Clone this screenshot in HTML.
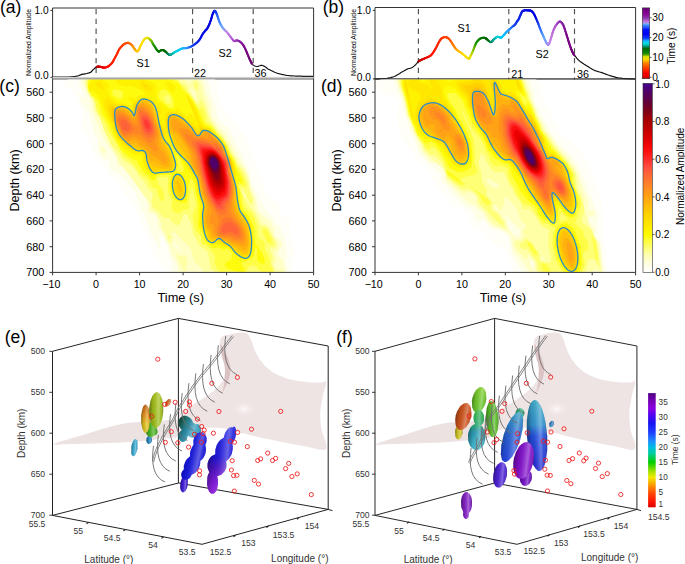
<!DOCTYPE html>
<html><head><meta charset="utf-8"><style>
html,body{margin:0;padding:0;background:#fff;}
svg{display:block;font-family:"Liberation Sans", sans-serif;}
</style></head><body>
<svg width="685" height="564" viewBox="0 0 685 564">
<rect width="685" height="564" fill="#fff"/>
<path d="M52.6 79 V8.0 H313.6 V79" fill="none" stroke="#333" stroke-width="1"/>
<line x1="50.4" y1="10.4" x2="52.6" y2="10.4" stroke="#333" stroke-width="1"/>
<line x1="50.4" y1="77.3" x2="52.6" y2="77.3" stroke="#333" stroke-width="1"/>
<text x="48.6" y="13.9" font-size="10.2" text-anchor="end" fill="#000">1.0</text>
<text x="48.6" y="79.4" font-size="10.2" text-anchor="end" fill="#000">0.0</text>
<text x="31.1" y="42.5" font-size="6.9" text-anchor="middle" fill="#000" transform="rotate(-90 31.1 42.5)">Normalized Amplitude</text>
<line x1="96.1" y1="9" x2="96.1" y2="77.9" stroke="#505050" stroke-width="1.15" stroke-dasharray="5.3 4.5"/>
<line x1="192.6" y1="9" x2="192.6" y2="77.9" stroke="#505050" stroke-width="1.15" stroke-dasharray="5.3 4.5"/>
<line x1="253.2" y1="9" x2="253.2" y2="77.9" stroke="#505050" stroke-width="1.15" stroke-dasharray="5.3 4.5"/>
<path d="M52.6 77 L55 77 L58.4 77 L62 77 L65 77 L67.2 77 L68.9 77 L70.4 76.9 L72 76.8 L73.6 76.6 L75.2 76.4 L76.7 76.1 L78 75.8 L79.1 75.5 L80 75.1 L80.9 74.7 L82 74.4 L83.4 74.1 L85.1 73.8 L86.7 73.5 L88 73.2 L89 72.9 L89.8 72.7 L90.4 72.4 L91 72 L91.5 71.5 L92 71 L92.4 70.4 L93 69.8 L93.8 69.1 L94.7 68.3 L95.7 67.5 L96.5 67" fill="none" stroke="#111" stroke-width="1.2" stroke-linejoin="round"/>
<path d="M252.4 64.4 L253 65 L253.9 65.5 L254.9 66 L255.9 66.3 L256.8 66.5 L257.4 66.5 L258 66.4 L258.4 66.2 L259 66 L259.6 65.8 L260.3 65.5 L261 65.3 L261.8 65.3 L262.7 65.5 L263.7 66 L264.6 66.5 L265.5 67 L266.2 67.5 L266.8 68 L267.3 68.5 L268 69 L268.8 69.4 L269.7 69.8 L270.7 70.3 L271.7 70.7 L272.7 71.2 L273.7 71.8 L274.8 72.3 L276 72.8 L277.3 73.2 L278.7 73.7 L280.2 74 L281.7 74.4 L283.2 74.7 L284.8 75 L286.4 75.3 L288 75.5 L289.5 75.7 L290.8 75.8 L292.3 75.9 L294 76 L296 76.1 L298.2 76.2 L300.6 76.2 L303 76.3 L305.7 76.3 L308.6 76.4 L311.2 76.4 L313 76.4" fill="none" stroke="#111" stroke-width="1.2" stroke-linejoin="round"/>
<line x1="96.5" y1="67" x2="97.2" y2="66.7" stroke="#af0000" stroke-width="2.1" stroke-linecap="round"/>
<line x1="97.2" y1="66.7" x2="97.8" y2="66.6" stroke="#b50000" stroke-width="2.1" stroke-linecap="round"/>
<line x1="97.8" y1="66.6" x2="98.4" y2="66.6" stroke="#bb0000" stroke-width="2.1" stroke-linecap="round"/>
<line x1="98.4" y1="66.6" x2="99" y2="66.6" stroke="#c00000" stroke-width="2.1" stroke-linecap="round"/>
<line x1="99" y1="66.6" x2="99.7" y2="66.7" stroke="#c60000" stroke-width="2.1" stroke-linecap="round"/>
<line x1="99.7" y1="66.7" x2="100.4" y2="66.8" stroke="#cc0000" stroke-width="2.1" stroke-linecap="round"/>
<line x1="100.4" y1="66.8" x2="101" y2="67" stroke="#d30000" stroke-width="2.1" stroke-linecap="round"/>
<line x1="101" y1="67" x2="101.7" y2="67.2" stroke="#d90000" stroke-width="2.1" stroke-linecap="round"/>
<line x1="101.7" y1="67.2" x2="102.3" y2="67.3" stroke="#df0000" stroke-width="2.1" stroke-linecap="round"/>
<line x1="102.3" y1="67.3" x2="102.8" y2="67.5" stroke="#e40000" stroke-width="2.1" stroke-linecap="round"/>
<line x1="102.8" y1="67.5" x2="103.4" y2="67.6" stroke="#e70100" stroke-width="2.1" stroke-linecap="round"/>
<line x1="103.4" y1="67.6" x2="104" y2="67.6" stroke="#e90300" stroke-width="2.1" stroke-linecap="round"/>
<line x1="104" y1="67.6" x2="104.7" y2="67.5" stroke="#ec0500" stroke-width="2.1" stroke-linecap="round"/>
<line x1="104.7" y1="67.5" x2="105.5" y2="67.4" stroke="#ef0700" stroke-width="2.1" stroke-linecap="round"/>
<line x1="105.5" y1="67.4" x2="106.3" y2="67.2" stroke="#f20a00" stroke-width="2.1" stroke-linecap="round"/>
<line x1="106.3" y1="67.2" x2="107" y2="67" stroke="#f50c00" stroke-width="2.1" stroke-linecap="round"/>
<line x1="107" y1="67" x2="107.5" y2="66.8" stroke="#f70e00" stroke-width="2.1" stroke-linecap="round"/>
<line x1="107.5" y1="66.8" x2="108" y2="66.5" stroke="#f90f00" stroke-width="2.1" stroke-linecap="round"/>
<line x1="108" y1="66.5" x2="108.5" y2="66.2" stroke="#fb1100" stroke-width="2.1" stroke-linecap="round"/>
<line x1="108.5" y1="66.2" x2="109" y2="65.8" stroke="#fd1200" stroke-width="2.1" stroke-linecap="round"/>
<line x1="109" y1="65.8" x2="109.7" y2="65.2" stroke="#ff1400" stroke-width="2.1" stroke-linecap="round"/>
<line x1="109.7" y1="65.2" x2="110.5" y2="64.5" stroke="#ff1600" stroke-width="2.1" stroke-linecap="round"/>
<line x1="110.5" y1="64.5" x2="111.3" y2="63.8" stroke="#ff1800" stroke-width="2.1" stroke-linecap="round"/>
<line x1="111.3" y1="63.8" x2="112" y2="63" stroke="#ff1b00" stroke-width="2.1" stroke-linecap="round"/>
<line x1="112" y1="63" x2="112.5" y2="62.2" stroke="#ff1c00" stroke-width="2.1" stroke-linecap="round"/>
<line x1="112.5" y1="62.2" x2="113" y2="61.4" stroke="#ff1e00" stroke-width="2.1" stroke-linecap="round"/>
<line x1="113" y1="61.4" x2="113.5" y2="60.5" stroke="#ff1f00" stroke-width="2.1" stroke-linecap="round"/>
<line x1="113.5" y1="60.5" x2="114" y2="59.5" stroke="#ff2000" stroke-width="2.1" stroke-linecap="round"/>
<line x1="114" y1="59.5" x2="114.7" y2="58.2" stroke="#ff2200" stroke-width="2.1" stroke-linecap="round"/>
<line x1="114.7" y1="58.2" x2="115.5" y2="56.8" stroke="#ff2400" stroke-width="2.1" stroke-linecap="round"/>
<line x1="115.5" y1="56.8" x2="116.3" y2="55.3" stroke="#ff2600" stroke-width="2.1" stroke-linecap="round"/>
<line x1="116.3" y1="55.3" x2="117" y2="54" stroke="#ff2800" stroke-width="2.1" stroke-linecap="round"/>
<line x1="117" y1="54" x2="117.5" y2="52.8" stroke="#ff2a00" stroke-width="2.1" stroke-linecap="round"/>
<line x1="117.5" y1="52.8" x2="118" y2="51.7" stroke="#ff2b00" stroke-width="2.1" stroke-linecap="round"/>
<line x1="118" y1="51.7" x2="118.5" y2="50.6" stroke="#ff2d00" stroke-width="2.1" stroke-linecap="round"/>
<line x1="118.5" y1="50.6" x2="119" y2="49.6" stroke="#ff2e00" stroke-width="2.1" stroke-linecap="round"/>
<line x1="119" y1="49.6" x2="119.7" y2="48.6" stroke="#ff3000" stroke-width="2.1" stroke-linecap="round"/>
<line x1="119.7" y1="48.6" x2="120.5" y2="47.6" stroke="#ff3200" stroke-width="2.1" stroke-linecap="round"/>
<line x1="120.5" y1="47.6" x2="121.3" y2="46.8" stroke="#ff3600" stroke-width="2.1" stroke-linecap="round"/>
<line x1="121.3" y1="46.8" x2="122" y2="46" stroke="#ff3900" stroke-width="2.1" stroke-linecap="round"/>
<line x1="122" y1="46" x2="122.5" y2="45.4" stroke="#ff3c00" stroke-width="2.1" stroke-linecap="round"/>
<line x1="122.5" y1="45.4" x2="123" y2="45" stroke="#ff3e00" stroke-width="2.1" stroke-linecap="round"/>
<line x1="123" y1="45" x2="123.4" y2="44.6" stroke="#ff4000" stroke-width="2.1" stroke-linecap="round"/>
<line x1="123.4" y1="44.6" x2="124" y2="44.2" stroke="#ff4200" stroke-width="2.1" stroke-linecap="round"/>
<line x1="124" y1="44.2" x2="124.8" y2="43.8" stroke="#ff4600" stroke-width="2.1" stroke-linecap="round"/>
<line x1="124.8" y1="43.8" x2="125.8" y2="43.3" stroke="#ff4a00" stroke-width="2.1" stroke-linecap="round"/>
<line x1="125.8" y1="43.3" x2="126.8" y2="43" stroke="#ff4e00" stroke-width="2.1" stroke-linecap="round"/>
<line x1="126.8" y1="43" x2="127.8" y2="42.9" stroke="#ff5300" stroke-width="2.1" stroke-linecap="round"/>
<line x1="127.8" y1="42.9" x2="128.8" y2="43.1" stroke="#ff5800" stroke-width="2.1" stroke-linecap="round"/>
<line x1="128.8" y1="43.1" x2="129.7" y2="43.5" stroke="#ff5f00" stroke-width="2.1" stroke-linecap="round"/>
<line x1="129.7" y1="43.5" x2="130.7" y2="44.1" stroke="#ff6a00" stroke-width="2.1" stroke-linecap="round"/>
<line x1="130.7" y1="44.1" x2="131.5" y2="44.7" stroke="#ff7400" stroke-width="2.1" stroke-linecap="round"/>
<line x1="131.5" y1="44.7" x2="132.2" y2="45.5" stroke="#ff7d00" stroke-width="2.1" stroke-linecap="round"/>
<line x1="132.2" y1="45.5" x2="132.9" y2="46.4" stroke="#ff8600" stroke-width="2.1" stroke-linecap="round"/>
<line x1="132.9" y1="46.4" x2="133.5" y2="47.3" stroke="#ff8d00" stroke-width="2.1" stroke-linecap="round"/>
<line x1="133.5" y1="47.3" x2="134" y2="48" stroke="#ff9300" stroke-width="2.1" stroke-linecap="round"/>
<line x1="134" y1="48" x2="134.3" y2="48.5" stroke="#ff9800" stroke-width="2.1" stroke-linecap="round"/>
<line x1="134.3" y1="48.5" x2="134.5" y2="48.9" stroke="#ff9c00" stroke-width="2.1" stroke-linecap="round"/>
<line x1="134.5" y1="48.9" x2="134.7" y2="49.2" stroke="#ff9e00" stroke-width="2.1" stroke-linecap="round"/>
<line x1="134.7" y1="49.2" x2="135" y2="49.6" stroke="#ffa100" stroke-width="2.1" stroke-linecap="round"/>
<line x1="135" y1="49.6" x2="135.4" y2="50.1" stroke="#ffa600" stroke-width="2.1" stroke-linecap="round"/>
<line x1="135.4" y1="50.1" x2="135.9" y2="50.7" stroke="#ffac00" stroke-width="2.1" stroke-linecap="round"/>
<line x1="135.9" y1="50.7" x2="136.5" y2="51.2" stroke="#ffb300" stroke-width="2.1" stroke-linecap="round"/>
<line x1="136.5" y1="51.2" x2="137" y2="51.4" stroke="#ffba00" stroke-width="2.1" stroke-linecap="round"/>
<line x1="137" y1="51.4" x2="137.5" y2="51.2" stroke="#ffc000" stroke-width="2.1" stroke-linecap="round"/>
<line x1="137.5" y1="51.2" x2="138.1" y2="50.7" stroke="#ffc500" stroke-width="2.1" stroke-linecap="round"/>
<line x1="138.1" y1="50.7" x2="138.6" y2="50.1" stroke="#ffc900" stroke-width="2.1" stroke-linecap="round"/>
<line x1="138.6" y1="50.1" x2="139" y2="49.5" stroke="#ffcc00" stroke-width="2.1" stroke-linecap="round"/>
<line x1="139" y1="49.5" x2="139.3" y2="49" stroke="#ffcf00" stroke-width="2.1" stroke-linecap="round"/>
<line x1="139.3" y1="49" x2="139.5" y2="48.4" stroke="#ffd000" stroke-width="2.1" stroke-linecap="round"/>
<line x1="139.5" y1="48.4" x2="139.7" y2="47.7" stroke="#ffd200" stroke-width="2.1" stroke-linecap="round"/>
<line x1="139.7" y1="47.7" x2="140" y2="47" stroke="#ffd400" stroke-width="2.1" stroke-linecap="round"/>
<line x1="140" y1="47" x2="140.4" y2="46.1" stroke="#ffd600" stroke-width="2.1" stroke-linecap="round"/>
<line x1="140.4" y1="46.1" x2="140.9" y2="45.1" stroke="#ffd900" stroke-width="2.1" stroke-linecap="round"/>
<line x1="140.9" y1="45.1" x2="141.5" y2="44" stroke="#ffdd00" stroke-width="2.1" stroke-linecap="round"/>
<line x1="141.5" y1="44" x2="142" y2="43" stroke="#ffe100" stroke-width="2.1" stroke-linecap="round"/>
<line x1="142" y1="43" x2="142.5" y2="42.1" stroke="#fde100" stroke-width="2.1" stroke-linecap="round"/>
<line x1="142.5" y1="42.1" x2="143" y2="41.2" stroke="#fbe100" stroke-width="2.1" stroke-linecap="round"/>
<line x1="143" y1="41.2" x2="143.5" y2="40.4" stroke="#f9e100" stroke-width="2.1" stroke-linecap="round"/>
<line x1="143.5" y1="40.4" x2="144" y2="39.7" stroke="#f7e100" stroke-width="2.1" stroke-linecap="round"/>
<line x1="144" y1="39.7" x2="144.5" y2="39.2" stroke="#f6e100" stroke-width="2.1" stroke-linecap="round"/>
<line x1="144.5" y1="39.2" x2="145" y2="38.8" stroke="#f4e100" stroke-width="2.1" stroke-linecap="round"/>
<line x1="145" y1="38.8" x2="145.5" y2="38.4" stroke="#f2e100" stroke-width="2.1" stroke-linecap="round"/>
<line x1="145.5" y1="38.4" x2="146" y2="38.2" stroke="#f0e100" stroke-width="2.1" stroke-linecap="round"/>
<line x1="146" y1="38.2" x2="146.5" y2="38" stroke="#eee100" stroke-width="2.1" stroke-linecap="round"/>
<line x1="146.5" y1="38" x2="147" y2="37.9" stroke="#ece100" stroke-width="2.1" stroke-linecap="round"/>
<line x1="147" y1="37.9" x2="147.5" y2="37.9" stroke="#eae100" stroke-width="2.1" stroke-linecap="round"/>
<line x1="147.5" y1="37.9" x2="148" y2="38" stroke="#e8e100" stroke-width="2.1" stroke-linecap="round"/>
<line x1="148" y1="38" x2="148.5" y2="38.3" stroke="#e6e100" stroke-width="2.1" stroke-linecap="round"/>
<line x1="148.5" y1="38.3" x2="149" y2="38.6" stroke="#d7dc00" stroke-width="2.1" stroke-linecap="round"/>
<line x1="149" y1="38.6" x2="149.5" y2="39.1" stroke="#c7d700" stroke-width="2.1" stroke-linecap="round"/>
<line x1="149.5" y1="39.1" x2="150" y2="39.5" stroke="#b9d300" stroke-width="2.1" stroke-linecap="round"/>
<line x1="150" y1="39.5" x2="150.4" y2="39.8" stroke="#accf00" stroke-width="2.1" stroke-linecap="round"/>
<line x1="150.4" y1="39.8" x2="150.7" y2="40.2" stroke="#a0cb00" stroke-width="2.1" stroke-linecap="round"/>
<line x1="150.7" y1="40.2" x2="151.1" y2="40.5" stroke="#96c800" stroke-width="2.1" stroke-linecap="round"/>
<line x1="151.1" y1="40.5" x2="151.4" y2="41" stroke="#89c300" stroke-width="2.1" stroke-linecap="round"/>
<line x1="151.4" y1="41" x2="151.8" y2="41.6" stroke="#7bbd00" stroke-width="2.1" stroke-linecap="round"/>
<line x1="151.8" y1="41.6" x2="152.2" y2="42.4" stroke="#6cb600" stroke-width="2.1" stroke-linecap="round"/>
<line x1="152.2" y1="42.4" x2="152.6" y2="43.2" stroke="#5cb000" stroke-width="2.1" stroke-linecap="round"/>
<line x1="152.6" y1="43.2" x2="153" y2="44" stroke="#4ba900" stroke-width="2.1" stroke-linecap="round"/>
<line x1="153" y1="44" x2="153.5" y2="44.8" stroke="#39a100" stroke-width="2.1" stroke-linecap="round"/>
<line x1="153.5" y1="44.8" x2="154" y2="45.5" stroke="#269900" stroke-width="2.1" stroke-linecap="round"/>
<line x1="154" y1="45.5" x2="154.5" y2="46.2" stroke="#1c9400" stroke-width="2.1" stroke-linecap="round"/>
<line x1="154.5" y1="46.2" x2="155" y2="47" stroke="#199100" stroke-width="2.1" stroke-linecap="round"/>
<line x1="155" y1="47" x2="155.5" y2="47.8" stroke="#168e00" stroke-width="2.1" stroke-linecap="round"/>
<line x1="155.5" y1="47.8" x2="156" y2="48.6" stroke="#138b00" stroke-width="2.1" stroke-linecap="round"/>
<line x1="156" y1="48.6" x2="156.5" y2="49.3" stroke="#118900" stroke-width="2.1" stroke-linecap="round"/>
<line x1="156.5" y1="49.3" x2="157" y2="50" stroke="#0e8600" stroke-width="2.1" stroke-linecap="round"/>
<line x1="157" y1="50" x2="157.5" y2="50.6" stroke="#0b8300" stroke-width="2.1" stroke-linecap="round"/>
<line x1="157.5" y1="50.6" x2="157.9" y2="51" stroke="#088000" stroke-width="2.1" stroke-linecap="round"/>
<line x1="157.9" y1="51" x2="158.4" y2="51.4" stroke="#067e00" stroke-width="2.1" stroke-linecap="round"/>
<line x1="158.4" y1="51.4" x2="158.8" y2="51.6" stroke="#037b00" stroke-width="2.1" stroke-linecap="round"/>
<line x1="158.8" y1="51.6" x2="159.2" y2="51.5" stroke="#017900" stroke-width="2.1" stroke-linecap="round"/>
<line x1="159.2" y1="51.5" x2="159.6" y2="51.2" stroke="#007700" stroke-width="2.1" stroke-linecap="round"/>
<line x1="159.6" y1="51.2" x2="160.1" y2="50.9" stroke="#007600" stroke-width="2.1" stroke-linecap="round"/>
<line x1="160.1" y1="50.9" x2="160.5" y2="50.6" stroke="#007400" stroke-width="2.1" stroke-linecap="round"/>
<line x1="160.5" y1="50.6" x2="161" y2="50.4" stroke="#007300" stroke-width="2.1" stroke-linecap="round"/>
<line x1="161" y1="50.4" x2="161.5" y2="50.2" stroke="#007200" stroke-width="2.1" stroke-linecap="round"/>
<line x1="161.5" y1="50.2" x2="162" y2="50" stroke="#007000" stroke-width="2.1" stroke-linecap="round"/>
<line x1="162" y1="50" x2="162.5" y2="50" stroke="#006e00" stroke-width="2.1" stroke-linecap="round"/>
<line x1="162.5" y1="50" x2="163" y2="50.1" stroke="#006d00" stroke-width="2.1" stroke-linecap="round"/>
<line x1="163" y1="50.1" x2="163.5" y2="50.3" stroke="#006b00" stroke-width="2.1" stroke-linecap="round"/>
<line x1="163.5" y1="50.3" x2="164" y2="50.5" stroke="#006a00" stroke-width="2.1" stroke-linecap="round"/>
<line x1="164" y1="50.5" x2="164.5" y2="50.8" stroke="#006800" stroke-width="2.1" stroke-linecap="round"/>
<line x1="164.5" y1="50.8" x2="164.9" y2="51.1" stroke="#006700" stroke-width="2.1" stroke-linecap="round"/>
<line x1="164.9" y1="51.1" x2="165.2" y2="51.3" stroke="#006600" stroke-width="2.1" stroke-linecap="round"/>
<line x1="165.2" y1="51.3" x2="165.6" y2="51.6" stroke="#006500" stroke-width="2.1" stroke-linecap="round"/>
<line x1="165.6" y1="51.6" x2="166" y2="52" stroke="#006605" stroke-width="2.1" stroke-linecap="round"/>
<line x1="166" y1="52" x2="166.5" y2="52.5" stroke="#006b11" stroke-width="2.1" stroke-linecap="round"/>
<line x1="166.5" y1="52.5" x2="167" y2="53" stroke="#00711e" stroke-width="2.1" stroke-linecap="round"/>
<line x1="167" y1="53" x2="167.5" y2="53.6" stroke="#00762c" stroke-width="2.1" stroke-linecap="round"/>
<line x1="167.5" y1="53.6" x2="168" y2="54" stroke="#007c3b" stroke-width="2.1" stroke-linecap="round"/>
<line x1="168" y1="54" x2="168.5" y2="54.4" stroke="#008249" stroke-width="2.1" stroke-linecap="round"/>
<line x1="168.5" y1="54.4" x2="169" y2="54.7" stroke="#008856" stroke-width="2.1" stroke-linecap="round"/>
<line x1="169" y1="54.7" x2="169.5" y2="54.9" stroke="#008e64" stroke-width="2.1" stroke-linecap="round"/>
<line x1="169.5" y1="54.9" x2="170" y2="55" stroke="#009472" stroke-width="2.1" stroke-linecap="round"/>
<line x1="170" y1="55" x2="170.5" y2="54.9" stroke="#00997d" stroke-width="2.1" stroke-linecap="round"/>
<line x1="170.5" y1="54.9" x2="170.9" y2="54.7" stroke="#009e85" stroke-width="2.1" stroke-linecap="round"/>
<line x1="170.9" y1="54.7" x2="171.4" y2="54.4" stroke="#00a38e" stroke-width="2.1" stroke-linecap="round"/>
<line x1="171.4" y1="54.4" x2="172" y2="54" stroke="#00a997" stroke-width="2.1" stroke-linecap="round"/>
<line x1="172" y1="54" x2="172.7" y2="53.6" stroke="#00afa2" stroke-width="2.1" stroke-linecap="round"/>
<line x1="172.7" y1="53.6" x2="173.4" y2="53" stroke="#00b7af" stroke-width="2.1" stroke-linecap="round"/>
<line x1="173.4" y1="53" x2="174.2" y2="52.5" stroke="#00bfbd" stroke-width="2.1" stroke-linecap="round"/>
<line x1="174.2" y1="52.5" x2="175" y2="52" stroke="#00c8cb" stroke-width="2.1" stroke-linecap="round"/>
<line x1="175" y1="52" x2="175.7" y2="51.6" stroke="#00cfd8" stroke-width="2.1" stroke-linecap="round"/>
<line x1="175.7" y1="51.6" x2="176.4" y2="51.3" stroke="#00d1df" stroke-width="2.1" stroke-linecap="round"/>
<line x1="176.4" y1="51.3" x2="177.2" y2="50.9" stroke="#00d0e4" stroke-width="2.1" stroke-linecap="round"/>
<line x1="177.2" y1="50.9" x2="178" y2="50.5" stroke="#00cee9" stroke-width="2.1" stroke-linecap="round"/>
<line x1="178" y1="50.5" x2="179" y2="50" stroke="#00ccf0" stroke-width="2.1" stroke-linecap="round"/>
<line x1="179" y1="50" x2="180.1" y2="49.4" stroke="#00caf7" stroke-width="2.1" stroke-linecap="round"/>
<line x1="180.1" y1="49.4" x2="181.2" y2="48.8" stroke="#00c8fe" stroke-width="2.1" stroke-linecap="round"/>
<line x1="181.2" y1="48.8" x2="182.4" y2="48.4" stroke="#08c0ff" stroke-width="2.1" stroke-linecap="round"/>
<line x1="182.4" y1="48.4" x2="183.6" y2="48.2" stroke="#11b7ff" stroke-width="2.1" stroke-linecap="round"/>
<line x1="183.6" y1="48.2" x2="184.9" y2="48.1" stroke="#1badff" stroke-width="2.1" stroke-linecap="round"/>
<line x1="184.9" y1="48.1" x2="186.1" y2="48.1" stroke="#24a4ff" stroke-width="2.1" stroke-linecap="round"/>
<line x1="186.1" y1="48.1" x2="187.4" y2="47.9" stroke="#2e9aff" stroke-width="2.1" stroke-linecap="round"/>
<line x1="187.4" y1="47.9" x2="188.6" y2="47.5" stroke="#2e8afd" stroke-width="2.1" stroke-linecap="round"/>
<line x1="188.6" y1="47.5" x2="189.8" y2="47.1" stroke="#2877fa" stroke-width="2.1" stroke-linecap="round"/>
<line x1="189.8" y1="47.1" x2="191.1" y2="46.6" stroke="#2163f7" stroke-width="2.1" stroke-linecap="round"/>
<line x1="191.1" y1="46.6" x2="192.3" y2="45.9" stroke="#1b50f3" stroke-width="2.1" stroke-linecap="round"/>
<line x1="192.3" y1="45.9" x2="193.6" y2="45.1" stroke="#143cf0" stroke-width="2.1" stroke-linecap="round"/>
<line x1="193.6" y1="45.1" x2="194.9" y2="44.1" stroke="#1235ee" stroke-width="2.1" stroke-linecap="round"/>
<line x1="194.9" y1="44.1" x2="196.2" y2="43.1" stroke="#102eec" stroke-width="2.1" stroke-linecap="round"/>
<line x1="196.2" y1="43.1" x2="197.3" y2="42.2" stroke="#0f27eb" stroke-width="2.1" stroke-linecap="round"/>
<line x1="197.3" y1="42.2" x2="198.1" y2="41.4" stroke="#0d22e9" stroke-width="2.1" stroke-linecap="round"/>
<line x1="198.1" y1="41.4" x2="198.8" y2="40.6" stroke="#0c1ee8" stroke-width="2.1" stroke-linecap="round"/>
<line x1="198.8" y1="40.6" x2="199.4" y2="39.9" stroke="#0c1ae8" stroke-width="2.1" stroke-linecap="round"/>
<line x1="199.4" y1="39.9" x2="200" y2="39" stroke="#0b17e7" stroke-width="2.1" stroke-linecap="round"/>
<line x1="200" y1="39" x2="200.6" y2="38" stroke="#0a14e6" stroke-width="2.1" stroke-linecap="round"/>
<line x1="200.6" y1="38" x2="201.2" y2="36.9" stroke="#0a13e6" stroke-width="2.1" stroke-linecap="round"/>
<line x1="201.2" y1="36.9" x2="201.7" y2="35.8" stroke="#0912e5" stroke-width="2.1" stroke-linecap="round"/>
<line x1="201.7" y1="35.8" x2="202.3" y2="34.7" stroke="#0911e5" stroke-width="2.1" stroke-linecap="round"/>
<line x1="202.3" y1="34.7" x2="203" y2="33.7" stroke="#0810e4" stroke-width="2.1" stroke-linecap="round"/>
<line x1="203" y1="33.7" x2="203.7" y2="32.7" stroke="#080fe4" stroke-width="2.1" stroke-linecap="round"/>
<line x1="203.7" y1="32.7" x2="204.4" y2="31.8" stroke="#070ee3" stroke-width="2.1" stroke-linecap="round"/>
<line x1="204.4" y1="31.8" x2="205" y2="31" stroke="#070de3" stroke-width="2.1" stroke-linecap="round"/>
<line x1="205" y1="31" x2="205.6" y2="30.3" stroke="#060ce2" stroke-width="2.1" stroke-linecap="round"/>
<line x1="205.6" y1="30.3" x2="206.2" y2="29.7" stroke="#060be2" stroke-width="2.1" stroke-linecap="round"/>
<line x1="206.2" y1="29.7" x2="206.7" y2="29.2" stroke="#050be1" stroke-width="2.1" stroke-linecap="round"/>
<line x1="206.7" y1="29.2" x2="207.2" y2="28.5" stroke="#050ae1" stroke-width="2.1" stroke-linecap="round"/>
<line x1="207.2" y1="28.5" x2="207.7" y2="27.7" stroke="#0509e1" stroke-width="2.1" stroke-linecap="round"/>
<line x1="207.7" y1="27.7" x2="208.1" y2="26.9" stroke="#0408e0" stroke-width="2.1" stroke-linecap="round"/>
<line x1="208.1" y1="26.9" x2="208.5" y2="26" stroke="#0408e0" stroke-width="2.1" stroke-linecap="round"/>
<line x1="208.5" y1="26" x2="209" y2="25" stroke="#0307df" stroke-width="2.1" stroke-linecap="round"/>
<line x1="209" y1="25" x2="209.5" y2="23.8" stroke="#0306df" stroke-width="2.1" stroke-linecap="round"/>
<line x1="209.5" y1="23.8" x2="210" y2="22.5" stroke="#0305df" stroke-width="2.1" stroke-linecap="round"/>
<line x1="210" y1="22.5" x2="210.5" y2="21.1" stroke="#0205de" stroke-width="2.1" stroke-linecap="round"/>
<line x1="210.5" y1="21.1" x2="211" y2="19.8" stroke="#0204de" stroke-width="2.1" stroke-linecap="round"/>
<line x1="211" y1="19.8" x2="211.4" y2="18.4" stroke="#0203de" stroke-width="2.1" stroke-linecap="round"/>
<line x1="211.4" y1="18.4" x2="211.8" y2="17" stroke="#0103dd" stroke-width="2.1" stroke-linecap="round"/>
<line x1="211.8" y1="17" x2="212.1" y2="15.7" stroke="#0102dd" stroke-width="2.1" stroke-linecap="round"/>
<line x1="212.1" y1="15.7" x2="212.5" y2="14.5" stroke="#0102dd" stroke-width="2.1" stroke-linecap="round"/>
<line x1="212.5" y1="14.5" x2="212.9" y2="13.4" stroke="#0001dc" stroke-width="2.1" stroke-linecap="round"/>
<line x1="212.9" y1="13.4" x2="213.4" y2="12.5" stroke="#0000dc" stroke-width="2.1" stroke-linecap="round"/>
<line x1="213.4" y1="12.5" x2="213.8" y2="11.7" stroke="#0307de" stroke-width="2.1" stroke-linecap="round"/>
<line x1="213.8" y1="11.7" x2="214.2" y2="11.2" stroke="#0710e2" stroke-width="2.1" stroke-linecap="round"/>
<line x1="214.2" y1="11.2" x2="214.5" y2="10.9" stroke="#0a19e5" stroke-width="2.1" stroke-linecap="round"/>
<line x1="214.5" y1="10.9" x2="214.9" y2="10.9" stroke="#0d21e7" stroke-width="2.1" stroke-linecap="round"/>
<line x1="214.9" y1="10.9" x2="215.2" y2="11.1" stroke="#1028ea" stroke-width="2.1" stroke-linecap="round"/>
<line x1="215.2" y1="11.1" x2="215.5" y2="11.5" stroke="#132fec" stroke-width="2.1" stroke-linecap="round"/>
<line x1="215.5" y1="11.5" x2="215.9" y2="12" stroke="#1637ef" stroke-width="2.1" stroke-linecap="round"/>
<line x1="215.9" y1="12" x2="216.2" y2="12.8" stroke="#193ff2" stroke-width="2.1" stroke-linecap="round"/>
<line x1="216.2" y1="12.8" x2="216.6" y2="13.7" stroke="#1d48f5" stroke-width="2.1" stroke-linecap="round"/>
<line x1="216.6" y1="13.7" x2="217.1" y2="14.9" stroke="#2152f9" stroke-width="2.1" stroke-linecap="round"/>
<line x1="217.1" y1="14.9" x2="217.6" y2="16.5" stroke="#265efd" stroke-width="2.1" stroke-linecap="round"/>
<line x1="217.6" y1="16.5" x2="218.2" y2="18.4" stroke="#2c69ff" stroke-width="2.1" stroke-linecap="round"/>
<line x1="218.2" y1="18.4" x2="218.9" y2="20.4" stroke="#3573ff" stroke-width="2.1" stroke-linecap="round"/>
<line x1="218.9" y1="20.4" x2="219.6" y2="22.3" stroke="#3e7eff" stroke-width="2.1" stroke-linecap="round"/>
<line x1="219.6" y1="22.3" x2="220.4" y2="24" stroke="#498bff" stroke-width="2.1" stroke-linecap="round"/>
<line x1="220.4" y1="24" x2="221.4" y2="25.6" stroke="#5599ff" stroke-width="2.1" stroke-linecap="round"/>
<line x1="221.4" y1="25.6" x2="222.3" y2="27.1" stroke="#63a8ff" stroke-width="2.1" stroke-linecap="round"/>
<line x1="222.3" y1="27.1" x2="223.3" y2="28.5" stroke="#73a4fb" stroke-width="2.1" stroke-linecap="round"/>
<line x1="223.3" y1="28.5" x2="224.2" y2="29.6" stroke="#849df7" stroke-width="2.1" stroke-linecap="round"/>
<line x1="224.2" y1="29.6" x2="225.1" y2="30.5" stroke="#9497f3" stroke-width="2.1" stroke-linecap="round"/>
<line x1="225.1" y1="30.5" x2="226.1" y2="31.3" stroke="#a590ef" stroke-width="2.1" stroke-linecap="round"/>
<line x1="226.1" y1="31.3" x2="227" y2="32.3" stroke="#b589eb" stroke-width="2.1" stroke-linecap="round"/>
<line x1="227" y1="32.3" x2="228" y2="33.5" stroke="#c683e6" stroke-width="2.1" stroke-linecap="round"/>
<line x1="228" y1="33.5" x2="228.9" y2="34.7" stroke="#c57be3" stroke-width="2.1" stroke-linecap="round"/>
<line x1="228.9" y1="34.7" x2="229.9" y2="36" stroke="#c174df" stroke-width="2.1" stroke-linecap="round"/>
<line x1="229.9" y1="36" x2="230.8" y2="37.2" stroke="#bd6ddb" stroke-width="2.1" stroke-linecap="round"/>
<line x1="230.8" y1="37.2" x2="231.6" y2="38.3" stroke="#ba66d8" stroke-width="2.1" stroke-linecap="round"/>
<line x1="231.6" y1="38.3" x2="232.5" y2="39.4" stroke="#b760d5" stroke-width="2.1" stroke-linecap="round"/>
<line x1="232.5" y1="39.4" x2="233.2" y2="40.4" stroke="#b45ad2" stroke-width="2.1" stroke-linecap="round"/>
<line x1="233.2" y1="40.4" x2="234" y2="41" stroke="#af54cd" stroke-width="2.1" stroke-linecap="round"/>
<line x1="234" y1="41" x2="234.7" y2="41.1" stroke="#aa4ec8" stroke-width="2.1" stroke-linecap="round"/>
<line x1="234.7" y1="41.1" x2="235.5" y2="40.8" stroke="#a648c4" stroke-width="2.1" stroke-linecap="round"/>
<line x1="235.5" y1="40.8" x2="236.2" y2="40.5" stroke="#a143bf" stroke-width="2.1" stroke-linecap="round"/>
<line x1="236.2" y1="40.5" x2="237" y2="40.4" stroke="#9d3dbb" stroke-width="2.1" stroke-linecap="round"/>
<line x1="237" y1="40.4" x2="237.9" y2="40.6" stroke="#9736b5" stroke-width="2.1" stroke-linecap="round"/>
<line x1="237.9" y1="40.6" x2="238.8" y2="41" stroke="#922fb0" stroke-width="2.1" stroke-linecap="round"/>
<line x1="238.8" y1="41" x2="239.8" y2="41.5" stroke="#8c28aa" stroke-width="2.1" stroke-linecap="round"/>
<line x1="239.8" y1="41.5" x2="240.7" y2="42.2" stroke="#8922a4" stroke-width="2.1" stroke-linecap="round"/>
<line x1="240.7" y1="42.2" x2="241.6" y2="43.1" stroke="#861c9e" stroke-width="2.1" stroke-linecap="round"/>
<line x1="241.6" y1="43.1" x2="242.5" y2="44.2" stroke="#831799" stroke-width="2.1" stroke-linecap="round"/>
<line x1="242.5" y1="44.2" x2="243.5" y2="45.5" stroke="#811193" stroke-width="2.1" stroke-linecap="round"/>
<line x1="243.5" y1="45.5" x2="244.4" y2="47.1" stroke="#7e0b8d" stroke-width="2.1" stroke-linecap="round"/>
<line x1="244.4" y1="47.1" x2="245.4" y2="49.1" stroke="#7b0688" stroke-width="2.1" stroke-linecap="round"/>
<line x1="245.4" y1="49.1" x2="246.4" y2="51.4" stroke="#780082" stroke-width="2.1" stroke-linecap="round"/>
<line x1="246.4" y1="51.4" x2="247.3" y2="53.7" stroke="#76007f" stroke-width="2.1" stroke-linecap="round"/>
<line x1="247.3" y1="53.7" x2="248.2" y2="55.8" stroke="#75007c" stroke-width="2.1" stroke-linecap="round"/>
<line x1="248.2" y1="55.8" x2="249" y2="57.6" stroke="#740079" stroke-width="2.1" stroke-linecap="round"/>
<line x1="249" y1="57.6" x2="249.7" y2="59.3" stroke="#730077" stroke-width="2.1" stroke-linecap="round"/>
<line x1="249.7" y1="59.3" x2="250.4" y2="60.7" stroke="#710075" stroke-width="2.1" stroke-linecap="round"/>
<line x1="250.4" y1="60.7" x2="251" y2="62" stroke="#700073" stroke-width="2.1" stroke-linecap="round"/>
<line x1="251" y1="62" x2="251.5" y2="63" stroke="#700071" stroke-width="2.1" stroke-linecap="round"/>
<line x1="251.5" y1="63" x2="251.9" y2="63.8" stroke="#6f0070" stroke-width="2.1" stroke-linecap="round"/>
<text x="136.5" y="66.8" font-size="10.8" text-anchor="start" fill="#000">S1</text>
<text x="218.6" y="57.4" font-size="10.8" text-anchor="start" fill="#000">S2</text>
<text x="194.1" y="77.4" font-size="10.8" text-anchor="start" fill="#000">22</text>
<text x="254.6" y="77.4" font-size="10.8" text-anchor="start" fill="#000">36</text>
<text x="-0.1" y="12.8" font-size="17.5" text-anchor="start" fill="#000">(a)</text>
<path d="M375 79 V7.5 H635.6 V79" fill="none" stroke="#333" stroke-width="1"/>
<line x1="372.8" y1="10.4" x2="375" y2="10.4" stroke="#333" stroke-width="1"/>
<line x1="372.8" y1="78.9" x2="375" y2="78.9" stroke="#333" stroke-width="1"/>
<text x="371" y="13.9" font-size="10.2" text-anchor="end" fill="#000">1.0</text>
<text x="371" y="81" font-size="10.2" text-anchor="end" fill="#000">0.0</text>
<text x="355.7" y="42.5" font-size="6.9" text-anchor="middle" fill="#000" transform="rotate(-90 355.7 42.5)">Normalized Amplitude</text>
<line x1="418.4" y1="9" x2="418.4" y2="79.5" stroke="#505050" stroke-width="1.15" stroke-dasharray="5.3 4.5"/>
<line x1="508.8" y1="9" x2="508.8" y2="79.5" stroke="#505050" stroke-width="1.15" stroke-dasharray="5.3 4.5"/>
<line x1="574.5" y1="9" x2="574.5" y2="79.5" stroke="#505050" stroke-width="1.15" stroke-dasharray="5.3 4.5"/>
<path d="M374.7 78.9 L376.3 78.9 L378.5 78.8 L381 78.8 L383 78.7 L384.5 78.6 L385.7 78.5 L386.8 78.4 L388 78.2 L389.4 77.9 L390.8 77.6 L392.3 77.2 L393.6 76.8 L394.8 76.3 L395.9 75.7 L397 75.1 L398 74.5 L398.9 73.9 L399.8 73.4 L400.6 72.8 L401.5 72.3 L402.4 71.8 L403.3 71.3 L404.2 70.8 L405 70.3 L405.8 69.9 L406.5 69.5 L407.2 69.1 L408 68.8 L408.9 68.5 L409.9 68.3 L411 68 L412 67.6 L413 66.9 L414 66.1 L415 65.2 L415.9 64.4 L416.6 63.6 L417.2 62.8 L417.8 62.1 L418.4 61.5" fill="none" stroke="#111" stroke-width="1.2" stroke-linejoin="round"/>
<path d="M575 56 L575.6 56.7 L576.2 57.4 L576.7 58.1 L577.4 58.8 L578 59.5 L578.6 60.1 L579.3 60.7 L580 61.4 L581 62.1 L582.3 63 L583.8 64 L585.4 65 L587 66 L588.6 67 L590.2 68 L591.8 68.9 L593.2 69.7 L594.3 70.2 L595.1 70.6 L596 70.9 L597 71.2 L598.3 71.6 L599.6 72 L601.1 72.4 L602.6 72.9 L604.1 73.5 L605.7 74.1 L607.3 74.7 L609 75.3 L610.7 75.9 L612.4 76.4 L614.2 76.9 L616.1 77.4 L618.2 77.8 L620.4 78.1 L622.7 78.4 L625 78.6 L627.7 78.7 L630.6 78.8 L633.2 78.9 L635 78.9" fill="none" stroke="#111" stroke-width="1.2" stroke-linejoin="round"/>
<line x1="418.4" y1="61.5" x2="419" y2="61" stroke="#ad0000" stroke-width="2.1" stroke-linecap="round"/>
<line x1="419" y1="61" x2="419.7" y2="60.6" stroke="#b30000" stroke-width="2.1" stroke-linecap="round"/>
<line x1="419.7" y1="60.6" x2="420.3" y2="60.3" stroke="#b90000" stroke-width="2.1" stroke-linecap="round"/>
<line x1="420.3" y1="60.3" x2="421" y2="60" stroke="#bf0000" stroke-width="2.1" stroke-linecap="round"/>
<line x1="421" y1="60" x2="421.7" y2="59.7" stroke="#c50000" stroke-width="2.1" stroke-linecap="round"/>
<line x1="421.7" y1="59.7" x2="422.4" y2="59.4" stroke="#cc0000" stroke-width="2.1" stroke-linecap="round"/>
<line x1="422.4" y1="59.4" x2="423.2" y2="59" stroke="#d20000" stroke-width="2.1" stroke-linecap="round"/>
<line x1="423.2" y1="59" x2="424" y2="58.7" stroke="#da0000" stroke-width="2.1" stroke-linecap="round"/>
<line x1="424" y1="58.7" x2="425" y2="58.3" stroke="#e20000" stroke-width="2.1" stroke-linecap="round"/>
<line x1="425" y1="58.3" x2="426" y2="57.9" stroke="#e80200" stroke-width="2.1" stroke-linecap="round"/>
<line x1="426" y1="57.9" x2="427" y2="57.4" stroke="#ec0500" stroke-width="2.1" stroke-linecap="round"/>
<line x1="427" y1="57.4" x2="428" y2="57" stroke="#f00800" stroke-width="2.1" stroke-linecap="round"/>
<line x1="428" y1="57" x2="428.8" y2="56.6" stroke="#f30b00" stroke-width="2.1" stroke-linecap="round"/>
<line x1="428.8" y1="56.6" x2="429.6" y2="56.2" stroke="#f60d00" stroke-width="2.1" stroke-linecap="round"/>
<line x1="429.6" y1="56.2" x2="430.3" y2="55.8" stroke="#f90f00" stroke-width="2.1" stroke-linecap="round"/>
<line x1="430.3" y1="55.8" x2="431" y2="55.2" stroke="#fc1200" stroke-width="2.1" stroke-linecap="round"/>
<line x1="431" y1="55.2" x2="431.7" y2="54.5" stroke="#ff1400" stroke-width="2.1" stroke-linecap="round"/>
<line x1="431.7" y1="54.5" x2="432.3" y2="53.8" stroke="#ff1500" stroke-width="2.1" stroke-linecap="round"/>
<line x1="432.3" y1="53.8" x2="432.9" y2="52.9" stroke="#ff1700" stroke-width="2.1" stroke-linecap="round"/>
<line x1="432.9" y1="52.9" x2="433.5" y2="52" stroke="#ff1900" stroke-width="2.1" stroke-linecap="round"/>
<line x1="433.5" y1="52" x2="434.2" y2="50.9" stroke="#ff1b00" stroke-width="2.1" stroke-linecap="round"/>
<line x1="434.2" y1="50.9" x2="434.9" y2="49.8" stroke="#ff1d00" stroke-width="2.1" stroke-linecap="round"/>
<line x1="434.9" y1="49.8" x2="435.6" y2="48.6" stroke="#ff1e00" stroke-width="2.1" stroke-linecap="round"/>
<line x1="435.6" y1="48.6" x2="436.3" y2="47.3" stroke="#ff2000" stroke-width="2.1" stroke-linecap="round"/>
<line x1="436.3" y1="47.3" x2="437" y2="46" stroke="#ff2200" stroke-width="2.1" stroke-linecap="round"/>
<line x1="437" y1="46" x2="437.7" y2="44.6" stroke="#ff2400" stroke-width="2.1" stroke-linecap="round"/>
<line x1="437.7" y1="44.6" x2="438.3" y2="43.2" stroke="#ff2600" stroke-width="2.1" stroke-linecap="round"/>
<line x1="438.3" y1="43.2" x2="439" y2="42" stroke="#ff2800" stroke-width="2.1" stroke-linecap="round"/>
<line x1="439" y1="42" x2="439.6" y2="40.9" stroke="#ff2a00" stroke-width="2.1" stroke-linecap="round"/>
<line x1="439.6" y1="40.9" x2="440.2" y2="40" stroke="#ff2b00" stroke-width="2.1" stroke-linecap="round"/>
<line x1="440.2" y1="40" x2="440.8" y2="39.2" stroke="#ff2d00" stroke-width="2.1" stroke-linecap="round"/>
<line x1="440.8" y1="39.2" x2="441.5" y2="38.5" stroke="#ff2f00" stroke-width="2.1" stroke-linecap="round"/>
<line x1="441.5" y1="38.5" x2="442.3" y2="38" stroke="#ff3100" stroke-width="2.1" stroke-linecap="round"/>
<line x1="442.3" y1="38" x2="443.2" y2="37.5" stroke="#ff3400" stroke-width="2.1" stroke-linecap="round"/>
<line x1="443.2" y1="37.5" x2="444.2" y2="37.3" stroke="#ff3800" stroke-width="2.1" stroke-linecap="round"/>
<line x1="444.2" y1="37.3" x2="445" y2="37.1" stroke="#ff3c00" stroke-width="2.1" stroke-linecap="round"/>
<line x1="445" y1="37.1" x2="445.7" y2="37.1" stroke="#ff4000" stroke-width="2.1" stroke-linecap="round"/>
<line x1="445.7" y1="37.1" x2="446.3" y2="37.3" stroke="#ff4300" stroke-width="2.1" stroke-linecap="round"/>
<line x1="446.3" y1="37.3" x2="446.9" y2="37.5" stroke="#ff4600" stroke-width="2.1" stroke-linecap="round"/>
<line x1="446.9" y1="37.5" x2="447.5" y2="37.8" stroke="#ff4900" stroke-width="2.1" stroke-linecap="round"/>
<line x1="447.5" y1="37.8" x2="448" y2="38.1" stroke="#ff4b00" stroke-width="2.1" stroke-linecap="round"/>
<line x1="448" y1="38.1" x2="448.4" y2="38.4" stroke="#ff4d00" stroke-width="2.1" stroke-linecap="round"/>
<line x1="448.4" y1="38.4" x2="448.9" y2="38.8" stroke="#ff4f00" stroke-width="2.1" stroke-linecap="round"/>
<line x1="448.9" y1="38.8" x2="449.4" y2="39.4" stroke="#ff5100" stroke-width="2.1" stroke-linecap="round"/>
<line x1="449.4" y1="39.4" x2="450" y2="40.1" stroke="#ff5400" stroke-width="2.1" stroke-linecap="round"/>
<line x1="450" y1="40.1" x2="450.6" y2="41" stroke="#ff5700" stroke-width="2.1" stroke-linecap="round"/>
<line x1="450.6" y1="41" x2="451.3" y2="42" stroke="#ff5a00" stroke-width="2.1" stroke-linecap="round"/>
<line x1="451.3" y1="42" x2="452" y2="43" stroke="#ff6200" stroke-width="2.1" stroke-linecap="round"/>
<line x1="452" y1="43" x2="452.7" y2="44.1" stroke="#ff6900" stroke-width="2.1" stroke-linecap="round"/>
<line x1="452.7" y1="44.1" x2="453.4" y2="45.2" stroke="#ff7100" stroke-width="2.1" stroke-linecap="round"/>
<line x1="453.4" y1="45.2" x2="454.1" y2="46.3" stroke="#ff7900" stroke-width="2.1" stroke-linecap="round"/>
<line x1="454.1" y1="46.3" x2="454.7" y2="47.3" stroke="#ff8100" stroke-width="2.1" stroke-linecap="round"/>
<line x1="454.7" y1="47.3" x2="455.3" y2="48.1" stroke="#ff8800" stroke-width="2.1" stroke-linecap="round"/>
<line x1="455.3" y1="48.1" x2="455.8" y2="48.8" stroke="#ff8e00" stroke-width="2.1" stroke-linecap="round"/>
<line x1="455.8" y1="48.8" x2="456.3" y2="49.4" stroke="#ff9400" stroke-width="2.1" stroke-linecap="round"/>
<line x1="456.3" y1="49.4" x2="457" y2="50" stroke="#ff9c00" stroke-width="2.1" stroke-linecap="round"/>
<line x1="457" y1="50" x2="457.8" y2="50.6" stroke="#ffa600" stroke-width="2.1" stroke-linecap="round"/>
<line x1="457.8" y1="50.6" x2="458.8" y2="51.3" stroke="#ffb100" stroke-width="2.1" stroke-linecap="round"/>
<line x1="458.8" y1="51.3" x2="459.8" y2="51.9" stroke="#ffbe00" stroke-width="2.1" stroke-linecap="round"/>
<line x1="459.8" y1="51.9" x2="460.8" y2="52.6" stroke="#ffc700" stroke-width="2.1" stroke-linecap="round"/>
<line x1="460.8" y1="52.6" x2="461.7" y2="53.3" stroke="#ffce00" stroke-width="2.1" stroke-linecap="round"/>
<line x1="461.7" y1="53.3" x2="462.6" y2="54" stroke="#ffd400" stroke-width="2.1" stroke-linecap="round"/>
<line x1="462.6" y1="54" x2="463.5" y2="54.7" stroke="#ffda00" stroke-width="2.1" stroke-linecap="round"/>
<line x1="463.5" y1="54.7" x2="464.5" y2="55.5" stroke="#ffe100" stroke-width="2.1" stroke-linecap="round"/>
<line x1="464.5" y1="55.5" x2="465.6" y2="56.4" stroke="#fbe100" stroke-width="2.1" stroke-linecap="round"/>
<line x1="465.6" y1="56.4" x2="466.7" y2="57.4" stroke="#f7e100" stroke-width="2.1" stroke-linecap="round"/>
<line x1="466.7" y1="57.4" x2="467.8" y2="58.3" stroke="#f3e100" stroke-width="2.1" stroke-linecap="round"/>
<line x1="467.8" y1="58.3" x2="468.7" y2="58.7" stroke="#efe100" stroke-width="2.1" stroke-linecap="round"/>
<line x1="468.7" y1="58.7" x2="469.3" y2="58.5" stroke="#ece100" stroke-width="2.1" stroke-linecap="round"/>
<line x1="469.3" y1="58.5" x2="469.7" y2="57.9" stroke="#eae100" stroke-width="2.1" stroke-linecap="round"/>
<line x1="469.7" y1="57.9" x2="470.1" y2="57" stroke="#e9e100" stroke-width="2.1" stroke-linecap="round"/>
<line x1="470.1" y1="57" x2="470.5" y2="56" stroke="#e7e100" stroke-width="2.1" stroke-linecap="round"/>
<line x1="470.5" y1="56" x2="471.1" y2="54.9" stroke="#dfdf00" stroke-width="2.1" stroke-linecap="round"/>
<line x1="471.1" y1="54.9" x2="471.7" y2="53.6" stroke="#ccd900" stroke-width="2.1" stroke-linecap="round"/>
<line x1="471.7" y1="53.6" x2="472.4" y2="52.2" stroke="#b8d300" stroke-width="2.1" stroke-linecap="round"/>
<line x1="472.4" y1="52.2" x2="473" y2="50.8" stroke="#a5cd00" stroke-width="2.1" stroke-linecap="round"/>
<line x1="473" y1="50.8" x2="473.5" y2="49.5" stroke="#92c700" stroke-width="2.1" stroke-linecap="round"/>
<line x1="473.5" y1="49.5" x2="474" y2="48.1" stroke="#7fbe00" stroke-width="2.1" stroke-linecap="round"/>
<line x1="474" y1="48.1" x2="474.5" y2="46.8" stroke="#6cb600" stroke-width="2.1" stroke-linecap="round"/>
<line x1="474.5" y1="46.8" x2="475" y2="45.5" stroke="#58ae00" stroke-width="2.1" stroke-linecap="round"/>
<line x1="475" y1="45.5" x2="475.6" y2="44.3" stroke="#43a500" stroke-width="2.1" stroke-linecap="round"/>
<line x1="475.6" y1="44.3" x2="476.1" y2="43.2" stroke="#2d9c00" stroke-width="2.1" stroke-linecap="round"/>
<line x1="476.1" y1="43.2" x2="476.7" y2="42.1" stroke="#1d9500" stroke-width="2.1" stroke-linecap="round"/>
<line x1="476.7" y1="42.1" x2="477.4" y2="41.2" stroke="#199100" stroke-width="2.1" stroke-linecap="round"/>
<line x1="477.4" y1="41.2" x2="478.1" y2="40.4" stroke="#158d00" stroke-width="2.1" stroke-linecap="round"/>
<line x1="478.1" y1="40.4" x2="478.9" y2="39.6" stroke="#118900" stroke-width="2.1" stroke-linecap="round"/>
<line x1="478.9" y1="39.6" x2="479.7" y2="39" stroke="#0c8400" stroke-width="2.1" stroke-linecap="round"/>
<line x1="479.7" y1="39" x2="480.5" y2="38.5" stroke="#088000" stroke-width="2.1" stroke-linecap="round"/>
<line x1="480.5" y1="38.5" x2="481.3" y2="38.1" stroke="#037b00" stroke-width="2.1" stroke-linecap="round"/>
<line x1="481.3" y1="38.1" x2="482.1" y2="37.9" stroke="#007700" stroke-width="2.1" stroke-linecap="round"/>
<line x1="482.1" y1="37.9" x2="482.9" y2="37.7" stroke="#007500" stroke-width="2.1" stroke-linecap="round"/>
<line x1="482.9" y1="37.7" x2="483.6" y2="37.7" stroke="#007200" stroke-width="2.1" stroke-linecap="round"/>
<line x1="483.6" y1="37.7" x2="484.3" y2="37.8" stroke="#007000" stroke-width="2.1" stroke-linecap="round"/>
<line x1="484.3" y1="37.8" x2="484.9" y2="38" stroke="#006e00" stroke-width="2.1" stroke-linecap="round"/>
<line x1="484.9" y1="38" x2="485.5" y2="38.3" stroke="#006c00" stroke-width="2.1" stroke-linecap="round"/>
<line x1="485.5" y1="38.3" x2="486" y2="38.5" stroke="#006b00" stroke-width="2.1" stroke-linecap="round"/>
<line x1="486" y1="38.5" x2="486.3" y2="38.7" stroke="#006900" stroke-width="2.1" stroke-linecap="round"/>
<line x1="486.3" y1="38.7" x2="486.5" y2="38.8" stroke="#006900" stroke-width="2.1" stroke-linecap="round"/>
<line x1="486.5" y1="38.8" x2="486.7" y2="39.1" stroke="#006800" stroke-width="2.1" stroke-linecap="round"/>
<line x1="486.7" y1="39.1" x2="487.1" y2="39.4" stroke="#006700" stroke-width="2.1" stroke-linecap="round"/>
<line x1="487.1" y1="39.4" x2="487.8" y2="40" stroke="#006600" stroke-width="2.1" stroke-linecap="round"/>
<line x1="487.8" y1="40" x2="488.6" y2="40.8" stroke="#006706" stroke-width="2.1" stroke-linecap="round"/>
<line x1="488.6" y1="40.8" x2="489.5" y2="41.5" stroke="#00701e" stroke-width="2.1" stroke-linecap="round"/>
<line x1="489.5" y1="41.5" x2="490.2" y2="42" stroke="#007a34" stroke-width="2.1" stroke-linecap="round"/>
<line x1="490.2" y1="42" x2="490.8" y2="42.1" stroke="#008146" stroke-width="2.1" stroke-linecap="round"/>
<line x1="490.8" y1="42.1" x2="491.2" y2="42" stroke="#008754" stroke-width="2.1" stroke-linecap="round"/>
<line x1="491.2" y1="42" x2="491.6" y2="41.8" stroke="#008c60" stroke-width="2.1" stroke-linecap="round"/>
<line x1="491.6" y1="41.8" x2="492" y2="41.5" stroke="#00906b" stroke-width="2.1" stroke-linecap="round"/>
<line x1="492" y1="41.5" x2="492.3" y2="41.2" stroke="#009474" stroke-width="2.1" stroke-linecap="round"/>
<line x1="492.3" y1="41.2" x2="492.6" y2="40.8" stroke="#00987b" stroke-width="2.1" stroke-linecap="round"/>
<line x1="492.6" y1="40.8" x2="492.8" y2="40.4" stroke="#009a7f" stroke-width="2.1" stroke-linecap="round"/>
<line x1="492.8" y1="40.4" x2="493.2" y2="40" stroke="#009e85" stroke-width="2.1" stroke-linecap="round"/>
<line x1="493.2" y1="40" x2="493.7" y2="39.5" stroke="#00a28c" stroke-width="2.1" stroke-linecap="round"/>
<line x1="493.7" y1="39.5" x2="494.3" y2="39" stroke="#00a896" stroke-width="2.1" stroke-linecap="round"/>
<line x1="494.3" y1="39" x2="494.9" y2="38.5" stroke="#00aea1" stroke-width="2.1" stroke-linecap="round"/>
<line x1="494.9" y1="38.5" x2="495.5" y2="38" stroke="#00b5ab" stroke-width="2.1" stroke-linecap="round"/>
<line x1="495.5" y1="38" x2="496" y2="37.6" stroke="#00bbb5" stroke-width="2.1" stroke-linecap="round"/>
<line x1="496" y1="37.6" x2="496.5" y2="37.2" stroke="#00c0bf" stroke-width="2.1" stroke-linecap="round"/>
<line x1="496.5" y1="37.2" x2="497.1" y2="36.9" stroke="#00c6c8" stroke-width="2.1" stroke-linecap="round"/>
<line x1="497.1" y1="36.9" x2="497.6" y2="36.8" stroke="#00cbd1" stroke-width="2.1" stroke-linecap="round"/>
<line x1="497.6" y1="36.8" x2="498.2" y2="36.9" stroke="#00d2db" stroke-width="2.1" stroke-linecap="round"/>
<line x1="498.2" y1="36.9" x2="498.9" y2="37.1" stroke="#00d1e0" stroke-width="2.1" stroke-linecap="round"/>
<line x1="498.9" y1="37.1" x2="499.5" y2="37.3" stroke="#00d0e4" stroke-width="2.1" stroke-linecap="round"/>
<line x1="499.5" y1="37.3" x2="500" y2="37.5" stroke="#00cfe8" stroke-width="2.1" stroke-linecap="round"/>
<line x1="500" y1="37.5" x2="500.4" y2="37.6" stroke="#00ceeb" stroke-width="2.1" stroke-linecap="round"/>
<line x1="500.4" y1="37.6" x2="500.6" y2="37.7" stroke="#00cded" stroke-width="2.1" stroke-linecap="round"/>
<line x1="500.6" y1="37.7" x2="500.8" y2="37.8" stroke="#00cdef" stroke-width="2.1" stroke-linecap="round"/>
<line x1="500.8" y1="37.8" x2="501.1" y2="37.7" stroke="#00ccf0" stroke-width="2.1" stroke-linecap="round"/>
<line x1="501.1" y1="37.7" x2="501.4" y2="37.5" stroke="#00ccf2" stroke-width="2.1" stroke-linecap="round"/>
<line x1="501.4" y1="37.5" x2="501.7" y2="37.3" stroke="#00cbf4" stroke-width="2.1" stroke-linecap="round"/>
<line x1="501.7" y1="37.3" x2="502.1" y2="36.9" stroke="#00caf7" stroke-width="2.1" stroke-linecap="round"/>
<line x1="502.1" y1="36.9" x2="502.5" y2="36.5" stroke="#00caf9" stroke-width="2.1" stroke-linecap="round"/>
<line x1="502.5" y1="36.5" x2="503" y2="36" stroke="#00c9fc" stroke-width="2.1" stroke-linecap="round"/>
<line x1="503" y1="36" x2="503.5" y2="35.4" stroke="#00c8ff" stroke-width="2.1" stroke-linecap="round"/>
<line x1="503.5" y1="35.4" x2="504" y2="34.8" stroke="#05c3ff" stroke-width="2.1" stroke-linecap="round"/>
<line x1="504" y1="34.8" x2="504.6" y2="34.2" stroke="#09bfff" stroke-width="2.1" stroke-linecap="round"/>
<line x1="504.6" y1="34.2" x2="505.2" y2="33.5" stroke="#0dbbff" stroke-width="2.1" stroke-linecap="round"/>
<line x1="505.2" y1="33.5" x2="505.8" y2="32.8" stroke="#12b6ff" stroke-width="2.1" stroke-linecap="round"/>
<line x1="505.8" y1="32.8" x2="506.4" y2="32.1" stroke="#17b1ff" stroke-width="2.1" stroke-linecap="round"/>
<line x1="506.4" y1="32.1" x2="507" y2="31.5" stroke="#1badff" stroke-width="2.1" stroke-linecap="round"/>
<line x1="507" y1="31.5" x2="507.5" y2="31" stroke="#1fa9ff" stroke-width="2.1" stroke-linecap="round"/>
<line x1="507.5" y1="31" x2="508" y2="30.7" stroke="#23a5ff" stroke-width="2.1" stroke-linecap="round"/>
<line x1="508" y1="30.7" x2="508.4" y2="30.3" stroke="#27a1ff" stroke-width="2.1" stroke-linecap="round"/>
<line x1="508.4" y1="30.3" x2="509" y2="29.8" stroke="#2b9dff" stroke-width="2.1" stroke-linecap="round"/>
<line x1="509" y1="29.8" x2="509.7" y2="29.2" stroke="#2f99ff" stroke-width="2.1" stroke-linecap="round"/>
<line x1="509.7" y1="29.2" x2="510.4" y2="28.5" stroke="#3090fe" stroke-width="2.1" stroke-linecap="round"/>
<line x1="510.4" y1="28.5" x2="511.2" y2="27.7" stroke="#2c84fc" stroke-width="2.1" stroke-linecap="round"/>
<line x1="511.2" y1="27.7" x2="512" y2="27" stroke="#2877fa" stroke-width="2.1" stroke-linecap="round"/>
<line x1="512" y1="27" x2="512.8" y2="26.4" stroke="#246bf8" stroke-width="2.1" stroke-linecap="round"/>
<line x1="512.8" y1="26.4" x2="513.6" y2="25.8" stroke="#1f5ef6" stroke-width="2.1" stroke-linecap="round"/>
<line x1="513.6" y1="25.8" x2="514.4" y2="25.2" stroke="#1b51f4" stroke-width="2.1" stroke-linecap="round"/>
<line x1="514.4" y1="25.2" x2="515.1" y2="24.5" stroke="#1745f2" stroke-width="2.1" stroke-linecap="round"/>
<line x1="515.1" y1="24.5" x2="515.7" y2="23.8" stroke="#143cf0" stroke-width="2.1" stroke-linecap="round"/>
<line x1="515.7" y1="23.8" x2="516.1" y2="23" stroke="#1339ef" stroke-width="2.1" stroke-linecap="round"/>
<line x1="516.1" y1="23" x2="516.6" y2="22.2" stroke="#1336ef" stroke-width="2.1" stroke-linecap="round"/>
<line x1="516.6" y1="22.2" x2="517" y2="21.5" stroke="#1234ee" stroke-width="2.1" stroke-linecap="round"/>
<line x1="517" y1="21.5" x2="517.4" y2="20.9" stroke="#1132ed" stroke-width="2.1" stroke-linecap="round"/>
<line x1="517.4" y1="20.9" x2="517.8" y2="20.5" stroke="#1130ed" stroke-width="2.1" stroke-linecap="round"/>
<line x1="517.8" y1="20.5" x2="518.2" y2="20" stroke="#102eec" stroke-width="2.1" stroke-linecap="round"/>
<line x1="518.2" y1="20" x2="518.6" y2="19.3" stroke="#102bec" stroke-width="2.1" stroke-linecap="round"/>
<line x1="518.6" y1="19.3" x2="519.1" y2="18.4" stroke="#0f29eb" stroke-width="2.1" stroke-linecap="round"/>
<line x1="519.1" y1="18.4" x2="519.5" y2="17.2" stroke="#0f27eb" stroke-width="2.1" stroke-linecap="round"/>
<line x1="519.5" y1="17.2" x2="520" y2="16.1" stroke="#0e24ea" stroke-width="2.1" stroke-linecap="round"/>
<line x1="520" y1="16.1" x2="520.5" y2="15" stroke="#0d21e9" stroke-width="2.1" stroke-linecap="round"/>
<line x1="520.5" y1="15" x2="520.9" y2="14" stroke="#0d1fe9" stroke-width="2.1" stroke-linecap="round"/>
<line x1="520.9" y1="14" x2="521.3" y2="13.1" stroke="#0c1de8" stroke-width="2.1" stroke-linecap="round"/>
<line x1="521.3" y1="13.1" x2="521.7" y2="12.3" stroke="#0c1be8" stroke-width="2.1" stroke-linecap="round"/>
<line x1="521.7" y1="12.3" x2="522.1" y2="11.6" stroke="#0b19e7" stroke-width="2.1" stroke-linecap="round"/>
<line x1="522.1" y1="11.6" x2="522.6" y2="11.1" stroke="#0b16e7" stroke-width="2.1" stroke-linecap="round"/>
<line x1="522.6" y1="11.1" x2="523" y2="10.8" stroke="#0a14e6" stroke-width="2.1" stroke-linecap="round"/>
<line x1="523" y1="10.8" x2="523.5" y2="10.7" stroke="#0a13e6" stroke-width="2.1" stroke-linecap="round"/>
<line x1="523.5" y1="10.7" x2="524" y2="10.5" stroke="#0912e5" stroke-width="2.1" stroke-linecap="round"/>
<line x1="524" y1="10.5" x2="524.5" y2="10.4" stroke="#0912e5" stroke-width="2.1" stroke-linecap="round"/>
<line x1="524.5" y1="10.4" x2="524.9" y2="10.3" stroke="#0811e4" stroke-width="2.1" stroke-linecap="round"/>
<line x1="524.9" y1="10.3" x2="525.4" y2="10.3" stroke="#0810e4" stroke-width="2.1" stroke-linecap="round"/>
<line x1="525.4" y1="10.3" x2="526" y2="10.3" stroke="#080fe4" stroke-width="2.1" stroke-linecap="round"/>
<line x1="526" y1="10.3" x2="526.7" y2="10.3" stroke="#070ee3" stroke-width="2.1" stroke-linecap="round"/>
<line x1="526.7" y1="10.3" x2="527.5" y2="10.4" stroke="#070de3" stroke-width="2.1" stroke-linecap="round"/>
<line x1="527.5" y1="10.4" x2="528.3" y2="10.4" stroke="#060ce2" stroke-width="2.1" stroke-linecap="round"/>
<line x1="528.3" y1="10.4" x2="529" y2="10.5" stroke="#050be1" stroke-width="2.1" stroke-linecap="round"/>
<line x1="529" y1="10.5" x2="529.6" y2="10.5" stroke="#050ae1" stroke-width="2.1" stroke-linecap="round"/>
<line x1="529.6" y1="10.5" x2="530.1" y2="10.6" stroke="#0509e1" stroke-width="2.1" stroke-linecap="round"/>
<line x1="530.1" y1="10.6" x2="530.5" y2="10.6" stroke="#0408e0" stroke-width="2.1" stroke-linecap="round"/>
<line x1="530.5" y1="10.6" x2="531" y2="10.8" stroke="#0408e0" stroke-width="2.1" stroke-linecap="round"/>
<line x1="531" y1="10.8" x2="531.5" y2="11.1" stroke="#0307df" stroke-width="2.1" stroke-linecap="round"/>
<line x1="531.5" y1="11.1" x2="532" y2="11.4" stroke="#0306df" stroke-width="2.1" stroke-linecap="round"/>
<line x1="532" y1="11.4" x2="532.5" y2="11.9" stroke="#0305df" stroke-width="2.1" stroke-linecap="round"/>
<line x1="532.5" y1="11.9" x2="533" y2="12.5" stroke="#0205de" stroke-width="2.1" stroke-linecap="round"/>
<line x1="533" y1="12.5" x2="533.5" y2="13.2" stroke="#0204de" stroke-width="2.1" stroke-linecap="round"/>
<line x1="533.5" y1="13.2" x2="534" y2="14.1" stroke="#0203de" stroke-width="2.1" stroke-linecap="round"/>
<line x1="534" y1="14.1" x2="534.5" y2="15" stroke="#0102dd" stroke-width="2.1" stroke-linecap="round"/>
<line x1="534.5" y1="15" x2="535.1" y2="16.2" stroke="#0101dd" stroke-width="2.1" stroke-linecap="round"/>
<line x1="535.1" y1="16.2" x2="535.7" y2="17.6" stroke="#0001dc" stroke-width="2.1" stroke-linecap="round"/>
<line x1="535.7" y1="17.6" x2="536.4" y2="19.1" stroke="#0307de" stroke-width="2.1" stroke-linecap="round"/>
<line x1="536.4" y1="19.1" x2="537.1" y2="20.8" stroke="#0917e4" stroke-width="2.1" stroke-linecap="round"/>
<line x1="537.1" y1="20.8" x2="537.8" y2="22.5" stroke="#1027ea" stroke-width="2.1" stroke-linecap="round"/>
<line x1="537.8" y1="22.5" x2="538.5" y2="24.2" stroke="#1636ef" stroke-width="2.1" stroke-linecap="round"/>
<line x1="538.5" y1="24.2" x2="539.1" y2="26.1" stroke="#1c46f4" stroke-width="2.1" stroke-linecap="round"/>
<line x1="539.1" y1="26.1" x2="539.8" y2="27.9" stroke="#2255fa" stroke-width="2.1" stroke-linecap="round"/>
<line x1="539.8" y1="27.9" x2="540.5" y2="29.7" stroke="#2865ff" stroke-width="2.1" stroke-linecap="round"/>
<line x1="540.5" y1="29.7" x2="541.2" y2="31.5" stroke="#3270ff" stroke-width="2.1" stroke-linecap="round"/>
<line x1="541.2" y1="31.5" x2="542" y2="33.2" stroke="#3d7cff" stroke-width="2.1" stroke-linecap="round"/>
<line x1="542" y1="33.2" x2="542.8" y2="34.9" stroke="#4889ff" stroke-width="2.1" stroke-linecap="round"/>
<line x1="542.8" y1="34.9" x2="543.5" y2="36.5" stroke="#5295ff" stroke-width="2.1" stroke-linecap="round"/>
<line x1="543.5" y1="36.5" x2="544.2" y2="38" stroke="#5ba0ff" stroke-width="2.1" stroke-linecap="round"/>
<line x1="544.2" y1="38" x2="544.8" y2="39.5" stroke="#64aaff" stroke-width="2.1" stroke-linecap="round"/>
<line x1="544.8" y1="39.5" x2="545.4" y2="40.8" stroke="#6fa6fc" stroke-width="2.1" stroke-linecap="round"/>
<line x1="545.4" y1="40.8" x2="545.9" y2="41.9" stroke="#79a2fa" stroke-width="2.1" stroke-linecap="round"/>
<line x1="545.9" y1="41.9" x2="546.3" y2="42.7" stroke="#819ef8" stroke-width="2.1" stroke-linecap="round"/>
<line x1="546.3" y1="42.7" x2="546.7" y2="43.2" stroke="#889cf6" stroke-width="2.1" stroke-linecap="round"/>
<line x1="546.7" y1="43.2" x2="547" y2="43.7" stroke="#8e99f5" stroke-width="2.1" stroke-linecap="round"/>
<line x1="547" y1="43.7" x2="547.3" y2="44" stroke="#9397f3" stroke-width="2.1" stroke-linecap="round"/>
<line x1="547.3" y1="44" x2="547.6" y2="44.4" stroke="#9995f2" stroke-width="2.1" stroke-linecap="round"/>
<line x1="547.6" y1="44.4" x2="547.9" y2="44.7" stroke="#9e93f0" stroke-width="2.1" stroke-linecap="round"/>
<line x1="547.9" y1="44.7" x2="548.2" y2="44.9" stroke="#a490ef" stroke-width="2.1" stroke-linecap="round"/>
<line x1="548.2" y1="44.9" x2="548.6" y2="44.6" stroke="#aa8eee" stroke-width="2.1" stroke-linecap="round"/>
<line x1="548.6" y1="44.6" x2="549" y2="43.9" stroke="#b18bec" stroke-width="2.1" stroke-linecap="round"/>
<line x1="549" y1="43.9" x2="549.5" y2="42.8" stroke="#b988ea" stroke-width="2.1" stroke-linecap="round"/>
<line x1="549.5" y1="42.8" x2="550" y2="41.5" stroke="#c185e8" stroke-width="2.1" stroke-linecap="round"/>
<line x1="550" y1="41.5" x2="550.5" y2="40" stroke="#c781e5" stroke-width="2.1" stroke-linecap="round"/>
<line x1="550.5" y1="40" x2="551" y2="38.2" stroke="#c57de3" stroke-width="2.1" stroke-linecap="round"/>
<line x1="551" y1="38.2" x2="551.6" y2="36.2" stroke="#c379e1" stroke-width="2.1" stroke-linecap="round"/>
<line x1="551.6" y1="36.2" x2="552.2" y2="34.2" stroke="#c174df" stroke-width="2.1" stroke-linecap="round"/>
<line x1="552.2" y1="34.2" x2="552.7" y2="32.4" stroke="#bf70dd" stroke-width="2.1" stroke-linecap="round"/>
<line x1="552.7" y1="32.4" x2="553.2" y2="30.9" stroke="#bd6cdb" stroke-width="2.1" stroke-linecap="round"/>
<line x1="553.2" y1="30.9" x2="553.7" y2="29.7" stroke="#bb68d9" stroke-width="2.1" stroke-linecap="round"/>
<line x1="553.7" y1="29.7" x2="554.2" y2="28.5" stroke="#b965d7" stroke-width="2.1" stroke-linecap="round"/>
<line x1="554.2" y1="28.5" x2="554.7" y2="27.5" stroke="#b761d5" stroke-width="2.1" stroke-linecap="round"/>
<line x1="554.7" y1="27.5" x2="555.2" y2="26.6" stroke="#b55dd3" stroke-width="2.1" stroke-linecap="round"/>
<line x1="555.2" y1="26.6" x2="555.7" y2="25.7" stroke="#b359d1" stroke-width="2.1" stroke-linecap="round"/>
<line x1="555.7" y1="25.7" x2="556.2" y2="25" stroke="#b055ce" stroke-width="2.1" stroke-linecap="round"/>
<line x1="556.2" y1="25" x2="556.7" y2="24.3" stroke="#ad51cb" stroke-width="2.1" stroke-linecap="round"/>
<line x1="556.7" y1="24.3" x2="557.2" y2="23.7" stroke="#aa4ec8" stroke-width="2.1" stroke-linecap="round"/>
<line x1="557.2" y1="23.7" x2="557.6" y2="23.1" stroke="#a74ac5" stroke-width="2.1" stroke-linecap="round"/>
<line x1="557.6" y1="23.1" x2="558.1" y2="22.7" stroke="#a547c3" stroke-width="2.1" stroke-linecap="round"/>
<line x1="558.1" y1="22.7" x2="558.5" y2="22.3" stroke="#a243c0" stroke-width="2.1" stroke-linecap="round"/>
<line x1="558.5" y1="22.3" x2="558.9" y2="22" stroke="#9f40bd" stroke-width="2.1" stroke-linecap="round"/>
<line x1="558.9" y1="22" x2="559.3" y2="21.8" stroke="#9d3dbb" stroke-width="2.1" stroke-linecap="round"/>
<line x1="559.3" y1="21.8" x2="559.6" y2="21.6" stroke="#9b3bb9" stroke-width="2.1" stroke-linecap="round"/>
<line x1="559.6" y1="21.6" x2="560" y2="21.6" stroke="#9938b7" stroke-width="2.1" stroke-linecap="round"/>
<line x1="560" y1="21.6" x2="560.4" y2="21.7" stroke="#9635b4" stroke-width="2.1" stroke-linecap="round"/>
<line x1="560.4" y1="21.7" x2="560.9" y2="22" stroke="#9331b1" stroke-width="2.1" stroke-linecap="round"/>
<line x1="560.9" y1="22" x2="561.3" y2="22.3" stroke="#902eae" stroke-width="2.1" stroke-linecap="round"/>
<line x1="561.3" y1="22.3" x2="561.8" y2="22.8" stroke="#8e2aac" stroke-width="2.1" stroke-linecap="round"/>
<line x1="561.8" y1="22.8" x2="562.2" y2="23.3" stroke="#8c27a9" stroke-width="2.1" stroke-linecap="round"/>
<line x1="562.2" y1="23.3" x2="562.6" y2="24" stroke="#8a24a6" stroke-width="2.1" stroke-linecap="round"/>
<line x1="562.6" y1="24" x2="563.1" y2="24.7" stroke="#8922a4" stroke-width="2.1" stroke-linecap="round"/>
<line x1="563.1" y1="24.7" x2="563.5" y2="25.7" stroke="#881fa1" stroke-width="2.1" stroke-linecap="round"/>
<line x1="563.5" y1="25.7" x2="564" y2="26.9" stroke="#861c9e" stroke-width="2.1" stroke-linecap="round"/>
<line x1="564" y1="26.9" x2="564.5" y2="28.4" stroke="#85199b" stroke-width="2.1" stroke-linecap="round"/>
<line x1="564.5" y1="28.4" x2="565" y2="29.9" stroke="#831698" stroke-width="2.1" stroke-linecap="round"/>
<line x1="565" y1="29.9" x2="565.5" y2="31.5" stroke="#821395" stroke-width="2.1" stroke-linecap="round"/>
<line x1="565.5" y1="31.5" x2="566" y2="33" stroke="#801092" stroke-width="2.1" stroke-linecap="round"/>
<line x1="566" y1="33" x2="566.5" y2="34.6" stroke="#7f0d8f" stroke-width="2.1" stroke-linecap="round"/>
<line x1="566.5" y1="34.6" x2="567" y2="36.2" stroke="#7d0a8c" stroke-width="2.1" stroke-linecap="round"/>
<line x1="567" y1="36.2" x2="567.5" y2="37.8" stroke="#7b0789" stroke-width="2.1" stroke-linecap="round"/>
<line x1="567.5" y1="37.8" x2="568" y2="39.5" stroke="#7a0486" stroke-width="2.1" stroke-linecap="round"/>
<line x1="568" y1="39.5" x2="568.5" y2="41.2" stroke="#780183" stroke-width="2.1" stroke-linecap="round"/>
<line x1="568.5" y1="41.2" x2="569.1" y2="42.9" stroke="#770081" stroke-width="2.1" stroke-linecap="round"/>
<line x1="569.1" y1="42.9" x2="569.6" y2="44.5" stroke="#77007f" stroke-width="2.1" stroke-linecap="round"/>
<line x1="569.6" y1="44.5" x2="570.1" y2="46" stroke="#76007d" stroke-width="2.1" stroke-linecap="round"/>
<line x1="570.1" y1="46" x2="570.6" y2="47.4" stroke="#75007c" stroke-width="2.1" stroke-linecap="round"/>
<line x1="570.6" y1="47.4" x2="571.1" y2="48.8" stroke="#74007a" stroke-width="2.1" stroke-linecap="round"/>
<line x1="571.1" y1="48.8" x2="571.6" y2="50" stroke="#730079" stroke-width="2.1" stroke-linecap="round"/>
<line x1="571.6" y1="50" x2="572.1" y2="51.1" stroke="#730077" stroke-width="2.1" stroke-linecap="round"/>
<line x1="572.1" y1="51.1" x2="572.5" y2="52.2" stroke="#720076" stroke-width="2.1" stroke-linecap="round"/>
<line x1="572.5" y1="52.2" x2="573" y2="53.1" stroke="#710074" stroke-width="2.1" stroke-linecap="round"/>
<line x1="573" y1="53.1" x2="573.5" y2="54" stroke="#710073" stroke-width="2.1" stroke-linecap="round"/>
<line x1="573.5" y1="54" x2="574" y2="54.8" stroke="#700071" stroke-width="2.1" stroke-linecap="round"/>
<line x1="574" y1="54.8" x2="574.5" y2="55.4" stroke="#6f0070" stroke-width="2.1" stroke-linecap="round"/>
<text x="457.6" y="31.6" font-size="10.8" text-anchor="start" fill="#000">S1</text>
<text x="535.5" y="58" font-size="10.8" text-anchor="start" fill="#000">S2</text>
<text x="511.2" y="77.6" font-size="10.8" text-anchor="start" fill="#000">21</text>
<text x="577" y="77.8" font-size="10.8" text-anchor="start" fill="#000">36</text>
<text x="322.8" y="12.8" font-size="17.5" text-anchor="start" fill="#000">(b)</text>
<rect x="52.6" y="76.9" width="261.0" height="1.6" fill="#cfcfcf"/>
<rect x="52.6" y="78.4" width="261.0" height="1.2" fill="#7a7a7a"/>
<rect x="375" y="78.3" width="260.6" height="1.3" fill="#333"/>
<defs><linearGradient id="tcb" x1="0" y1="1" x2="0" y2="0"><stop offset="0.000" stop-color="#c00000"/><stop offset="0.040" stop-color="#e80000"/><stop offset="0.081" stop-color="#ff0000"/><stop offset="0.117" stop-color="#ff2000"/><stop offset="0.165" stop-color="#ff4a00"/><stop offset="0.195" stop-color="#ff6a00"/><stop offset="0.229" stop-color="#ff9000"/><stop offset="0.254" stop-color="#ffc000"/><stop offset="0.284" stop-color="#f0e000"/><stop offset="0.312" stop-color="#d8e000"/><stop offset="0.332" stop-color="#70b000"/><stop offset="0.352" stop-color="#209000"/><stop offset="0.391" stop-color="#007800"/><stop offset="0.429" stop-color="#006800"/><stop offset="0.449" stop-color="#008a60"/><stop offset="0.469" stop-color="#00b0a0"/><stop offset="0.499" stop-color="#00e0e0"/><stop offset="0.528" stop-color="#10c0ff"/><stop offset="0.547" stop-color="#2090ff"/><stop offset="0.566" stop-color="#1040ff"/><stop offset="0.631" stop-color="#0000f0"/><stop offset="0.694" stop-color="#0010ff"/><stop offset="0.719" stop-color="#2050ff"/><stop offset="0.743" stop-color="#3070ff"/><stop offset="0.763" stop-color="#50a0ff"/><stop offset="0.781" stop-color="#90a0f0"/><stop offset="0.797" stop-color="#c080e0"/><stop offset="0.811" stop-color="#c070d8"/><stop offset="0.836" stop-color="#a050c0"/><stop offset="0.860" stop-color="#9030b0"/><stop offset="0.900" stop-color="#88109a"/><stop offset="0.938" stop-color="#800090"/><stop offset="0.970" stop-color="#740084"/><stop offset="1.000" stop-color="#6a0078"/></linearGradient>
<linearGradient id="acb" x1="0" y1="1" x2="0" y2="0"><stop offset="0.000" stop-color="#ffffff"/><stop offset="0.050" stop-color="#ffffde"/><stop offset="0.100" stop-color="#ffffa5"/><stop offset="0.150" stop-color="#ffff55"/><stop offset="0.200" stop-color="#fffa00"/><stop offset="0.300" stop-color="#ffd400"/><stop offset="0.400" stop-color="#ffa214"/><stop offset="0.500" stop-color="#ff7032"/><stop offset="0.550" stop-color="#ff523e"/><stop offset="0.600" stop-color="#ff2a2a"/><stop offset="0.650" stop-color="#fa0a0a"/><stop offset="0.700" stop-color="#e20000"/><stop offset="0.800" stop-color="#a80000"/><stop offset="0.850" stop-color="#800018"/><stop offset="0.900" stop-color="#620038"/><stop offset="1.000" stop-color="#42008c"/></linearGradient></defs>
<rect x="642.3" y="7.9" width="7.4" height="70.8" fill="url(#tcb)" stroke="#333" stroke-width="0.6"/>
<line x1="649.5" y1="77.3" x2="651.5" y2="77.3" stroke="#333" stroke-width="0.8"/>
<text x="652.3" y="81" font-size="10.2" text-anchor="start" fill="#000">0</text>
<line x1="649.5" y1="57.4" x2="651.5" y2="57.4" stroke="#333" stroke-width="0.8"/>
<text x="652.3" y="61.1" font-size="10.2" text-anchor="start" fill="#000">10</text>
<line x1="649.5" y1="37.6" x2="651.5" y2="37.6" stroke="#333" stroke-width="0.8"/>
<text x="652.3" y="41.3" font-size="10.2" text-anchor="start" fill="#000">20</text>
<line x1="649.5" y1="17.7" x2="651.5" y2="17.7" stroke="#333" stroke-width="0.8"/>
<text x="652.3" y="21.4" font-size="10.2" text-anchor="start" fill="#000">30</text>
<text x="675.3" y="46" font-size="10.2" text-anchor="middle" fill="#000" transform="rotate(-90 675.3 46)">Time (s)</text>
<defs><filter id="hb" x="-5%" y="-5%" width="110%" height="110%"><feGaussianBlur stdDeviation="0.6"/></filter></defs>
<clipPath id="clipc"><rect x="52.6" y="79.6" width="261.0" height="192.79999999999998"/></clipPath>
<g clip-path="url(#clipc)"><g filter="url(#hb)">
<path d="M64.7 82.3 64.0 83.7 64.3 85.0 71.0 90.0 73.7 93.0 75.7 96.7 78.0 103.3 81.0 108.7 83.0 116.3 83.0 119.0 81.3 121.3 82.0 126.7 83.3 130.3 90.7 143.3 92.0 149.7 94.3 154.7 97.3 159.3 104.3 166.7 109.7 174.0 114.7 179.0 118.7 182.0 124.7 193.0 127.7 196.3 133.0 204.3 136.0 211.3 140.0 217.0 141.7 224.7 153.0 249.3 154.0 252.7 159.3 262.7 164.3 268.3 166.3 271.7 293.7 271.7 291.7 267.0 291.3 263.0 291.7 261.3 294.3 256.3 294.7 250.7 293.7 245.0 289.0 230.0 289.0 227.0 291.0 222.3 291.0 220.0 288.3 217.0 283.7 216.7 281.3 214.7 279.7 211.7 279.7 206.3 278.0 203.0 269.7 197.7 267.3 194.7 265.0 190.0 264.0 186.0 261.0 180.3 258.0 167.3 254.3 160.7 244.7 136.0 239.7 129.7 234.7 121.7 223.3 109.7 221.0 106.0 220.0 99.7 217.0 92.7 217.0 90.7 219.0 86.7 219.3 84.3 218.7 82.7 214.7 79.0 68.3 79.0Z" fill="#fffff7" fill-rule="evenodd"/>
<path d="M79.0 79.0 79.0 85.3 83.0 92.3 84.7 96.7 84.7 98.0 84.0 98.3 79.7 95.0 80.3 100.3 82.7 105.7 88.0 111.3 89.0 113.3 92.7 126.3 93.0 130.3 94.0 133.0 97.3 138.3 98.3 141.3 97.0 146.3 97.7 150.3 100.7 156.0 104.0 159.7 106.0 160.0 107.7 158.7 110.0 161.3 109.3 166.0 110.7 168.7 113.7 171.7 117.7 173.0 121.0 175.0 134.3 190.7 135.7 193.0 137.0 197.3 140.3 203.0 140.7 208.7 144.7 215.0 149.0 228.3 158.7 247.0 160.0 248.7 160.7 248.3 159.3 236.7 160.3 235.3 162.3 236.7 166.0 243.0 168.3 250.3 169.3 256.0 172.7 263.7 172.7 266.7 172.0 269.0 172.3 271.7 288.7 271.7 286.7 265.0 286.7 256.0 285.0 240.3 284.0 237.3 281.0 233.3 281.3 228.0 279.7 226.0 278.0 225.3 275.7 223.0 273.0 218.3 265.3 209.7 263.0 206.0 259.0 197.3 255.0 191.0 251.7 182.7 248.7 170.3 244.7 162.7 243.7 157.3 242.7 155.0 238.7 149.7 234.3 140.0 230.3 133.7 230.0 131.0 228.7 128.3 227.0 126.7 223.0 124.7 220.3 122.0 218.3 118.7 217.7 115.0 215.7 110.0 214.7 104.3 210.3 93.3 209.0 85.0 207.7 82.0 205.3 79.0Z" fill="#ffffe5" fill-rule="evenodd"/>
<path d="M101.0 146.3 100.3 147.0 100.7 150.0 103.3 154.3 104.3 154.3 105.7 152.3 105.7 149.3 103.3 147.0ZM82.7 79.0 82.7 82.0 84.0 87.0 90.3 99.7 91.3 103.0 91.7 109.7 94.3 117.0 98.7 126.3 100.3 131.7 107.0 144.7 116.0 156.3 117.0 158.3 117.7 165.3 118.7 166.3 120.7 167.0 123.0 167.0 124.3 168.3 140.0 189.7 148.7 202.7 148.7 206.0 147.7 209.3 148.0 212.0 150.0 213.3 154.7 214.0 156.7 216.0 159.0 227.7 164.0 234.7 165.0 237.7 169.0 245.3 171.7 254.3 176.7 262.7 178.0 267.0 178.0 271.7 188.7 271.7 189.0 270.7 189.3 271.7 286.0 271.7 285.7 269.0 283.7 265.0 282.7 259.7 279.3 256.7 278.0 254.3 278.3 251.7 282.0 246.0 281.7 242.3 280.0 239.7 277.3 238.3 275.3 236.3 274.3 233.7 274.3 229.0 270.7 221.3 262.3 214.7 259.0 211.0 257.0 205.7 256.3 199.3 251.0 187.0 249.3 178.0 247.3 171.7 245.0 167.3 242.0 164.0 239.3 157.7 236.7 154.7 230.3 141.7 223.7 132.0 217.3 125.3 212.3 116.7 211.0 112.7 211.0 105.7 206.0 92.7 204.0 84.0 201.0 79.0ZM174.0 241.0 180.7 251.0 180.3 251.7 175.0 246.3 173.7 243.3Z" fill="#ffffc7" fill-rule="evenodd"/>
<path d="M176.3 254.0 179.0 262.3 183.0 269.7 183.3 271.3 185.7 271.7 186.0 265.0 186.7 265.0 187.3 267.0 187.3 260.7 186.7 257.3 185.3 255.7 182.0 254.0 182.7 255.7 182.3 256.7ZM85.0 79.0 85.3 84.3 87.3 91.3 93.7 102.7 94.0 109.0 94.7 111.3 101.3 121.7 103.7 129.3 118.0 160.0 140.0 189.7 143.3 195.0 147.7 199.0 148.3 202.3 150.3 205.3 150.3 208.0 151.0 209.7 152.0 210.7 154.7 211.7 160.7 220.7 162.0 228.7 165.0 233.7 167.7 240.7 170.7 243.7 171.3 243.0 172.0 238.7 172.3 238.3 173.0 239.3 173.0 236.3 171.7 232.7 172.7 231.3 173.7 231.3 189.7 247.3 191.7 251.3 193.3 258.7 194.7 261.7 202.3 269.3 203.7 271.7 283.0 271.7 282.3 269.7 281.3 269.0 278.3 270.0 276.3 269.3 274.0 265.7 274.0 263.7 276.0 260.7 276.0 258.3 274.3 254.7 274.0 252.0 277.0 249.0 277.7 247.7 278.0 244.0 277.3 242.0 274.0 237.3 269.3 227.0 267.3 225.0 263.3 223.7 261.3 222.0 260.3 217.7 257.7 214.3 255.7 210.7 254.7 207.3 254.3 199.3 250.7 190.0 248.3 178.3 244.7 170.0 238.7 163.0 237.0 158.7 232.7 152.3 227.7 142.0 223.0 135.0 217.0 128.7 210.7 118.7 208.3 111.7 207.3 105.7 203.7 97.0 201.3 85.7 199.0 80.7 197.7 79.0 191.7 79.0 191.3 82.0 190.3 83.7 189.0 83.3 183.7 79.0ZM191.3 88.0 193.3 89.7 195.7 93.7 196.7 96.7 196.3 99.3 194.3 97.7 191.0 92.0 190.7 88.7Z" fill="#ffffa5" fill-rule="evenodd"/>
<path d="M168.0 235.0 168.0 237.7 169.0 239.0 169.7 239.0 169.7 236.7ZM194.7 81.0 194.0 83.0 194.0 86.0 195.0 88.7 196.0 90.0 197.0 90.3 198.0 88.3 198.0 85.7 196.7 82.3 195.3 81.0ZM86.7 79.0 86.3 83.7 88.0 91.0 90.0 95.0 94.7 101.7 95.3 103.7 95.7 110.0 99.3 115.7 103.7 129.3 111.3 145.7 118.0 152.0 122.3 159.3 124.3 161.3 131.0 165.3 136.0 171.0 139.0 176.0 144.3 181.7 148.0 188.7 151.7 192.0 152.7 193.7 152.7 196.7 151.7 199.7 151.7 203.0 153.0 207.7 155.0 209.3 157.3 210.3 163.7 217.7 165.0 218.3 168.3 217.7 169.7 218.0 172.7 222.7 174.3 224.3 176.7 225.3 178.3 225.3 180.3 223.0 183.3 215.3 185.0 213.7 186.0 213.7 187.3 214.7 191.3 224.3 193.0 233.7 196.0 238.7 198.3 244.3 201.0 247.3 206.0 250.3 208.3 253.3 210.0 264.7 211.3 268.7 215.0 271.7 275.0 271.7 271.7 264.0 272.7 257.3 270.0 250.3 270.0 248.0 271.0 247.0 273.3 247.7 275.3 247.0 275.7 243.7 275.0 241.3 268.0 228.3 265.3 226.3 261.3 226.0 259.3 224.3 257.0 218.0 253.7 211.3 250.7 208.3 242.0 194.0 241.3 192.0 241.7 190.0 242.7 189.7 245.0 192.7 249.3 203.3 250.3 204.3 251.7 204.3 252.7 202.7 252.3 198.3 249.0 190.0 248.0 183.3 246.0 177.3 242.3 170.0 237.7 164.7 235.7 159.3 231.3 153.0 227.3 144.3 221.7 135.7 216.3 130.3 214.0 126.0 209.7 121.0 205.3 107.3 202.3 101.3 200.7 99.7 199.7 99.7 198.7 104.0 197.3 104.0 194.7 101.0 192.3 96.7 188.7 91.7 186.7 86.3 184.3 84.0 180.0 82.7 177.7 79.0Z" fill="#ffff75" fill-rule="evenodd"/>
<path d="M263.0 229.0 262.3 231.0 267.7 244.3 268.7 243.0 272.3 244.0 272.7 242.3 271.3 238.0 267.7 231.0 265.0 228.7ZM88.0 79.0 88.3 80.0 87.3 82.7 87.3 86.7 88.7 91.3 90.7 95.0 93.7 98.3 94.0 100.0 95.7 103.0 95.7 105.3 98.3 113.3 105.0 123.3 108.3 131.3 116.0 143.0 120.3 151.3 124.0 156.7 130.0 161.3 134.0 165.3 140.0 173.7 142.7 176.3 145.0 177.3 147.7 179.7 150.7 185.3 153.3 188.0 156.7 189.0 157.7 194.0 160.0 199.3 162.0 201.3 163.0 201.3 164.3 199.0 164.3 195.3 162.7 190.0 161.0 187.3 159.0 185.7 158.0 182.3 157.7 179.0 159.3 177.3 168.0 177.3 167.7 189.3 168.7 193.7 172.3 202.0 171.3 206.7 171.7 209.0 174.0 212.0 177.0 213.3 179.7 213.3 183.3 209.7 187.3 209.7 189.0 208.3 189.0 198.3 190.7 193.0 191.0 189.3 191.7 187.7 192.3 187.7 196.0 203.3 196.0 206.7 193.0 213.7 192.7 215.7 193.0 220.0 195.3 230.3 196.0 231.7 200.3 235.7 201.0 237.3 201.3 242.3 202.3 244.0 208.7 247.3 214.3 254.3 215.0 255.7 214.7 264.0 217.3 269.0 220.0 271.7 247.3 271.7 247.3 269.0 248.0 267.7 250.0 265.7 252.3 265.0 255.0 265.7 261.0 271.7 273.3 271.7 273.3 270.7 271.3 266.3 271.0 267.3 270.3 266.0 269.3 258.0 265.0 249.7 264.7 242.7 262.7 240.0 260.0 239.3 258.7 238.3 258.0 237.0 257.0 226.0 254.0 217.3 251.3 212.3 247.7 210.0 245.3 207.7 243.3 201.7 242.7 194.7 239.3 189.3 239.3 186.0 240.0 185.3 244.3 187.3 245.0 187.3 245.7 186.3 245.7 182.3 243.7 177.0 241.0 171.7 237.0 166.3 234.0 158.7 230.7 154.0 225.7 143.3 222.7 138.7 216.3 132.3 213.0 127.0 210.7 124.7 206.3 122.0 205.7 120.7 205.3 115.0 202.0 107.0 201.3 107.0 200.7 109.0 199.7 109.0 198.0 107.3 190.7 95.7 187.0 91.7 185.0 88.3 180.3 84.7 178.0 79.3ZM166.3 94.7 168.7 95.3 170.0 96.7 170.7 98.3 171.0 102.0 169.3 104.0 167.0 103.7 164.0 99.3 164.0 97.0Z" fill="#fffe44" fill-rule="evenodd"/>
<path d="M89.3 79.0 88.7 80.0 88.7 82.3 88.0 83.7 88.0 87.3 89.0 90.7 92.7 96.3 93.0 95.7 98.0 100.7 99.3 103.7 101.3 112.7 108.0 123.3 113.0 134.7 118.7 145.7 121.7 150.3 124.7 153.3 131.7 158.7 137.0 160.7 138.7 165.0 144.0 173.0 147.3 174.7 150.3 178.7 152.7 180.3 154.3 180.3 155.3 179.3 156.3 176.3 158.7 175.0 171.0 174.7 171.3 175.7 170.0 180.0 170.0 188.7 171.7 194.3 173.7 198.0 176.3 201.0 179.3 202.3 184.3 203.3 186.0 202.3 186.7 200.7 188.0 193.3 188.0 187.7 188.7 183.3 189.7 181.3 189.7 178.7 190.0 178.3 192.7 179.7 193.7 181.3 195.0 186.7 196.0 193.3 199.0 205.7 198.3 208.3 198.7 218.7 197.7 222.7 198.3 228.0 202.7 233.7 204.7 241.3 211.3 247.0 214.3 248.3 219.0 247.3 222.7 249.7 225.0 249.7 226.3 248.7 227.7 248.7 230.7 251.3 232.0 253.7 231.7 259.0 230.3 260.3 228.0 260.7 225.7 263.0 224.7 264.7 225.0 266.7 228.3 269.0 235.7 271.3 244.0 271.7 244.7 270.7 244.3 268.7 241.7 264.0 241.3 261.7 245.0 261.7 252.0 258.0 253.7 256.3 254.3 251.0 255.7 247.3 256.7 247.7 257.3 250.3 257.0 259.3 257.7 260.7 260.0 263.0 262.0 264.0 264.0 263.7 264.7 262.7 264.7 259.0 263.3 255.3 258.7 248.0 258.7 247.0 255.7 244.3 255.7 242.0 254.7 238.3 254.0 227.3 253.3 225.0 249.0 215.7 244.3 211.3 242.7 209.0 240.7 200.3 240.0 190.3 237.7 186.3 237.7 183.0 239.0 182.3 241.7 184.0 242.7 184.0 243.0 181.0 236.0 167.0 234.0 160.7 229.3 153.3 225.7 144.7 222.3 139.7 215.0 132.3 212.7 128.7 210.3 126.3 207.3 125.3 204.7 123.7 198.7 110.7 192.0 99.0 187.7 93.7 183.0 90.3 180.0 83.7 174.0 81.0 171.3 79.0ZM176.7 155.3 180.7 160.0 184.0 169.0 183.0 171.7 182.0 172.3 176.3 171.0 178.3 166.0 178.3 163.3 176.3 156.3ZM161.0 90.3 164.3 89.3 167.0 90.3 171.3 95.0 173.0 99.0 173.7 103.0 173.7 106.3 172.7 107.7 170.0 108.0 168.7 107.3 159.7 99.3 158.7 96.7 158.7 94.0 159.3 92.0ZM112.3 91.3 114.7 89.3 118.3 89.7 122.0 91.0 123.3 92.7 122.3 97.7 121.3 98.7 119.3 98.7 115.7 97.3 112.3 94.3Z" fill="#fffb11" fill-rule="evenodd"/>
<path d="M176.3 172.7 172.7 175.7 171.3 180.3 171.3 188.3 173.0 194.0 175.0 197.3 177.3 199.7 181.3 201.0 184.0 200.0 185.3 198.7 186.3 195.7 186.7 185.3 185.7 182.3 186.0 181.0 184.7 178.0 181.7 174.7 179.3 173.3ZM166.0 82.0 165.0 83.0 165.0 84.7 170.3 90.7 172.0 91.7 174.0 91.7 175.3 89.7 175.3 87.0 174.3 85.3 169.7 82.3ZM93.3 79.0 89.3 84.3 89.0 83.3 88.7 87.7 89.3 89.7 92.3 94.7 91.0 91.0 91.3 89.7 95.3 92.3 99.0 96.7 100.7 100.3 102.0 105.3 104.7 111.0 105.7 115.3 111.3 124.7 115.7 137.3 119.7 144.0 125.0 149.3 132.3 154.0 135.7 155.3 140.7 155.0 141.7 156.0 142.3 161.7 145.0 168.0 146.7 170.7 151.7 175.7 153.0 176.3 154.3 176.0 156.0 174.3 158.0 173.7 169.0 173.3 173.0 172.7 174.7 171.7 176.7 165.7 176.7 163.7 175.0 156.3 171.3 147.0 171.7 146.0 173.3 149.0 182.3 159.7 182.7 161.0 185.7 165.3 186.3 168.0 187.7 170.3 192.7 175.3 195.3 180.7 197.7 194.0 201.0 205.3 200.0 213.7 200.0 224.0 200.7 227.3 204.0 233.3 206.0 240.3 210.0 243.7 213.0 245.3 216.7 244.3 219.0 244.3 223.0 246.7 227.3 246.7 229.3 247.7 232.0 250.3 235.7 256.0 241.0 257.7 244.0 259.7 251.0 256.3 252.3 253.3 252.3 250.7 253.0 249.3 253.3 239.3 252.7 236.7 252.0 227.0 246.7 216.3 241.0 209.0 239.0 198.7 238.3 187.7 236.3 184.3 236.0 178.7 237.0 176.0 237.0 173.3 233.3 161.3 229.3 154.7 225.7 146.0 221.7 140.0 215.0 133.7 210.0 127.7 205.7 126.3 203.3 124.7 200.7 119.7 198.7 113.7 194.7 105.3 189.0 96.3 185.7 94.0 185.3 94.3 188.3 100.3 195.0 117.0 195.0 118.7 190.0 113.0 189.0 113.0 188.3 115.0 187.0 116.0 184.0 114.0 177.7 108.0 174.3 110.3 171.3 110.3 166.0 107.7 161.7 103.3 157.7 101.7 156.0 98.0 156.3 86.0 155.7 84.3 154.0 83.0 147.0 80.3 145.0 79.0 131.3 79.0 129.3 80.0 127.0 79.7 126.0 79.0 118.3 79.0 116.7 80.7 116.3 82.3 117.0 83.7 119.0 85.0 126.0 87.0 129.3 86.0 132.0 86.0 140.0 89.7 145.3 93.7 144.7 94.7 143.0 94.7 141.7 95.3 139.7 95.0 135.0 98.3 131.3 97.0 128.0 97.3 127.7 98.0 128.3 99.3 131.0 102.0 131.7 104.0 131.3 106.0 130.3 106.0 126.3 104.0 121.3 102.7 117.3 102.3 116.0 101.7 110.7 96.7 109.3 94.3 108.3 90.3 108.3 88.7 109.0 87.3 108.7 84.3 102.0 79.0ZM171.0 144.3 171.7 145.3 171.3 146.3 170.7 145.3ZM170.0 143.7 170.3 143.3 171.0 144.3 170.7 144.7ZM169.7 143.0 170.0 142.7 170.3 143.3 170.0 143.7ZM169.3 142.3 169.7 142.0 170.0 142.7 169.7 143.0ZM162.0 119.7 163.7 121.7 163.0 123.0 161.7 121.7Z" fill="#fff200" fill-rule="evenodd"/>
<path d="M176.7 174.0 173.7 176.3 172.7 178.3 173.0 179.0 172.3 181.0 172.3 188.0 174.0 193.7 176.0 197.0 178.3 199.0 181.7 199.7 184.3 197.7 185.3 195.7 185.7 188.7 184.7 184.3 185.0 183.3 182.7 177.7 180.0 175.0ZM106.7 97.7 105.3 99.0 104.3 101.7 104.7 106.3 108.3 116.0 113.0 124.7 117.0 137.3 122.7 144.0 130.0 149.7 134.7 152.3 141.7 152.3 143.7 154.3 144.7 161.3 147.0 167.3 148.3 169.7 153.3 174.3 156.0 173.0 157.3 173.0 158.0 172.3 168.7 172.3 172.7 171.7 174.0 170.7 175.7 164.0 173.7 156.0 169.7 145.7 168.0 143.3 165.7 137.7 166.0 134.0 169.3 137.7 173.7 147.3 187.3 164.3 189.3 169.3 193.3 174.0 196.3 180.3 198.7 193.7 202.3 205.7 201.3 211.3 201.3 220.7 202.0 227.0 204.3 232.3 205.0 232.7 206.7 239.3 212.7 243.7 218.7 242.3 222.7 244.7 226.0 245.0 229.7 246.7 236.3 254.0 240.0 255.7 244.0 258.3 250.3 255.3 251.3 252.0 252.3 242.7 250.7 227.3 246.0 217.7 240.0 209.3 238.0 199.0 237.3 186.7 235.3 182.7 234.7 178.7 235.0 170.7 232.7 161.7 226.7 150.7 224.7 145.3 221.7 141.0 214.7 134.3 210.0 129.0 206.7 127.7 205.3 127.7 203.3 126.7 201.7 125.0 198.7 120.0 197.3 115.3 193.7 107.0 188.7 98.3 186.3 96.7 188.3 100.3 199.0 127.0 199.0 128.0 198.3 128.7 193.7 123.7 187.3 120.0 181.7 114.3 179.0 113.0 174.7 112.0 168.0 111.7 165.7 113.3 164.7 116.3 164.7 121.3 165.3 124.3 165.0 131.3 164.0 128.3 160.3 123.7 159.0 118.0 159.0 115.3 159.7 114.7 161.3 114.3 160.7 108.0 159.3 106.7 156.7 106.3 152.7 99.7 146.3 97.3 139.7 97.7 136.3 100.7 133.7 102.0 133.0 104.0 133.0 108.7 131.3 109.0 125.7 105.3 121.3 104.3 116.7 104.3 108.0 97.7ZM89.7 85.3 89.7 88.0 91.3 91.3ZM96.7 82.0 95.7 83.7 96.3 86.0 100.0 88.7 102.7 90.0 104.3 90.0 103.7 87.0 101.7 83.0 99.3 81.3ZM140.7 81.3 141.0 85.3 143.0 89.0 147.7 91.3 150.0 91.3 152.0 90.3 152.3 88.3 151.3 86.3 149.3 84.3 143.7 81.0 141.3 80.7Z" fill="#ffe700" fill-rule="evenodd"/>
<path d="M176.7 175.0 174.3 177.0 173.7 178.3 173.3 187.3 174.3 191.3 176.0 195.0 178.3 197.7 181.3 198.7 183.3 197.7 184.7 195.3 184.7 186.3 182.7 179.7 179.3 175.7ZM168.0 114.3 166.3 119.3 166.3 124.0 167.7 132.7 170.7 137.0 172.0 141.7 172.7 142.0 174.3 146.7 182.3 157.0 187.3 162.3 190.3 168.7 195.0 175.0 197.0 180.0 199.3 193.0 203.3 205.7 202.0 214.0 203.0 227.0 203.7 227.7 203.7 229.3 205.7 232.3 207.3 239.0 213.0 242.7 216.0 241.3 219.0 241.0 222.7 243.3 225.3 243.7 228.7 245.0 236.7 253.0 238.7 253.7 244.3 257.3 248.7 255.0 249.7 255.0 251.3 245.7 251.3 240.0 250.3 235.7 249.7 227.3 245.3 218.3 239.3 209.7 237.3 201.7 237.7 200.0 236.0 183.7 234.3 181.0 233.7 177.3 233.3 166.7 231.0 159.3 227.7 154.0 224.0 145.3 220.3 140.3 210.3 130.3 207.3 129.0 202.3 128.0 199.7 126.0 198.3 125.7 200.0 130.0 198.0 131.7 192.0 125.0 187.0 121.3 183.0 117.0 180.3 115.3 177.3 114.7 174.7 113.3 171.0 113.3ZM109.7 103.7 108.0 105.7 108.0 109.3 110.7 117.7 114.0 124.3 115.0 128.7 118.7 137.7 125.7 144.7 133.0 149.7 136.3 151.0 140.3 150.7 142.3 151.3 145.0 154.0 146.0 161.3 147.7 164.3 148.3 167.0 149.3 168.0 149.7 169.3 154.0 173.0 157.7 171.7 168.3 171.7 173.0 170.7 175.0 164.7 173.3 157.3 169.7 147.7 164.3 138.7 164.0 134.0 162.7 129.3 159.3 123.7 156.7 110.3 153.3 104.0 153.0 102.3 152.0 101.3 146.7 98.7 140.7 98.7 135.0 103.3 134.0 105.7 134.0 109.0 133.3 111.3 131.0 110.3 125.3 106.3 122.0 106.0 121.0 105.3 117.3 106.0 115.7 105.7 112.3 103.7ZM144.0 84.7 144.0 86.7 145.0 87.3 146.3 87.3 146.7 86.0 145.3 84.7Z" fill="#ffdc00" fill-rule="evenodd"/>
<path d="M177.3 176.7 175.0 178.7 174.3 182.0 175.0 187.0 177.3 193.7 179.0 196.0 181.0 196.7 183.3 195.0 183.3 188.0 181.0 180.3 179.0 177.7ZM169.7 115.0 168.3 116.3 167.3 121.0 167.3 123.7 168.0 125.7 168.3 130.7 169.0 131.0 169.0 133.0 172.0 136.3 175.7 146.0 189.0 163.3 189.7 165.7 194.3 172.7 197.7 179.7 199.0 189.0 204.0 205.3 202.7 214.3 203.0 223.7 204.3 228.0 207.3 233.3 208.3 238.0 212.7 241.7 218.7 239.7 221.3 241.7 225.3 242.7 226.3 243.7 227.3 243.7 231.3 246.0 238.0 252.0 244.0 255.7 248.3 254.0 249.3 252.0 250.7 245.3 250.7 240.3 249.3 233.7 249.7 232.3 249.0 229.7 249.0 226.7 244.7 218.7 239.3 211.3 238.0 208.3 236.7 201.7 236.7 194.7 235.3 184.0 233.0 177.7 232.3 165.7 230.3 159.3 225.7 151.0 223.7 145.7 217.7 138.3 209.3 130.7 206.0 129.7 201.7 129.3 200.3 130.0 201.0 131.0 197.7 133.3 192.7 127.3 187.3 122.7 186.3 122.3 182.7 118.0 176.0 115.3 174.7 114.3ZM112.0 106.7 110.7 108.3 110.7 111.7 111.7 117.0 114.7 124.0 117.7 133.7 120.3 138.0 128.0 145.3 128.7 145.3 130.7 147.0 134.0 148.3 135.7 149.7 139.7 149.7 141.0 150.3 142.7 150.3 146.0 153.3 147.0 161.0 148.7 165.7 149.3 166.0 150.7 168.7 154.3 171.3 158.0 170.0 167.7 170.7 171.7 169.7 173.7 164.7 172.3 158.0 169.0 149.3 163.3 139.0 162.3 132.0 159.7 126.7 159.0 123.3 158.0 121.3 156.3 112.7 151.7 102.0 146.3 99.3 140.7 99.7 135.7 104.3 134.7 107.0 134.3 111.7 133.7 113.7 129.0 109.3 125.3 107.0 119.7 106.3 118.7 107.0 116.0 107.0 114.0 106.3Z" fill="#ffcf02" fill-rule="evenodd"/>
<path d="M177.3 181.0 176.3 182.3 177.3 186.3 179.3 190.7 180.7 192.3 181.3 192.3 182.0 191.0 181.0 187.3 178.7 182.0ZM169.3 116.3 168.0 121.3 169.3 130.3 170.3 132.3 173.3 135.0 178.0 144.3 186.0 155.3 187.0 158.0 190.0 162.7 192.0 168.0 195.3 172.7 198.3 179.3 200.7 192.3 205.0 205.0 203.7 214.7 204.0 222.7 205.7 228.3 208.7 233.3 209.3 237.0 211.0 239.0 213.0 240.3 219.0 239.0 223.7 241.7 225.0 241.7 228.3 243.0 244.0 253.3 247.0 252.7 249.0 248.3 249.7 242.0 248.0 232.0 248.0 228.7 247.3 226.3 244.0 220.0 238.7 212.3 237.0 208.7 235.7 202.0 236.0 200.7 235.0 185.7 234.0 180.3 232.7 178.3 232.3 174.3 231.7 173.0 231.7 165.7 229.7 159.3 226.7 154.3 223.3 146.0 219.7 141.0 209.7 131.7 202.7 130.3 199.7 133.7 197.7 134.7 194.0 131.0 191.0 126.7 186.0 123.0 181.0 118.0 174.0 115.0 172.7 115.0ZM113.7 108.0 112.7 109.0 112.3 112.7 113.0 118.3 115.3 123.7 116.3 128.3 119.7 136.0 126.0 142.3 131.0 146.3 136.3 147.0 137.7 148.0 139.0 148.0 142.3 149.3 146.7 153.0 148.0 160.3 149.7 163.3 152.0 165.7 155.7 167.3 157.7 167.3 161.3 168.7 168.3 169.0 170.3 168.3 171.3 167.0 172.0 164.7 170.7 157.0 167.0 148.7 164.0 144.3 162.0 139.7 162.0 134.7 161.0 130.0 160.3 129.7 158.3 125.7 154.3 110.7 151.0 104.0 145.7 100.7 141.3 100.7 136.3 105.0 135.3 107.3 135.0 112.0 134.0 115.0 133.3 115.0 130.3 112.0 124.3 108.0 121.7 107.7 120.7 107.0 117.7 108.0Z" fill="#ffc008" fill-rule="evenodd"/>
<path d="M170.7 117.3 169.3 122.0 170.7 129.7 172.7 132.0 175.0 133.0 178.0 136.0 186.3 148.3 189.0 154.7 189.7 158.7 193.0 167.7 196.0 172.0 198.7 178.0 202.0 193.3 206.3 205.7 205.0 214.7 205.3 223.0 206.0 225.7 209.7 231.7 211.3 236.7 213.0 238.3 218.7 238.3 220.0 239.3 226.7 241.0 232.7 244.7 236.7 245.7 242.7 249.7 246.0 249.7 247.7 247.3 248.3 244.7 248.3 240.3 246.0 227.3 238.0 214.0 235.3 207.3 234.7 203.7 234.7 190.0 233.0 178.7 231.3 175.3 231.0 165.7 229.3 160.0 226.3 154.7 223.3 147.0 219.0 141.3 209.0 132.0 207.3 131.3 203.0 131.7 201.3 133.7 197.7 135.7 188.7 126.3 185.3 124.0 181.3 120.0 176.3 118.0 174.0 116.3ZM114.7 109.0 114.0 109.7 113.7 117.7 116.3 126.3 120.0 135.7 124.7 140.3 129.0 143.7 131.0 144.3 132.3 143.3 135.7 143.3 140.0 147.0 144.0 148.7 148.0 152.7 149.3 158.3 150.7 160.7 155.3 161.0 162.3 166.0 165.7 167.0 168.3 166.7 169.3 165.3 169.7 163.7 169.0 157.7 167.0 153.0 161.7 145.0 160.3 139.7 160.3 133.0 159.7 130.7 158.0 127.3 154.0 113.7 149.7 105.3 144.7 102.0 142.0 102.0 138.0 104.3 136.3 106.0 135.3 110.0 135.0 115.7 134.3 116.3 132.7 116.3 128.7 112.3 124.3 109.3 121.0 108.3Z" fill="#ffb10e" fill-rule="evenodd"/>
<path d="M172.3 119.0 171.3 122.7 172.7 128.7 174.3 130.3 177.0 131.7 179.3 134.0 188.3 147.7 191.3 154.3 192.3 161.3 194.0 167.0 196.7 171.0 200.0 179.0 202.7 192.0 208.0 206.3 208.3 209.0 206.3 218.0 206.7 222.0 208.0 225.7 211.3 230.3 212.7 234.3 215.0 236.7 218.0 237.0 222.3 239.0 228.3 240.3 233.3 243.3 237.3 243.7 242.3 246.3 245.3 246.0 246.7 243.3 246.3 236.0 245.3 231.0 242.7 224.7 237.7 217.7 235.7 213.7 233.7 206.7 233.3 199.7 234.0 190.7 232.0 177.0 230.7 175.0 230.7 167.3 228.7 159.7 225.0 153.0 222.3 146.7 219.7 143.0 208.7 133.0 205.3 133.0 204.7 133.7 204.3 135.7 203.0 134.3 199.0 136.3 197.0 136.3 188.0 127.7 182.7 125.0 179.7 122.3 174.0 118.7ZM115.0 109.7 115.0 113.0 114.3 113.7 115.0 120.7 119.7 133.0 121.0 135.3 128.3 141.7 129.3 141.7 130.3 140.3 135.7 139.7 141.0 145.3 144.0 146.3 146.7 148.3 149.3 151.0 151.0 154.0 152.7 155.7 157.0 157.3 161.7 162.3 163.7 163.7 166.0 164.0 166.7 163.3 166.7 159.0 166.0 156.7 164.0 153.3 160.3 149.7 159.0 145.7 159.0 134.7 158.3 130.7 153.7 116.3 151.7 112.0 148.7 107.7 145.3 104.7 143.7 104.0 141.3 104.0 138.3 105.3 137.3 106.3 136.3 109.0 136.0 115.7 134.3 118.0 132.0 117.7 128.0 113.7 123.7 110.7 121.7 110.0Z" fill="#ffa214" fill-rule="evenodd"/>
<path d="M179.3 128.3 179.0 130.0 180.3 132.7 191.3 149.7 193.3 154.0 194.3 157.3 194.7 163.3 195.3 166.0 198.0 170.7 201.0 179.3 202.7 187.7 205.3 196.3 211.3 209.7 211.7 212.7 209.7 217.3 209.3 220.3 210.3 223.0 213.0 224.7 214.0 226.0 214.3 231.7 215.3 234.0 217.0 235.7 221.0 237.3 228.3 238.7 233.3 241.3 237.7 241.7 240.3 242.7 243.3 242.7 244.3 241.3 244.7 235.3 243.3 229.7 241.0 224.7 235.7 218.0 232.3 210.7 232.0 200.7 233.0 194.3 233.0 187.7 231.0 175.3 230.0 174.0 229.7 172.3 230.0 166.0 228.0 159.0 225.7 155.3 221.7 146.7 218.7 143.0 208.0 134.3 207.3 134.7 208.0 138.3 207.0 139.7 204.7 136.7 196.7 137.3 187.7 130.0 185.3 129.0ZM116.7 111.3 115.0 115.3 115.7 120.0 119.7 131.0 121.7 134.7 124.3 137.3 127.7 139.3 129.3 137.7 134.7 136.3 138.3 139.3 140.0 139.7 143.0 141.3 154.7 151.3 156.0 151.7 157.0 151.0 157.3 148.3 155.7 144.0 155.7 141.0 157.3 136.3 157.0 130.3 152.3 116.3 150.0 112.3 146.7 108.7 142.3 106.0 139.7 106.0 138.3 107.0 137.0 110.3 136.7 118.0 136.0 120.0 135.0 121.0 133.7 121.0 132.0 120.0 126.7 114.7 121.7 112.0Z" fill="#ff931d" fill-rule="evenodd"/>
<path d="M185.3 133.7 184.7 134.3 185.3 137.3 188.7 143.3 193.3 149.7 195.3 154.3 196.7 159.0 197.3 165.7 199.7 171.0 206.0 194.7 209.3 202.0 213.0 207.7 219.0 219.0 219.0 221.7 218.0 224.0 217.0 229.3 217.0 232.0 217.7 233.7 219.7 235.3 223.0 236.7 229.7 237.0 233.7 239.0 236.3 239.7 241.3 239.3 242.7 236.7 242.7 233.0 241.0 227.7 238.3 223.3 234.7 219.7 230.7 214.0 229.7 211.3 229.7 208.0 230.7 204.3 231.0 199.3 232.3 192.7 232.3 188.0 230.0 173.7 229.0 172.3 229.0 164.0 227.7 160.0 224.7 155.0 221.0 147.0 217.3 143.0 212.3 140.0 210.7 140.0 210.3 141.0 208.7 142.0 206.7 139.3 196.0 138.3 187.0 133.7ZM116.7 114.7 116.3 118.3 117.0 121.3 119.7 129.0 121.7 133.0 125.0 136.3 126.7 136.7 128.0 135.3 130.0 135.3 133.0 133.7 134.3 133.7 136.0 134.7 139.0 134.0 140.3 134.7 147.7 141.7 150.0 143.0 151.7 142.7 152.0 140.7 154.7 137.7 155.7 135.3 155.7 129.7 154.0 123.3 152.0 118.3 147.7 112.0 141.3 107.7 140.0 107.7 138.7 109.0 137.7 113.3 138.0 125.0 137.3 126.0 136.0 126.0 134.0 124.7 129.0 119.0 125.0 115.7 123.0 114.7 119.3 114.0Z" fill="#ff8426" fill-rule="evenodd"/>
<path d="M223.7 217.7 222.3 219.7 221.7 222.7 219.3 227.7 219.7 232.7 221.3 234.3 223.0 235.0 230.0 234.7 236.0 237.0 238.0 237.3 239.7 236.7 240.7 235.0 240.7 231.7 240.0 229.0 237.7 225.0 232.0 219.3 226.7 217.3ZM193.7 140.0 192.0 141.3 192.0 143.7 194.3 147.7 197.7 157.0 199.3 166.3 207.0 194.0 210.0 200.3 213.7 205.7 216.7 211.3 221.3 214.7 224.3 215.0 225.7 213.7 226.7 211.3 227.0 207.0 229.7 201.3 231.7 191.0 231.0 183.3 229.0 172.0 228.3 171.0 228.7 166.3 227.3 161.0 223.3 154.3 220.3 147.7 217.3 144.7 214.7 143.7 210.3 144.3 208.0 141.7 204.0 141.3 200.0 140.0ZM118.0 117.0 117.7 119.3 120.0 127.3 122.0 131.3 125.0 134.3 127.3 133.0 129.3 133.0 134.0 130.0 134.0 128.7 132.0 125.3 126.3 118.7 123.0 117.0ZM140.7 110.3 139.3 112.0 139.3 120.0 140.7 129.7 142.0 132.7 146.3 137.3 147.7 138.0 149.7 138.0 152.3 136.7 154.3 133.3 154.3 128.3 152.3 121.7 149.0 115.7 145.7 112.7Z" fill="#ff752f" fill-rule="evenodd"/>
<path d="M222.0 227.0 221.3 230.7 222.0 232.0 223.7 233.0 226.0 233.0 229.0 232.0 231.0 232.0 235.3 234.0 237.3 234.0 238.3 233.0 238.3 230.0 237.3 227.7 231.3 222.3 228.0 222.0 225.7 222.7 224.0 224.0ZM197.7 141.7 195.7 143.0 195.7 146.3 199.0 157.0 202.0 172.3 207.7 192.7 210.3 198.3 216.7 208.7 220.0 210.3 223.3 210.0 224.3 209.0 224.7 205.3 225.3 204.0 228.7 200.0 230.7 192.0 230.3 183.0 227.7 170.0 228.0 167.0 226.7 161.3 225.0 158.0 218.0 148.0 212.0 146.3 210.0 144.0 205.3 143.3 200.0 141.7ZM121.0 120.3 120.3 121.0 120.3 123.7 121.3 127.0 123.0 130.0 124.0 130.7 128.3 130.7 130.0 128.7 130.0 126.3 128.0 122.7 124.7 120.0ZM142.7 114.0 141.0 115.7 140.7 119.7 143.0 130.0 146.0 134.0 148.3 135.0 151.0 134.7 153.0 132.0 153.0 127.0 151.3 122.0 148.7 117.3 146.7 115.3 145.0 114.3Z" fill="#ff6437" fill-rule="evenodd"/>
<path d="M199.0 144.0 198.0 145.0 197.7 146.3 198.0 150.0 200.3 157.7 201.0 163.3 203.7 175.3 208.3 191.7 211.0 197.3 216.3 205.7 219.7 207.7 222.0 207.3 222.7 204.0 228.3 197.7 229.7 191.7 229.7 183.0 227.7 174.0 227.0 165.3 225.7 161.0 219.0 151.7 215.7 149.0 213.3 148.3 211.7 146.0 202.0 144.0ZM125.3 124.3 125.0 125.7 126.3 126.3 126.3 125.3ZM143.7 116.7 142.3 118.3 142.3 122.3 144.3 128.7 147.0 131.7 148.3 132.3 150.0 132.3 151.7 130.0 151.7 126.3 150.3 122.3 146.7 117.3 145.3 116.7Z" fill="#ff523e" fill-rule="evenodd"/>
<path d="M201.0 146.0 200.0 146.7 199.3 149.3 201.0 155.7 201.7 161.7 204.0 172.7 207.3 185.7 209.7 192.3 212.0 197.0 216.0 202.7 217.7 204.3 219.3 205.0 220.3 204.3 220.7 202.7 227.3 196.7 228.3 193.3 228.7 181.0 227.0 174.3 226.0 164.3 224.7 161.0 219.3 153.7 216.7 151.0 214.7 150.0 213.0 148.0 210.0 147.0ZM145.0 119.3 144.0 120.7 144.7 125.3 146.7 128.7 147.7 129.3 149.3 129.3 150.0 128.3 150.0 125.3 149.3 123.3 147.0 120.0Z" fill="#ff3a32" fill-rule="evenodd"/>
<path d="M202.3 148.0 201.0 149.7 201.0 151.3 202.3 157.0 202.7 162.3 208.0 184.7 210.3 191.3 213.0 196.7 216.3 200.7 218.0 201.3 225.7 196.3 227.0 194.0 228.0 186.7 228.0 182.0 225.0 166.0 225.3 165.0 223.7 161.0 219.7 155.3 214.3 149.7 210.3 148.3Z" fill="#fe2424" fill-rule="evenodd"/>
<path d="M204.7 149.7 203.0 150.7 202.7 152.0 203.3 161.3 206.0 174.0 209.0 185.0 211.7 191.7 214.7 197.0 216.3 198.3 219.7 198.0 225.0 194.7 226.0 192.7 226.7 189.3 227.0 180.3 225.7 174.7 225.0 168.0 223.7 163.7 224.0 163.3 219.7 156.3 215.0 151.0 211.7 149.7Z" fill="#fb1010" fill-rule="evenodd"/>
<path d="M207.7 151.3 205.7 152.3 204.7 154.0 204.3 161.0 208.0 177.3 210.3 185.0 213.7 191.7 216.3 194.7 219.3 195.0 224.3 191.3 225.7 186.3 225.7 178.3 223.7 166.0 220.3 158.0 216.0 152.7 212.0 151.0Z" fill="#ec0404" fill-rule="evenodd"/>
<path d="M209.3 152.3 206.3 154.7 205.7 156.3 205.7 163.7 209.0 176.7 211.7 184.7 214.0 188.7 216.7 191.3 219.0 191.7 223.3 188.3 224.3 185.7 224.7 180.3 222.7 165.7 220.7 160.0 218.0 155.7 216.3 154.0 213.3 152.3Z" fill="#d60000" fill-rule="evenodd"/>
<path d="M210.3 153.3 209.3 153.7 206.7 157.0 206.7 164.3 210.7 178.0 213.0 183.7 216.3 187.7 218.7 188.0 222.0 186.3 222.7 185.3 223.3 181.7 221.7 165.0 220.7 161.7 217.7 156.3 214.3 153.7Z" fill="#bf0000" fill-rule="evenodd"/>
<path d="M210.7 154.3 208.7 155.7 207.3 158.3 207.0 161.3 207.7 165.0 211.7 176.7 214.0 181.7 215.7 183.7 217.0 184.3 219.3 184.3 221.0 183.3 221.7 181.7 221.3 168.0 220.3 162.7 218.7 159.0 215.7 155.3 214.0 154.3Z" fill="#a80000" fill-rule="evenodd"/>
<path d="M211.7 155.0 209.7 156.0 208.3 158.0 208.3 164.7 214.3 178.0 216.0 180.0 218.3 180.7 219.7 179.0 220.3 166.7 219.7 163.0 217.3 158.0 215.0 155.7Z" fill="#880013" fill-rule="evenodd"/>
<path d="M211.3 156.0 209.0 158.7 209.0 164.3 210.3 167.7 213.3 172.3 215.3 174.3 216.7 174.3 218.3 172.0 219.3 168.7 219.0 163.0 217.3 159.0 215.7 157.0 214.0 156.0Z" fill="#6e002b" fill-rule="evenodd"/>
<path d="M212.3 156.7 211.0 157.3 209.7 159.3 209.7 164.0 212.3 169.0 214.3 170.7 215.7 171.0 218.0 168.7 218.7 165.7 218.3 163.0 216.3 158.7 214.3 157.0Z" fill="#5c0049" fill-rule="evenodd"/>
<path d="M212.3 157.7 211.0 158.7 210.3 160.0 210.3 163.3 211.0 165.3 213.0 168.0 214.0 168.7 216.0 168.7 217.7 166.3 217.7 163.0 216.0 159.3 213.7 157.7Z" fill="#4f006a" fill-rule="evenodd"/>
</g>
<path d="M115.3 109.7 L115.9 108.8 L116.6 108.1 L117.5 107.6 L118.4 107.1 L119.4 106.8 L120.4 106.6 L121.4 106.5 L122.4 106.5 L123.5 106.6 L124.6 106.9 L125.6 107.2 L126.6 107.6 L127.5 108.1 L128.5 108.8 L129.4 109.5 L130.2 110.2 L131 111 L131.7 111.7 L132.3 112.5 L132.8 113.5 L133.2 114.4 L133.5 115.2 L133.9 115.6 L134.3 115.4 L134.7 114.5 L135.1 113 L135.5 111.1 L135.9 109.1 L136.3 107.2 L136.8 105.6 L137.4 104.3 L138 103.2 L138.7 102.1 L139.4 101.2 L140.1 100.4 L140.9 99.8 L141.7 99.4 L142.5 99.1 L143.3 99 L144.2 99.1 L145.1 99.2 L146 99.4 L147 99.7 L148 100 L149.1 100.5 L150.2 101 L151.2 101.7 L152.1 102.5 L152.9 103.4 L153.7 104.3 L154.3 105.4 L155 106.6 L155.6 108 L156.2 109.7 L156.8 111.7 L157.3 113.9 L157.8 116.4 L158.2 119 L158.7 121.5 L159.3 124 L159.9 126.5 L160.5 129 L161.2 131.5 L161.8 134 L162.6 136.3 L163.4 138.3 L164.3 140 L165.4 141.4 L166.4 142.6 L167.5 143.8 L168.6 145 L169.5 146.4 L170.3 148 L171.1 149.8 L171.8 151.5 L172.5 153.3 L173.1 155.1 L173.6 156.7 L174.1 158.2 L174.6 159.6 L175 161 L175.3 162.3 L175.5 163.6 L175.6 164.8 L175.5 166 L175.4 167.2 L175.1 168.3 L174.7 169.4 L174.2 170.3 L173.6 171 L172.8 171.5 L171.9 171.7 L170.9 171.9 L169.8 171.9 L168.6 171.9 L167.4 172 L166.1 172.1 L164.7 172.2 L163.3 172.3 L161.8 172.4 L160.5 172.5 L159.3 172.6 L158.3 172.7 L157.3 172.9 L156.5 173.1 L155.7 173.2 L155 173.2 L154.2 173 L153.4 172.6 L152.7 172.2 L152 171.5 L151.4 170.8 L150.7 170 L150.1 169 L149.5 167.9 L148.9 166.5 L148.4 165 L147.8 163.5 L147.4 162.1 L147 160.7 L146.7 159.4 L146.6 158.1 L146.5 156.8 L146.4 155.6 L146.3 154.5 L146 153.6 L145.6 152.8 L145.2 152.2 L144.8 151.6 L144.2 151.2 L143.6 150.8 L142.9 150.5 L142.1 150.4 L141.2 150.5 L140.2 150.7 L139.1 150.8 L138 150.8 L136.8 150.5 L135.6 149.9 L134.2 149 L132.8 148 L131.4 146.8 L130 145.6 L128.6 144.4 L127.2 143.2 L125.7 141.8 L124.2 140.4 L122.8 139 L121.5 137.6 L120.4 136.2 L119.5 134.9 L118.7 133.5 L118 132.2 L117.4 130.9 L116.9 129.5 L116.4 128 L116 126.4 L115.6 124.7 L115.4 122.9 L115.2 121.1 L115 119.4 L114.9 117.8 L114.8 116.3 L114.7 114.8 L114.7 113.3 L114.7 112 L114.9 110.7 Z" fill="none" stroke="#2b8cc8" stroke-width="1.3"/>
<path d="M168.3 122 L168.3 120.7 L168.4 119.6 L168.5 118.7 L168.8 117.9 L169.1 117.1 L169.5 116.5 L170.1 115.9 L170.7 115.4 L171.5 115 L172.3 114.8 L173.3 114.6 L174.3 114.7 L175.5 114.9 L176.8 115.4 L178.2 115.9 L179.6 116.6 L181.1 117.5 L182.5 118.4 L183.9 119.5 L185.3 120.8 L186.7 122.2 L188 123.6 L189.4 125.1 L190.7 126.6 L192 128.2 L193.2 130.1 L194.4 132 L195.6 133.8 L196.7 135.1 L197.8 135.8 L198.8 135.7 L199.6 134.9 L200.4 133.8 L201.2 132.5 L202 131.4 L202.9 130.7 L203.8 130.5 L204.8 130.4 L205.8 130.5 L206.8 130.8 L207.9 131.2 L209 131.7 L210.3 132.4 L211.7 133.3 L213.1 134.3 L214.5 135.4 L215.9 136.6 L217.2 137.8 L218.4 139 L219.5 140.3 L220.6 141.6 L221.6 143 L222.5 144.4 L223.4 146 L224.2 147.7 L224.9 149.4 L225.5 151.2 L226.1 153.1 L226.8 155.1 L227.4 157.2 L228.1 159.4 L228.8 161.7 L229.4 164.2 L230.1 166.6 L230.8 169.1 L231.5 171.5 L232.2 173.9 L232.9 176.2 L233.7 178.6 L234.4 181 L235 183.4 L235.6 185.8 L236.1 188.3 L236.4 191 L236.7 193.7 L237 196.3 L237.3 198.8 L237.6 201 L237.9 202.9 L238.3 204.7 L238.6 206.2 L238.9 207.7 L239.4 209 L239.9 210.4 L240.5 211.7 L241.3 212.8 L242.1 213.9 L242.9 215 L243.8 216.1 L244.6 217.4 L245.4 218.8 L246.3 220.2 L247.1 221.6 L247.9 223.2 L248.7 224.9 L249.3 226.7 L249.9 228.8 L250.4 231 L250.8 233.4 L251.2 235.9 L251.5 238.3 L251.6 240.7 L251.6 243.2 L251.5 245.8 L251.3 248.3 L251 250.8 L250.5 253 L250 254.7 L249.4 256 L248.6 257 L247.7 257.7 L246.7 258.1 L245.7 258.3 L244.6 258.3 L243.4 258 L242 257.4 L240.5 256.6 L239.1 255.6 L237.7 254.6 L236.4 253.6 L235.3 252.5 L234.3 251.3 L233.4 250.1 L232.5 248.8 L231.5 247.6 L230.6 246.6 L229.6 245.8 L228.6 245.1 L227.6 244.4 L226.7 243.8 L225.7 243.2 L224.7 242.6 L223.7 241.8 L222.8 240.9 L221.8 240 L220.8 239.2 L219.9 238.6 L218.9 238.4 L217.9 238.7 L217 239.4 L216 240.4 L215 241.4 L214.1 242.2 L213.1 242.6 L212.1 242.6 L211.1 242.4 L210 242 L209 241.4 L208 240.6 L207.2 239.6 L206.4 238.3 L205.8 236.8 L205.2 235 L204.6 233.1 L204.1 231.1 L203.7 229 L203.4 226.8 L203.1 224.4 L202.9 221.9 L202.7 219.4 L202.6 217.1 L202.6 215 L202.7 213.2 L203 211.6 L203.3 210.2 L203.6 208.8 L203.8 207.3 L203.7 205.7 L203.4 203.9 L202.8 202.1 L202.2 200.1 L201.4 198.2 L200.8 196.1 L200.2 194 L199.8 191.7 L199.4 189.2 L199 186.7 L198.7 184.2 L198.3 181.9 L197.9 180 L197.5 178.5 L197 177.4 L196.5 176.6 L196 175.7 L195.4 174.8 L194.7 173.6 L193.9 172.1 L193 170.4 L192 168.6 L190.9 166.8 L189.8 165 L188.6 163.4 L187.3 161.9 L185.9 160.5 L184.5 159.2 L183.1 157.9 L181.7 156.5 L180.4 155.2 L179.3 153.9 L178.2 152.7 L177.2 151.5 L176.2 150.2 L175.2 148.7 L174.3 147 L173.3 144.9 L172.4 142.6 L171.4 140 L170.6 137.4 L169.8 134.9 L169.2 132.7 L168.8 130.6 L168.5 128.7 L168.4 126.8 L168.3 125 L168.3 123.4 Z" fill="none" stroke="#2b8cc8" stroke-width="1.3"/>
<path d="M185.3 186.1 L185.4 186.4 L185.4 186.8 L185.5 187.1 L185.5 187.4 L185.5 187.8 L185.5 188.1 L185.6 188.4 L185.6 188.8 L185.6 189.1 L185.6 189.4 L185.6 189.7 L185.6 190.1 L185.6 190.4 L185.6 190.7 L185.5 191 L185.5 191.3 L185.5 191.7 L185.5 192 L185.4 192.3 L185.4 192.6 L185.3 192.9 L185.3 193.2 L185.2 193.4 L185.2 193.7 L185.1 194 L185 194.3 L185 194.6 L184.9 194.8 L184.8 195.1 L184.7 195.3 L184.7 195.6 L184.6 195.8 L184.5 196.1 L184.4 196.3 L184.3 196.5 L184.2 196.7 L184.1 196.9 L183.9 197.1 L183.8 197.3 L183.7 197.5 L183.6 197.7 L183.5 197.9 L183.3 198.1 L183.2 198.2 L183.1 198.4 L182.9 198.5 L182.8 198.7 L182.7 198.8 L182.5 198.9 L182.4 199 L182.2 199.1 L182.1 199.2 L181.9 199.3 L181.8 199.4 L181.6 199.5 L181.4 199.5 L181.3 199.6 L181.1 199.6 L180.9 199.6 L180.8 199.7 L180.6 199.7 L180.4 199.7 L180.3 199.7 L180.1 199.7 L179.9 199.7 L179.8 199.7 L179.6 199.6 L179.4 199.6 L179.3 199.5 L179.1 199.5 L178.9 199.4 L178.7 199.3 L178.6 199.2 L178.4 199.2 L178.2 199.1 L178 198.9 L177.9 198.8 L177.7 198.7 L177.5 198.6 L177.4 198.4 L177.2 198.3 L177 198.1 L176.9 198 L176.7 197.8 L176.6 197.6 L176.4 197.4 L176.2 197.2 L176.1 197 L175.9 196.8 L175.8 196.6 L175.6 196.4 L175.5 196.1 L175.3 195.9 L175.2 195.7 L175.1 195.4 L174.9 195.2 L174.8 194.9 L174.7 194.7 L174.5 194.4 L174.4 194.1 L174.3 193.8 L174.2 193.5 L174 193.3 L173.9 193 L173.8 192.7 L173.7 192.4 L173.6 192.1 L173.5 191.8 L173.4 191.5 L173.3 191.1 L173.3 190.8 L173.2 190.5 L173.1 190.2 L173 189.9 L172.9 189.5 L172.9 189.2 L172.8 188.9 L172.8 188.6 L172.7 188.2 L172.7 187.9 L172.6 187.6 L172.6 187.2 L172.5 186.9 L172.5 186.6 L172.5 186.2 L172.5 185.9 L172.4 185.6 L172.4 185.2 L172.4 184.9 L172.4 184.6 L172.4 184.3 L172.4 183.9 L172.4 183.6 L172.4 183.3 L172.5 183 L172.5 182.7 L172.5 182.3 L172.5 182 L172.6 181.7 L172.6 181.4 L172.7 181.1 L172.7 180.8 L172.8 180.6 L172.8 180.3 L172.9 180 L173 179.7 L173 179.4 L173.1 179.2 L173.2 178.9 L173.3 178.7 L173.3 178.4 L173.4 178.2 L173.5 177.9 L173.6 177.7 L173.7 177.5 L173.8 177.3 L173.9 177.1 L174.1 176.9 L174.2 176.7 L174.3 176.5 L174.4 176.3 L174.5 176.1 L174.7 175.9 L174.8 175.8 L174.9 175.6 L175.1 175.5 L175.2 175.3 L175.3 175.2 L175.5 175.1 L175.6 175 L175.8 174.9 L175.9 174.8 L176.1 174.7 L176.2 174.6 L176.4 174.5 L176.6 174.5 L176.7 174.4 L176.9 174.4 L177.1 174.4 L177.2 174.3 L177.4 174.3 L177.6 174.3 L177.7 174.3 L177.9 174.3 L178.1 174.3 L178.2 174.3 L178.4 174.4 L178.6 174.4 L178.7 174.5 L178.9 174.5 L179.1 174.6 L179.3 174.7 L179.4 174.8 L179.6 174.8 L179.8 174.9 L180 175.1 L180.1 175.2 L180.3 175.3 L180.5 175.4 L180.6 175.6 L180.8 175.7 L181 175.9 L181.1 176 L181.3 176.2 L181.4 176.4 L181.6 176.6 L181.8 176.8 L181.9 177 L182.1 177.2 L182.2 177.4 L182.4 177.6 L182.5 177.9 L182.7 178.1 L182.8 178.3 L182.9 178.6 L183.1 178.8 L183.2 179.1 L183.3 179.3 L183.5 179.6 L183.6 179.9 L183.7 180.2 L183.8 180.5 L184 180.7 L184.1 181 L184.2 181.3 L184.3 181.6 L184.4 181.9 L184.5 182.2 L184.6 182.5 L184.7 182.9 L184.7 183.2 L184.8 183.5 L184.9 183.8 L185 184.1 L185.1 184.5 L185.1 184.8 L185.2 185.1 L185.2 185.4 L185.3 185.8 Z" fill="none" stroke="#2b8cc8" stroke-width="1.3"/>
</g>
<path d="M52.6 79 V272.4 H313.6 V79" fill="none" stroke="#333" stroke-width="1"/>
<line x1="52.6" y1="272.4" x2="52.6" y2="275.3" stroke="#333" stroke-width="1"/>
<text x="51.3" y="287.6" font-size="10.7" text-anchor="middle" fill="#000">−10</text>
<line x1="96.1" y1="272.4" x2="96.1" y2="275.3" stroke="#333" stroke-width="1"/>
<text x="96.1" y="287.6" font-size="10.7" text-anchor="middle" fill="#000">0</text>
<line x1="139.6" y1="272.4" x2="139.6" y2="275.3" stroke="#333" stroke-width="1"/>
<text x="139.6" y="287.6" font-size="10.7" text-anchor="middle" fill="#000">10</text>
<line x1="183.1" y1="272.4" x2="183.1" y2="275.3" stroke="#333" stroke-width="1"/>
<text x="183.1" y="287.6" font-size="10.7" text-anchor="middle" fill="#000">20</text>
<line x1="226.6" y1="272.4" x2="226.6" y2="275.3" stroke="#333" stroke-width="1"/>
<text x="226.6" y="287.6" font-size="10.7" text-anchor="middle" fill="#000">30</text>
<line x1="270.1" y1="272.4" x2="270.1" y2="275.3" stroke="#333" stroke-width="1"/>
<text x="270.1" y="287.6" font-size="10.7" text-anchor="middle" fill="#000">40</text>
<line x1="313.6" y1="272.4" x2="313.6" y2="275.3" stroke="#333" stroke-width="1"/>
<text x="313.6" y="287.6" font-size="10.7" text-anchor="middle" fill="#000">50</text>
<line x1="49.6" y1="92.2" x2="52.6" y2="92.2" stroke="#333" stroke-width="1"/>
<text x="44.3" y="96.1" font-size="10.9" text-anchor="end" fill="#000">560</text>
<line x1="49.6" y1="117.9" x2="52.6" y2="117.9" stroke="#333" stroke-width="1"/>
<text x="44.3" y="121.8" font-size="10.9" text-anchor="end" fill="#000">580</text>
<line x1="49.6" y1="143.7" x2="52.6" y2="143.7" stroke="#333" stroke-width="1"/>
<text x="44.3" y="147.6" font-size="10.9" text-anchor="end" fill="#000">600</text>
<line x1="49.6" y1="169.4" x2="52.6" y2="169.4" stroke="#333" stroke-width="1"/>
<text x="44.3" y="173.3" font-size="10.9" text-anchor="end" fill="#000">620</text>
<line x1="49.6" y1="195.2" x2="52.6" y2="195.2" stroke="#333" stroke-width="1"/>
<text x="44.3" y="199.1" font-size="10.9" text-anchor="end" fill="#000">640</text>
<line x1="49.6" y1="220.9" x2="52.6" y2="220.9" stroke="#333" stroke-width="1"/>
<text x="44.3" y="224.8" font-size="10.9" text-anchor="end" fill="#000">660</text>
<line x1="49.6" y1="246.7" x2="52.6" y2="246.7" stroke="#333" stroke-width="1"/>
<text x="44.3" y="250.6" font-size="10.9" text-anchor="end" fill="#000">680</text>
<line x1="49.6" y1="272.4" x2="52.6" y2="272.4" stroke="#333" stroke-width="1"/>
<text x="44.3" y="276.3" font-size="10.9" text-anchor="end" fill="#000">700</text>
<text x="180.7" y="302" font-size="12.8" text-anchor="middle" fill="#000">Time (s)</text>
<text x="19.1" y="180.4" font-size="12.6" text-anchor="middle" fill="#000" transform="rotate(-90 19.1 180.4)">Depth (km)</text>
<text x="-0.7" y="92.3" font-size="17.5" text-anchor="start" fill="#000">(c)</text>
<clipPath id="clipd"><rect x="375" y="79.6" width="260.6" height="192.79999999999998"/></clipPath>
<g clip-path="url(#clipd)"><g filter="url(#hb)">
<path d="M375.0 82.7 375.0 87.3 376.0 88.3 382.3 91.7 394.0 96.3 397.3 99.7 398.3 102.7 398.3 107.3 396.7 113.7 397.0 121.3 400.7 134.3 404.3 141.3 409.7 147.7 418.0 159.7 423.3 163.3 426.3 166.7 432.0 177.7 442.0 192.3 449.3 202.0 454.7 207.0 462.0 209.3 466.3 211.7 469.0 215.0 469.0 221.0 470.7 224.7 472.3 226.3 478.0 228.3 484.7 232.0 488.3 237.7 496.7 245.3 501.7 247.3 505.3 250.7 510.0 260.0 513.3 271.7 607.7 271.7 606.3 261.7 606.0 251.0 604.7 242.3 603.0 235.7 602.7 206.3 597.0 188.0 591.3 174.3 588.7 165.0 582.7 153.3 580.0 149.7 570.7 141.7 562.0 137.0 551.0 114.3 542.7 99.3 541.3 94.7 540.7 86.7 539.3 83.3 536.0 79.0 381.0 79.0 377.0 81.0Z" fill="#fffff7" fill-rule="evenodd"/>
<path d="M394.3 79.0 394.3 82.7 395.0 85.7 401.7 99.3 404.7 114.7 407.7 122.0 410.3 132.0 415.7 142.7 417.0 148.3 419.0 152.7 427.3 162.0 436.0 169.0 442.0 175.0 442.3 176.7 441.0 178.7 442.0 181.3 454.0 195.3 465.0 206.3 471.7 209.7 474.0 212.0 475.3 217.7 478.7 221.7 480.0 222.0 481.7 220.0 483.3 220.0 491.0 228.0 494.3 229.7 496.7 229.7 500.3 230.7 505.0 233.7 507.7 236.3 508.7 238.3 509.3 243.0 510.7 246.7 512.0 255.0 522.3 271.7 604.7 271.7 603.0 260.0 602.0 246.7 600.7 242.0 598.0 238.0 596.7 234.0 597.3 226.7 596.3 223.7 596.3 221.3 597.3 219.7 598.0 216.3 597.3 211.0 593.7 205.0 592.3 200.3 590.3 196.3 586.3 185.0 582.7 177.7 581.3 172.7 579.0 167.0 572.0 156.3 557.3 141.7 549.3 130.0 545.0 121.0 541.3 115.7 535.0 101.7 533.3 91.3 530.7 83.0 528.7 79.0Z" fill="#ffffe5" fill-rule="evenodd"/>
<path d="M396.7 79.0 397.7 85.3 403.3 100.0 406.7 116.0 410.0 122.3 412.0 129.7 419.3 144.7 420.3 149.3 422.0 152.3 426.0 156.3 427.7 159.3 429.3 161.0 432.7 162.7 435.0 162.7 436.7 163.3 440.3 166.7 444.3 172.7 445.0 175.3 444.7 178.3 446.0 181.3 467.0 201.7 469.7 203.7 473.7 204.7 478.0 209.0 481.3 211.3 484.0 214.7 488.0 222.0 491.0 225.3 493.7 227.0 497.3 227.7 502.7 230.0 508.0 233.0 510.7 235.3 511.3 237.7 511.3 241.3 513.3 250.0 515.7 254.0 521.3 260.0 528.7 271.7 603.0 271.7 599.7 243.3 595.0 236.0 593.3 228.0 588.3 220.7 588.7 218.0 590.3 216.3 593.0 216.0 594.3 215.0 594.3 212.0 592.7 210.3 590.0 210.7 589.0 209.7 588.3 206.0 588.3 200.3 585.7 194.7 580.7 181.7 578.3 173.3 575.7 167.7 568.7 157.7 555.7 143.3 550.0 134.7 546.0 129.7 543.0 123.0 539.7 118.0 532.7 101.0 531.0 93.3 525.7 79.0ZM530.3 259.7 531.0 259.7 532.7 261.3 533.7 263.3 534.0 266.0 533.0 268.0 531.3 266.3 530.0 263.0ZM504.7 214.3 521.0 231.0 520.0 235.0 518.7 237.0 516.7 237.0 514.7 236.0 510.7 232.0 508.0 226.7 506.7 219.3 504.3 215.0Z" fill="#ffffc7" fill-rule="evenodd"/>
<path d="M398.0 79.0 399.3 86.0 404.0 98.7 407.7 116.0 411.0 122.3 414.7 133.0 421.7 145.7 422.7 149.7 423.7 151.3 428.7 156.0 430.0 156.3 432.7 160.3 444.0 168.3 446.7 179.0 456.3 188.0 463.3 193.3 465.3 193.3 467.3 192.0 469.0 191.7 472.3 193.0 475.7 196.0 476.7 199.3 476.7 202.0 478.3 205.7 484.3 211.7 489.7 220.0 494.3 224.3 503.3 229.0 505.3 229.7 506.7 229.0 505.7 222.7 504.3 219.7 501.3 216.0 500.0 213.0 493.7 208.7 493.3 206.3 494.7 204.3 502.7 212.3 502.0 209.0 503.7 204.0 504.7 197.7 505.3 197.0 506.7 197.3 511.0 201.3 517.3 210.0 520.7 219.7 522.0 221.7 526.0 225.3 525.7 227.7 522.0 231.7 522.0 232.3 525.0 235.7 523.7 236.3 522.3 238.7 520.3 240.3 514.7 240.3 514.3 244.0 515.0 246.3 517.7 250.3 526.0 259.0 527.3 259.0 527.7 254.3 528.3 254.3 532.3 258.3 534.3 261.0 535.3 263.7 535.7 268.3 536.7 271.7 592.3 271.7 593.0 270.0 594.3 268.7 595.7 268.7 597.3 270.7 597.3 267.7 599.7 271.7 601.3 271.7 601.3 267.7 598.3 243.0 597.0 240.0 594.7 237.0 593.0 233.0 592.3 229.7 589.7 226.3 583.7 207.0 583.7 200.0 579.3 187.7 577.7 177.3 576.3 173.3 573.3 167.7 568.7 161.0 555.0 145.3 548.0 134.7 544.0 130.0 542.0 125.0 536.7 114.7 534.7 108.0 530.7 99.3 528.7 92.0 526.7 88.0 525.3 82.7 523.7 79.0ZM541.3 255.3 545.0 259.7 545.0 260.7 543.0 260.0 541.3 258.3ZM487.7 178.7 489.7 179.0 496.0 183.0 497.7 183.3 499.3 185.0 500.0 187.3 498.0 188.3 493.3 188.0 487.7 182.7 486.7 180.3Z" fill="#ffffa5" fill-rule="evenodd"/>
<path d="M399.3 79.0 400.3 85.7 406.0 103.3 408.0 114.3 412.3 124.0 415.7 133.3 418.3 138.3 422.3 144.0 425.0 150.3 428.7 153.3 429.7 155.3 434.7 155.0 440.7 161.0 442.7 164.3 443.7 168.0 445.0 169.3 447.0 177.0 453.7 183.0 461.3 188.7 463.0 189.3 468.3 188.7 474.0 192.0 477.3 195.3 479.3 202.3 482.0 206.0 487.3 211.0 490.7 215.3 500.3 224.3 503.3 225.7 504.0 224.7 503.7 222.7 500.3 218.3 498.0 214.0 493.3 211.3 492.0 210.0 491.3 208.7 491.3 206.0 492.7 202.7 489.3 199.7 486.3 194.7 486.7 189.3 483.3 183.7 482.0 180.0 481.3 172.3 479.0 165.3 479.0 160.3 480.0 158.0 481.0 152.3 484.3 156.7 488.0 164.3 492.3 170.3 495.3 172.3 501.7 172.0 505.0 173.7 509.0 184.7 512.3 188.7 515.0 195.0 520.3 202.0 523.3 209.0 525.0 210.0 527.0 208.7 529.0 208.7 533.7 214.0 541.0 225.3 542.7 227.0 547.3 229.0 549.3 230.7 548.3 235.7 548.7 247.3 551.0 257.0 551.0 261.3 549.7 262.7 545.3 262.7 540.7 260.7 539.7 259.7 539.3 253.3 534.3 247.3 532.3 242.7 531.3 242.0 530.0 242.0 527.0 238.7 525.3 239.0 522.0 242.7 519.3 243.7 519.3 245.3 520.7 247.3 523.3 249.7 525.7 248.7 527.3 249.3 532.0 256.3 535.3 259.7 536.7 262.3 537.7 269.3 539.0 271.7 584.7 271.7 587.0 266.3 587.7 260.7 589.0 259.0 593.0 259.0 596.3 261.3 596.3 263.0 598.7 266.7 599.3 266.7 599.3 261.3 596.7 241.3 593.3 236.0 591.7 230.7 590.3 229.3 590.7 229.0 590.3 229.3 588.0 226.7 584.3 224.3 582.0 222.0 582.0 218.3 584.0 211.7 584.3 208.3 581.7 199.7 578.3 194.3 577.0 189.7 576.0 184.0 576.0 178.0 575.3 175.0 573.3 170.7 568.0 162.7 553.7 146.0 546.7 135.0 542.3 129.7 540.0 123.3 536.3 116.3 533.0 106.3 529.3 99.0 527.7 93.0 525.3 88.0 524.3 83.7 522.3 79.0Z" fill="#ffff75" fill-rule="evenodd"/>
<path d="M540.7 263.7 540.7 266.3 543.7 271.7 551.0 271.7 547.3 264.7 542.7 263.3ZM527.7 242.0 527.0 242.7 527.7 245.3 530.3 248.7 533.0 253.3 535.0 255.3 536.3 255.3 537.0 254.7 537.0 252.3 533.0 245.7 529.7 242.0ZM591.7 233.7 596.0 260.0 597.3 260.7 597.3 255.7 595.3 241.3ZM470.0 186.7 479.3 195.0 481.7 199.7 485.3 203.7 487.3 205.0 488.7 205.0 489.7 204.0 490.0 201.3 489.0 199.3ZM400.7 79.0 401.0 84.3 405.3 97.7 409.0 115.3 416.7 134.0 426.0 148.0 428.3 149.3 429.7 149.3 432.0 147.3 433.0 147.3 435.7 149.3 438.3 152.3 444.0 162.0 446.0 169.3 445.7 170.7 447.3 175.3 449.7 177.7 458.3 184.0 461.0 185.3 463.3 185.3 465.3 183.7 460.0 180.0 460.3 179.3 464.7 177.0 474.0 175.0 475.7 174.0 477.0 172.0 477.0 169.3 475.0 164.0 474.7 161.3 475.0 152.3 473.7 139.7 467.7 124.3 463.0 115.0 462.0 111.0 462.3 109.7 468.3 122.7 471.7 127.3 473.3 130.7 479.0 137.0 481.7 141.0 483.7 145.0 485.3 150.3 488.0 154.3 490.0 160.3 492.3 164.3 495.3 166.3 498.3 165.7 505.3 167.0 507.3 168.7 508.0 175.3 509.7 181.0 514.0 187.0 517.0 194.3 523.3 203.7 524.7 204.7 528.0 204.7 529.7 205.3 533.7 209.0 537.0 215.7 542.0 223.0 543.3 223.7 546.7 223.0 551.7 227.0 555.0 228.0 553.3 232.0 552.7 235.7 552.3 245.7 555.7 259.7 560.7 269.3 562.7 271.7 582.0 271.7 584.3 265.0 584.3 261.7 583.0 257.3 583.0 254.3 583.7 252.7 585.0 251.3 587.0 250.7 588.0 249.7 588.3 244.7 587.0 240.7 584.3 237.0 583.7 232.7 582.7 230.7 575.0 223.0 577.7 216.7 578.7 212.0 581.0 206.3 581.0 202.7 579.7 196.3 575.0 188.7 573.7 182.0 573.7 175.3 572.0 171.0 567.7 164.3 560.7 155.7 552.7 147.0 547.0 137.7 542.0 131.0 539.0 123.3 535.7 117.0 531.3 105.0 527.7 98.0 527.0 94.7 521.3 79.0ZM561.3 212.3 564.3 215.3 567.7 219.7 567.3 220.0 563.7 220.3 560.7 221.7 560.3 221.3 560.0 216.3 560.7 213.0ZM459.7 104.0 460.3 105.0 460.0 106.0 459.3 105.0Z" fill="#fffe44" fill-rule="evenodd"/>
<path d="M562.7 223.3 560.0 225.0 557.0 228.3 555.3 232.7 554.7 236.3 554.7 246.0 558.0 259.3 562.0 267.3 565.7 271.7 579.7 271.7 582.0 264.0 580.7 246.0 574.3 229.3 568.7 224.0 566.3 223.0ZM446.3 170.3 447.7 173.7 450.7 176.3 459.3 181.7 461.3 181.3ZM402.3 79.0 402.3 86.3 406.3 98.7 409.7 115.3 418.0 135.0 420.0 138.0 420.7 138.0 422.3 140.3 425.7 143.3 427.0 143.7 430.3 141.7 432.0 141.7 434.7 143.7 440.0 150.7 445.3 160.0 447.7 165.3 449.7 167.7 456.3 171.3 458.7 172.0 462.7 171.7 466.7 170.3 469.7 168.7 471.7 166.0 472.7 158.0 471.3 143.3 470.3 139.7 464.0 125.7 459.0 118.0 455.7 110.0 451.3 104.3 447.3 96.3 447.3 94.3 449.0 93.0 455.3 93.0 459.3 96.7 462.7 100.7 464.7 106.3 468.7 114.0 471.0 120.0 475.7 127.7 481.7 136.0 485.3 143.0 487.7 150.0 494.7 158.7 498.3 160.0 502.7 163.0 506.3 163.7 509.0 165.3 510.3 168.3 511.0 174.0 516.3 183.0 520.7 191.7 527.3 200.0 530.3 203.0 534.0 205.0 536.3 207.3 537.7 210.0 538.3 213.0 541.0 217.7 543.0 219.7 545.7 219.7 547.0 220.3 552.7 225.0 555.0 225.0 556.7 222.3 558.0 215.0 558.0 209.0 558.7 207.0 568.0 216.3 572.0 217.7 574.7 215.7 576.3 210.0 578.3 205.7 578.3 203.3 576.3 191.0 573.0 185.3 572.0 182.0 572.0 175.7 571.0 172.0 565.7 163.3 560.0 156.7 552.0 148.7 548.7 144.0 545.3 137.0 540.3 129.7 538.7 124.7 535.7 119.0 531.7 108.7 529.0 103.3 527.3 102.0 526.7 105.3 526.0 106.0 523.3 104.0 519.7 94.0 520.3 93.7 525.0 97.3 525.7 97.3 525.7 95.3 522.0 82.7 520.0 79.0Z" fill="#fffb11" fill-rule="evenodd"/>
<path d="M562.7 225.3 560.3 226.7 558.3 228.7 556.0 236.3 556.0 246.0 558.7 257.0 563.0 266.7 567.3 271.3 577.0 271.7 579.0 268.3 580.3 262.3 580.0 252.7 578.0 244.0 575.0 236.0 572.0 230.0 568.0 226.0 565.3 225.0ZM403.7 79.0 403.0 81.3 403.3 86.7 408.0 102.3 410.7 116.3 415.0 126.3 414.7 124.7 415.3 124.7 418.3 131.3 424.3 138.3 426.0 139.3 431.0 139.0 432.7 139.7 441.3 147.7 448.3 158.7 453.0 164.7 459.7 168.0 464.0 167.3 467.3 165.7 468.7 164.3 470.7 158.7 471.0 152.3 469.3 141.7 462.0 126.0 456.7 118.0 453.7 110.3 448.7 103.7 444.3 94.3 443.7 91.3 444.3 88.0 445.7 86.7 447.3 86.0 451.7 86.7 455.7 89.3 465.0 99.3 466.7 105.0 470.3 112.0 472.3 118.3 482.3 134.7 489.0 148.7 496.3 156.7 499.3 158.0 503.3 161.3 508.0 162.3 510.3 164.3 512.7 167.7 514.3 171.3 519.0 176.7 522.7 183.0 523.3 187.7 524.7 190.3 526.7 192.7 530.0 198.3 537.3 205.3 543.3 215.7 553.3 224.0 554.0 224.0 554.7 223.3 555.0 220.3 556.7 215.0 556.3 206.0 556.7 204.0 557.3 203.3 559.0 204.3 562.7 209.0 568.3 214.0 570.7 215.0 573.0 215.0 573.7 214.3 575.7 207.7 576.7 206.0 576.3 199.0 575.3 192.3 574.3 190.3 573.3 185.7 570.7 181.7 569.7 171.7 565.3 164.3 561.0 159.3 553.7 152.0 552.0 151.0 550.7 151.0 548.3 148.3 546.7 145.0 545.3 139.3 540.7 131.7 530.7 110.0 529.3 108.0 527.3 109.3 524.7 107.0 523.7 104.3 517.0 95.0 515.7 92.0 515.7 90.7 516.7 90.0 522.7 93.7 523.3 93.3 523.3 91.0 521.0 82.7 518.7 79.0 454.3 79.0 450.7 82.0 449.0 82.0 445.7 80.0 441.7 79.0 427.3 79.0 425.7 81.0 422.3 81.3 419.3 79.0Z" fill="#fff200" fill-rule="evenodd"/>
<path d="M563.0 226.7 559.3 229.0 557.7 232.7 557.0 236.7 557.0 245.3 559.7 257.0 564.0 266.0 567.3 270.0 570.3 271.7 574.3 271.7 577.0 269.3 579.0 262.3 579.0 253.0 577.7 246.7 575.3 239.7 571.3 231.3 567.3 227.3 566.0 226.7ZM515.0 79.0 518.7 89.7 520.3 91.0 521.3 91.0 521.3 87.3 519.3 81.7 517.3 79.0ZM457.7 81.3 456.3 83.7 456.7 86.0 460.3 91.7 466.3 97.7 467.3 99.7 468.3 105.0 471.0 110.0 473.7 118.3 483.7 135.0 490.0 147.3 496.7 155.0 499.7 156.7 504.0 160.3 507.0 160.7 509.7 161.7 513.0 165.7 521.7 178.3 526.3 188.3 532.0 197.7 538.3 204.7 542.3 211.7 544.7 214.7 553.7 223.0 554.0 219.7 555.7 215.0 555.3 202.3 556.0 200.7 558.0 201.7 561.0 204.7 564.7 209.7 569.3 212.7 572.7 213.7 575.7 205.3 575.0 201.3 575.3 199.3 573.3 189.0 570.7 181.3 568.7 178.0 568.7 172.0 564.3 164.3 558.3 157.7 553.0 153.3 549.7 153.0 548.3 151.7 545.7 147.3 544.0 138.7 540.0 132.0 536.3 123.3 532.0 115.0 529.7 112.3 528.0 111.7 525.7 109.7 519.0 99.3 512.0 91.7 510.0 91.0 508.0 92.7 506.3 92.7 504.0 91.3 502.7 90.0 502.3 86.7 501.3 84.0 496.7 79.0 469.0 79.0 464.3 80.7 460.0 80.7ZM409.7 80.3 407.7 83.3 408.0 86.3 410.3 88.3 417.7 92.3 420.3 95.0 421.0 96.7 420.0 100.0 417.3 103.7 414.7 114.3 414.7 117.3 419.7 129.3 426.3 135.7 433.0 138.3 438.3 142.7 442.0 144.3 450.3 157.3 454.7 163.0 459.7 165.7 463.7 165.3 466.7 164.0 467.7 162.7 470.0 156.0 469.7 150.0 468.0 141.0 461.0 126.7 456.0 119.3 452.7 111.7 448.3 106.7 446.3 103.0 443.0 99.0 440.7 86.3 439.3 82.7 435.0 79.0 430.7 79.0 429.7 81.0 429.7 84.3 432.3 88.0 432.3 89.7 431.7 90.0 430.0 88.3 429.3 86.0 428.3 84.7 425.7 83.7 420.0 82.7 415.7 79.0 412.7 79.0ZM435.3 96.3 436.0 96.0 439.7 99.3 439.7 100.0 439.0 100.3ZM405.0 79.0 404.0 83.0 404.3 87.0 408.3 100.0 411.3 116.0 414.3 123.3 405.7 79.0Z" fill="#ffe700" fill-rule="evenodd"/>
<path d="M562.3 227.7 559.7 230.0 557.7 237.3 557.7 245.0 559.3 252.7 561.7 259.7 565.7 267.0 569.7 270.7 573.7 271.0 575.7 269.3 576.7 267.3 578.0 262.0 578.0 253.0 576.7 246.7 574.0 239.0 570.0 231.3 567.7 229.0 565.3 227.7ZM411.3 107.3 412.0 114.3 413.3 118.3ZM426.3 99.7 419.7 105.7 416.7 115.7 416.7 117.0 420.3 127.7 428.0 135.0 433.3 137.3 437.7 140.7 442.7 143.0 455.3 161.7 460.0 164.3 463.3 164.0 464.0 163.3 466.0 163.0 469.3 154.7 468.0 144.0 466.0 138.7 460.3 127.3 453.7 117.3 452.3 113.7 445.3 105.3 441.7 104.3 438.3 102.7 436.3 101.0 432.3 99.3 428.0 99.0ZM516.3 81.3 516.0 82.0 517.3 86.0 519.0 87.7 519.0 84.7 518.0 82.7ZM406.0 80.0 405.3 82.7 405.3 86.3 409.7 100.0ZM461.0 83.7 459.7 85.3 460.0 87.3 462.0 90.7 467.0 95.3 468.0 97.0 469.3 104.3 472.7 111.3 474.3 117.7 480.7 129.3 484.7 134.7 491.0 146.7 498.0 154.7 500.0 155.7 504.3 159.7 506.7 159.7 509.7 160.7 514.7 166.0 521.3 176.0 525.3 184.0 531.0 192.7 533.0 196.7 534.7 198.3 538.0 203.7 539.0 204.3 544.7 213.3 549.7 218.3 553.0 220.7 553.0 219.3 553.7 218.7 553.7 217.3 555.0 214.7 554.3 206.7 554.3 200.7 555.0 198.3 559.0 201.0 565.7 209.0 572.0 212.7 572.7 212.0 573.0 209.0 574.7 205.3 574.0 199.0 574.3 197.3 572.7 189.3 570.0 183.0 569.3 179.7 567.3 176.7 567.3 175.0 568.0 174.0 567.3 171.0 563.7 164.7 556.7 157.3 552.0 154.3 550.0 154.3 548.7 155.0 547.7 153.3 548.0 153.0 547.3 152.7 543.7 145.7 543.7 140.7 543.0 138.7 539.0 131.7 532.3 117.7 529.0 113.7 527.3 112.3 528.0 113.7 527.7 114.0 526.7 113.0 518.7 100.3 515.7 97.3 512.3 95.0 507.0 95.0 502.3 92.3 501.3 91.3 499.7 86.3 496.7 81.3 495.0 80.0 492.3 80.0 490.3 81.7 490.3 85.0 492.0 91.0 492.7 91.7 493.0 96.3 493.7 97.0 493.7 104.7 492.7 109.0 487.3 89.0 485.0 84.0 482.3 81.0 478.7 79.3 475.3 79.3 469.7 82.0 465.7 82.3Z" fill="#ffdc00" fill-rule="evenodd"/>
<path d="M563.0 229.0 560.7 231.0 559.0 237.0 558.7 242.0 559.7 249.3 561.7 256.7 565.7 265.0 569.3 269.0 572.7 270.3 575.0 269.0 577.0 263.7 577.3 253.3 576.3 248.3 573.7 240.3 569.7 232.3 566.3 229.3ZM421.3 106.0 418.0 116.0 418.3 118.3 419.0 119.0 420.3 124.3 422.0 128.0 428.3 134.0 443.7 142.3 456.0 161.0 460.7 163.7 464.7 162.7 465.7 162.0 468.3 154.7 467.0 142.0 459.3 127.7 454.3 120.3 452.3 115.3 450.7 113.0 444.3 106.7 440.3 105.0 436.3 102.3 433.0 101.3 428.0 101.3ZM465.3 85.3 464.0 87.3 469.3 95.0 470.3 104.3 473.3 111.0 475.0 117.7 479.7 126.7 485.7 134.3 492.0 146.3 496.3 152.0 499.0 154.3 500.7 155.0 505.0 158.7 510.0 160.0 515.3 165.3 521.3 174.3 523.7 179.7 534.0 196.3 540.7 204.7 546.0 212.7 551.7 217.7 553.3 215.7 554.3 213.7 554.3 209.3 553.3 205.3 553.3 201.0 554.3 196.7 556.0 197.3 560.7 201.3 565.3 208.0 569.0 209.7 571.7 210.0 571.7 208.3 573.3 204.7 573.0 195.3 571.3 188.0 569.0 182.3 568.0 178.3 565.7 175.3 565.7 174.0 566.3 173.3 566.0 170.0 561.0 162.3 556.7 158.3 552.3 155.7 549.7 155.7 549.3 156.7 547.7 155.7 542.3 144.3 542.7 140.7 542.0 138.7 534.7 124.0 530.3 116.7 528.3 114.7 530.0 118.0 530.0 118.7 529.3 118.7 517.3 100.0 512.3 96.7 508.7 96.7 506.7 96.0 500.7 92.7 497.3 84.3 495.0 81.3 493.3 81.3 492.7 82.0 492.3 85.7 493.3 91.0 494.0 92.0 495.0 101.7 495.0 105.0 493.3 113.7 492.3 112.3 489.7 101.0 487.7 96.3 486.0 90.0 484.3 87.3 481.7 84.7 478.0 83.0 476.0 83.0 472.0 85.0Z" fill="#ffcf02" fill-rule="evenodd"/>
<path d="M563.0 231.3 562.3 232.0 561.0 236.0 560.3 239.7 560.3 244.3 561.3 250.0 563.3 256.7 566.7 263.7 569.7 267.7 572.3 269.0 573.7 268.3 574.7 267.0 576.3 261.0 576.3 254.0 575.3 248.7 572.7 241.0 568.3 233.7 565.0 231.3ZM427.3 103.0 422.0 107.3 418.7 116.3 422.7 127.3 438.0 138.7 444.3 141.7 449.3 148.7 452.3 154.0 457.0 160.0 461.0 162.0 464.3 161.0 467.7 154.3 467.7 150.3 466.3 143.0 463.3 136.3 452.7 120.0 450.0 113.7 443.7 107.3 439.3 105.3 436.0 103.0ZM471.3 90.7 470.7 91.7 471.3 97.0 471.3 104.3 474.0 111.0 474.3 114.3 475.3 117.0 480.3 126.7 486.7 134.3 492.7 145.3 500.0 153.3 501.7 154.0 505.3 157.3 510.7 159.7 516.0 165.0 529.3 187.0 531.3 189.3 535.3 196.0 547.0 211.7 550.7 214.7 552.7 214.0 553.3 212.0 552.7 198.7 553.7 195.3 556.0 196.0 566.3 206.7 568.0 207.0 570.3 205.7 571.7 200.7 571.7 193.7 569.7 185.7 566.7 178.7 566.7 177.7 565.7 175.3 563.7 173.3 563.7 172.3 564.3 171.7 564.3 169.3 560.3 163.0 557.0 159.3 551.7 156.3 550.3 156.7 550.0 157.7 548.7 157.7 547.3 156.7 542.0 146.0 540.3 141.0 540.7 140.0 541.7 141.7 541.0 138.7 534.0 124.7 530.0 118.3 532.7 124.3 532.3 125.0 517.3 101.3 512.7 98.0 510.7 97.3 506.0 97.3 499.7 92.7 499.7 91.7 494.3 82.0 493.7 87.0 494.0 90.7 494.7 91.7 495.0 95.3 495.7 96.3 496.0 105.0 495.3 106.0 494.7 113.7 494.0 114.3 493.0 114.3 491.0 110.0 488.7 101.0 484.3 91.3 478.0 87.3 476.0 87.3ZM540.0 139.7 540.3 139.3 540.7 140.0 540.3 140.3ZM539.7 139.0 540.0 138.7 540.3 139.3 540.0 139.7ZM532.3 125.0 532.7 124.7 533.0 125.3 532.7 125.7Z" fill="#ffc008" fill-rule="evenodd"/>
<path d="M565.0 238.3 564.0 239.3 563.0 242.0 563.0 247.3 564.0 252.0 569.3 264.3 571.3 266.7 572.3 266.7 574.0 264.3 575.0 260.7 575.0 254.0 574.0 248.7 572.3 243.7 570.7 240.7 567.7 238.3ZM532.3 123.7 535.3 130.7 540.0 138.7ZM428.0 103.7 422.7 108.0 420.7 115.0 420.7 117.7 424.0 126.3 425.7 127.7 430.7 129.7 436.0 135.7 445.0 140.7 447.0 142.7 448.3 141.3 449.0 141.3 450.7 143.3 451.7 148.3 453.0 151.7 456.0 156.3 458.0 158.3 462.3 159.0 466.7 154.0 466.3 147.3 465.3 142.3 462.3 136.3 456.3 129.0 451.7 121.3 449.0 114.7 442.7 108.3 435.7 104.0 433.3 103.3ZM476.3 89.7 472.3 92.3 472.0 103.3 472.7 106.0 473.3 106.7 473.3 108.3 475.3 115.3 481.0 126.0 487.7 133.3 490.7 139.0 494.3 144.3 501.7 152.3 502.7 152.7 506.7 156.7 510.7 158.7 516.7 164.7 527.7 182.3 532.0 188.0 536.3 195.0 546.7 209.0 550.3 212.3 551.3 211.7 552.3 208.7 552.0 199.3 553.0 193.7 556.0 195.3 565.3 203.3 567.3 203.0 568.7 201.7 570.0 198.7 570.0 190.7 566.7 180.7 562.3 171.7 560.7 170.0 561.3 169.3 561.0 166.3 558.3 162.0 553.7 158.0 551.0 157.0 550.7 158.3 547.3 158.3 535.3 132.0 526.3 116.3 516.3 101.3 512.3 99.0 510.3 99.0 507.7 100.3 504.0 98.7 498.7 93.7 495.0 84.3 494.7 87.3 496.0 91.7 496.3 95.0 497.0 96.0 497.7 105.3 496.7 108.0 496.0 114.7 495.0 115.7 493.3 115.7 491.3 113.7 488.7 105.7 488.7 104.0 487.3 99.7 485.0 96.3 483.7 92.7 478.0 89.7Z" fill="#ffb10e" fill-rule="evenodd"/>
<path d="M567.3 242.3 566.3 244.3 567.0 250.0 569.3 259.3 570.0 260.7 571.3 261.3 572.7 259.3 573.0 257.3 572.7 251.0 570.7 244.7 568.7 242.3ZM428.7 105.0 424.0 109.3 423.3 112.3 423.0 117.3 426.0 124.0 427.0 124.7 429.3 124.7 432.0 123.7 433.7 124.0 435.0 125.7 435.0 130.0 436.0 132.3 438.3 134.7 443.3 138.0 445.3 138.7 446.3 135.0 447.7 135.0 449.7 136.3 453.0 140.7 457.3 153.3 460.7 155.0 464.0 154.3 465.3 152.3 465.3 146.7 464.0 141.3 461.0 136.0 458.3 133.3 455.7 131.7 453.3 128.7 450.0 122.0 447.7 115.3 441.7 109.3 436.7 106.0 433.3 104.7ZM473.0 93.0 472.7 103.7 474.7 108.7 476.7 117.0 481.7 124.7 489.7 132.3 491.7 135.3 493.7 137.3 497.0 138.7 499.0 140.7 501.3 147.3 503.3 150.7 508.7 156.7 511.7 158.3 517.3 164.0 526.3 178.3 533.0 186.7 541.7 200.3 548.3 208.3 550.0 208.3 551.0 207.0 551.0 199.7 552.0 193.3 552.7 192.7 556.7 194.7 563.3 200.0 565.0 200.7 566.7 200.0 567.7 199.0 569.0 195.3 569.0 191.0 568.3 187.7 565.0 179.7 558.3 171.3 556.3 167.7 555.3 164.3 555.7 164.0 558.0 166.7 558.3 165.3 557.7 163.0 556.0 161.0 551.3 158.3 552.0 159.7 551.7 160.3 548.3 159.7 547.0 158.7 539.7 144.0 538.0 138.7 533.0 129.0 516.3 103.7 512.3 100.7 511.0 101.3 510.3 104.3 509.3 105.3 507.3 105.3 504.0 104.0 502.3 104.0 499.0 108.7 497.0 117.0 496.0 118.0 495.0 118.0 492.7 116.7 490.3 113.7 486.7 102.0 483.7 95.7 483.0 93.0 477.3 91.0Z" fill="#ffa214" fill-rule="evenodd"/>
<path d="M456.0 134.7 454.7 136.0 454.7 138.0 456.7 144.7 459.7 150.3 461.3 151.3 462.7 151.3 464.0 149.7 464.0 145.0 463.3 142.3 460.0 136.7 458.3 135.3ZM440.0 129.3 439.7 130.0 440.7 131.7 442.3 132.7 441.7 130.0 441.0 129.3ZM430.3 107.7 429.3 109.0 429.0 111.7 430.0 115.3 432.0 118.7 433.0 119.3 437.0 119.7 439.3 122.3 442.3 129.0 447.0 130.7 449.0 130.7 450.0 128.7 449.3 125.3 447.0 118.3 445.0 115.0 439.3 109.7 435.0 107.0 432.3 107.0ZM503.3 109.7 501.3 111.7 500.0 114.0 498.3 128.0 504.0 146.0 508.0 153.7 517.7 163.0 525.0 174.7 533.7 185.0 536.0 189.3 540.0 194.7 542.3 199.3 546.7 204.3 549.3 205.0 550.0 204.0 551.0 193.0 552.0 191.7 554.3 192.0 560.7 197.0 563.3 198.3 565.7 198.0 567.7 194.7 567.7 189.3 566.3 184.7 564.3 180.7 560.0 175.7 554.7 171.3 550.0 162.3 546.3 159.0 544.3 154.0 538.7 144.0 536.3 137.3 532.7 130.3 524.7 117.7 518.7 109.7 513.7 104.3 513.0 104.3 513.0 106.7 514.7 110.7 514.3 112.7 511.7 112.0 507.3 109.0 505.7 108.7ZM477.0 92.7 474.7 94.3 474.7 98.3 474.0 99.3 474.0 103.7 474.7 104.7 477.0 114.7 479.3 118.7 484.0 123.3 486.0 124.3 490.7 124.0 492.3 122.7 492.3 120.0 489.7 115.7 488.3 111.3 484.7 103.7 482.0 95.0 479.7 93.3Z" fill="#ff931d" fill-rule="evenodd"/>
<path d="M457.7 138.7 457.3 140.3 458.0 142.7 459.3 145.3 460.7 146.7 461.7 146.7 461.7 142.7 460.3 140.3 459.0 139.0ZM505.0 113.7 503.3 115.0 501.7 118.7 501.7 123.7 502.7 127.0 503.0 134.7 506.0 144.7 510.7 154.3 517.3 161.0 522.0 168.7 527.3 176.0 534.0 183.0 537.3 188.7 539.7 191.3 543.0 198.0 545.3 201.0 547.0 202.0 549.0 201.7 550.0 192.0 551.7 190.0 554.0 190.3 562.0 196.3 565.0 196.0 566.3 194.0 566.7 189.7 564.3 182.7 560.0 177.7 557.3 176.0 553.7 174.7 552.0 172.7 547.7 162.0 545.7 159.3 542.3 151.7 538.0 144.7 535.7 138.7 531.0 129.3 526.0 121.7 521.3 115.7 518.3 113.0 517.7 113.0 517.7 115.7 517.0 116.3 515.3 116.3 511.3 115.0 508.3 113.3ZM435.7 111.7 434.7 113.3 435.0 115.3 441.0 120.3 444.0 125.0 445.3 125.0 445.7 122.3 443.7 117.3 438.3 112.3ZM477.7 105.0 477.0 107.0 477.3 109.7 479.3 114.7 483.0 117.7 485.7 117.3 486.3 116.0 486.3 113.3 485.0 110.3 482.3 107.3Z" fill="#ff8426" fill-rule="evenodd"/>
<path d="M553.7 179.0 552.0 181.7 552.0 184.0 553.0 186.7 558.0 192.3 561.7 194.7 563.7 194.7 565.3 192.3 565.3 188.0 563.3 183.0 560.0 179.3 558.0 178.3 556.0 178.0ZM507.0 116.3 505.3 117.3 503.7 121.0 503.7 123.7 504.7 128.3 504.7 134.0 506.3 140.3 510.3 150.3 512.3 154.0 516.7 158.3 526.0 172.7 535.3 182.3 536.7 185.0 541.0 190.3 544.7 197.7 546.7 199.3 547.7 199.3 548.3 198.3 548.3 184.3 549.7 178.3 549.7 172.3 547.0 163.3 543.0 154.3 537.0 144.7 529.3 128.7 522.0 119.0 520.3 117.7 517.7 119.0 509.7 116.3Z" fill="#ff752f" fill-rule="evenodd"/>
<path d="M557.0 180.3 555.7 181.3 555.0 183.0 555.0 185.3 555.7 187.3 558.7 191.3 560.7 192.7 562.3 193.0 564.0 191.7 564.3 190.7 563.7 186.0 562.0 183.0 560.3 181.3 558.3 180.3ZM507.3 119.0 505.7 122.0 506.0 133.0 509.0 143.3 513.0 152.3 516.7 156.3 521.7 165.0 527.0 172.3 536.7 181.7 539.0 185.0 544.0 189.7 544.7 193.0 546.3 195.0 546.3 192.7 544.0 189.0 544.0 185.7 547.7 176.3 548.0 173.0 546.0 163.7 541.7 153.3 534.7 142.3 528.0 129.0 524.0 123.7 521.3 121.7 519.0 121.3 510.3 118.3Z" fill="#ff6437" fill-rule="evenodd"/>
<path d="M558.7 182.7 557.3 183.7 557.3 186.7 558.3 188.7 560.0 190.3 562.0 190.7 562.7 190.0 562.7 187.0 561.0 184.0ZM508.7 121.0 507.3 123.7 507.3 133.0 509.7 141.3 513.7 150.7 517.0 155.0 522.0 164.0 527.0 171.0 532.0 176.0 536.3 179.0 539.3 182.0 540.7 182.7 542.3 182.3 544.0 180.3 545.7 177.0 546.3 171.7 544.7 162.7 540.3 152.3 534.0 143.0 526.7 130.0 523.0 125.7 517.3 122.0 514.0 120.7 510.0 120.3Z" fill="#ff523e" fill-rule="evenodd"/>
<path d="M510.7 122.3 509.7 123.3 508.7 126.3 508.7 133.0 511.7 143.3 514.3 149.3 517.7 154.3 522.7 163.7 526.7 169.3 534.3 176.3 540.0 179.3 542.0 179.0 543.3 177.7 544.7 174.3 544.7 168.0 543.3 161.3 539.3 152.0 533.0 143.0 530.0 137.7 523.3 128.7 517.7 123.7 513.7 122.0Z" fill="#ff3a32" fill-rule="evenodd"/>
<path d="M511.7 124.3 510.7 125.7 510.0 128.0 510.0 133.3 510.7 136.3 514.0 146.0 521.7 160.7 526.0 167.3 531.3 173.0 536.3 176.0 538.7 176.7 541.3 176.3 542.3 175.3 543.3 172.3 543.3 165.3 541.7 159.0 538.3 151.7 529.3 138.3 521.7 129.0 518.7 126.0 515.3 124.0 513.3 123.7Z" fill="#fe2424" fill-rule="evenodd"/>
<path d="M513.3 126.0 512.3 127.0 511.3 130.0 512.3 137.7 515.0 145.0 522.0 160.0 526.3 166.7 531.0 171.7 533.3 173.3 536.7 174.7 539.3 174.7 540.7 174.0 542.3 170.0 542.3 165.0 540.3 157.7 537.3 151.3 528.0 138.0 521.3 130.7 517.0 126.7 515.7 126.0Z" fill="#fb1010" fill-rule="evenodd"/>
<path d="M514.7 130.0 514.0 131.0 514.3 137.0 516.7 142.3 519.0 151.7 523.7 161.3 527.3 166.7 531.3 170.7 535.0 172.7 537.0 173.0 539.0 172.3 541.0 169.0 541.0 164.0 539.0 157.0 536.7 152.0 527.3 139.0 517.7 130.3 516.3 129.7Z" fill="#ec0404" fill-rule="evenodd"/>
<path d="M519.7 136.7 518.7 138.0 519.0 147.7 520.3 152.7 523.3 159.3 526.7 164.7 530.3 168.7 534.0 171.0 536.7 171.3 538.3 170.7 540.0 167.7 540.0 164.3 538.0 157.0 535.7 152.0 528.7 142.3 524.7 138.3 523.0 137.3Z" fill="#d60000" fill-rule="evenodd"/>
<path d="M522.7 140.0 521.0 141.3 520.3 143.3 520.3 149.0 522.7 156.3 525.7 162.0 529.7 167.0 533.7 169.7 537.0 169.7 538.7 167.7 539.0 164.3 536.7 156.0 533.7 150.3 529.3 144.7 525.7 141.0Z" fill="#bf0000" fill-rule="evenodd"/>
<path d="M523.7 142.7 522.7 143.3 521.7 145.3 521.3 148.3 522.0 152.3 524.0 157.7 527.3 163.3 529.7 166.0 533.3 168.3 535.7 168.7 537.3 167.7 538.0 166.0 537.7 161.7 535.7 155.7 531.0 148.0 526.7 143.7 525.0 142.7Z" fill="#a80000" fill-rule="evenodd"/>
<path d="M523.7 145.3 522.7 147.3 522.7 151.3 524.0 156.0 526.3 160.7 529.3 164.7 531.3 166.3 533.7 167.3 536.0 167.0 537.0 165.3 537.0 162.7 535.7 157.7 534.0 154.0 530.7 149.0 527.3 145.7 526.0 145.0Z" fill="#880013" fill-rule="evenodd"/>
<path d="M524.7 147.0 523.7 149.0 523.7 152.0 525.0 156.7 526.7 160.0 531.0 165.0 532.7 166.0 535.0 166.0 536.0 164.7 536.0 161.7 533.3 154.3 530.7 150.3 528.0 147.7 526.0 146.7Z" fill="#6e002b" fill-rule="evenodd"/>
<path d="M525.7 148.7 524.7 150.7 524.7 152.7 526.7 158.7 528.3 161.3 531.0 164.0 533.3 165.0 535.0 164.0 535.0 160.7 532.3 154.0 528.3 149.3Z" fill="#5c0049" fill-rule="evenodd"/>
<path d="M526.3 150.7 526.0 154.7 527.7 159.0 530.7 162.7 532.0 163.3 533.7 163.3 534.0 160.0 532.0 155.0 528.7 151.0Z" fill="#4f006a" fill-rule="evenodd"/>
</g>
<path d="M418.9 116.8 L419 115.1 L419.4 113.4 L419.9 111.8 L420.5 110.2 L421.2 108.8 L422 107.6 L422.8 106.6 L423.7 105.7 L424.7 105 L425.8 104.4 L426.9 103.9 L428.1 103.5 L429.3 103.2 L430.7 102.9 L432.1 102.8 L433.5 102.7 L434.9 102.8 L436.3 103.1 L437.7 103.5 L439 104.1 L440.4 104.8 L441.8 105.6 L443.1 106.6 L444.5 107.6 L445.9 108.7 L447.2 109.9 L448.6 111.2 L450 112.6 L451.3 114.2 L452.7 115.8 L454.1 117.6 L455.5 119.5 L456.9 121.5 L458.2 123.6 L459.6 125.8 L460.8 128 L462 130.3 L463.2 132.7 L464.3 135.2 L465.3 137.7 L466.3 140.1 L467 142.4 L467.6 144.6 L468 146.8 L468.3 148.9 L468.5 150.9 L468.6 152.8 L468.6 154.6 L468.4 156.3 L468.1 157.9 L467.7 159.4 L467.2 160.7 L466.6 161.9 L466 162.8 L465.3 163.4 L464.5 163.8 L463.6 164 L462.6 164 L461.7 164 L460.8 163.8 L459.9 163.6 L459.1 163.3 L458.2 162.8 L457.4 162.3 L456.5 161.6 L455.7 160.7 L454.9 159.7 L454 158.4 L453.2 157.1 L452.4 155.6 L451.5 154.1 L450.6 152.6 L449.7 151 L448.7 149.1 L447.7 147.2 L446.7 145.4 L445.6 143.8 L444.5 142.4 L443.3 141.4 L441.9 140.5 L440.5 139.9 L439.1 139.4 L437.7 138.9 L436.3 138.3 L434.9 137.8 L433.5 137.3 L432.1 136.9 L430.7 136.5 L429.3 135.9 L428.1 135.2 L426.9 134.3 L425.8 133.3 L424.7 132.1 L423.7 130.8 L422.8 129.5 L422 128 L421.2 126.3 L420.5 124.5 L419.9 122.5 L419.4 120.5 L419 118.6 Z" fill="none" stroke="#2b8cc8" stroke-width="1.3"/>
<path d="M473.1 93.3 L473.5 92.4 L474.1 91.9 L474.8 91.5 L475.5 91.4 L476.4 91.3 L477.2 91.3 L478.1 91.3 L479.1 91.4 L480.2 91.7 L481.3 92 L482.3 92.6 L483.3 93.3 L484.2 94.2 L485.1 95.4 L485.9 96.7 L486.7 98.2 L487.6 99.8 L488.4 101.5 L489.3 103.7 L490.2 106.4 L491.2 109.3 L492 112 L492.8 113.9 L493.5 114.8 L494 114.5 L494.4 113.2 L494.8 111.2 L495 108.9 L495.2 106.4 L495.3 104 L495.3 101.5 L495.1 98.7 L494.9 95.7 L494.6 92.7 L494.4 90.1 L494.3 88 L494.3 86.4 L494.2 85.1 L494.3 84.1 L494.3 83.4 L494.4 82.9 L494.6 82.6 L494.8 82.5 L495 82.6 L495.3 83 L495.6 83.6 L496 84.3 L496.4 85.1 L496.9 86.2 L497.6 87.7 L498.3 89.2 L499 90.8 L499.7 92.2 L500.4 93.3 L501.1 94 L501.7 94.3 L502.3 94.5 L503 94.6 L503.7 94.8 L504.5 95 L505.4 95.3 L506.4 95.7 L507.5 96.1 L508.6 96.4 L509.6 96.9 L510.7 97.4 L511.7 98 L512.8 98.6 L513.9 99.2 L514.9 99.9 L515.9 100.7 L516.8 101.5 L517.6 102.4 L518.2 103.2 L518.8 104.2 L519.5 105.2 L520.1 106.3 L520.9 107.6 L521.8 109.1 L522.8 110.7 L523.8 112.4 L524.9 114.2 L526 116.1 L527 117.8 L528 119.5 L529 121.1 L530 122.8 L531.1 124.4 L532.1 126.2 L533.1 128 L534.1 129.9 L535.2 131.9 L536.2 133.9 L537.2 136 L538.3 138.1 L539.3 140.3 L540.4 142.7 L541.5 145.3 L542.6 148 L543.7 150.5 L544.6 152.8 L545.4 154.6 L545.9 155.9 L546.3 156.9 L546.5 157.6 L546.7 158.1 L547 158.5 L547.4 158.7 L547.9 158.7 L548.5 158.5 L549.2 158.1 L549.9 157.7 L550.7 157.4 L551.5 157.3 L552.4 157.4 L553.4 157.7 L554.5 158.1 L555.6 158.6 L556.6 159.1 L557.7 159.7 L558.7 160.4 L559.8 161.1 L560.9 161.9 L561.9 162.8 L562.9 163.7 L563.8 164.8 L564.6 166 L565.4 167.3 L566.1 168.7 L566.8 170.1 L567.4 171.6 L567.9 173 L568.3 174.4 L568.6 175.8 L568.9 177.1 L569.1 178.6 L569.5 180.1 L569.9 181.7 L570.5 183.5 L571.3 185.4 L572.1 187.4 L573 189.4 L573.7 191.4 L574.3 193.4 L574.8 195.4 L575.2 197.4 L575.5 199.4 L575.7 201.4 L575.8 203.3 L575.8 205 L575.6 206.7 L575.3 208.5 L574.8 210.1 L574.3 211.6 L573.6 212.6 L572.8 213.2 L571.8 213.2 L570.7 212.7 L569.5 211.8 L568.2 210.7 L566.8 209.4 L565.5 208 L564.1 206.3 L562.5 204.3 L561 202 L559.4 199.8 L558 197.9 L556.8 196.3 L555.8 195.1 L554.9 194.2 L554.1 193.4 L553.4 192.9 L552.8 192.7 L552.4 192.8 L552.1 193.2 L552 193.9 L551.9 194.9 L552 196.1 L552.2 197.5 L552.4 199.2 L552.8 201.2 L553.3 203.7 L553.9 206.3 L554.5 209 L555 211.6 L555.3 213.8 L555.4 215.8 L555.3 217.8 L555.1 219.7 L554.9 221.2 L554.4 222.4 L553.9 223.1 L553.2 223.2 L552.4 222.8 L551.4 222.1 L550.3 221 L549.2 219.7 L548 218.2 L546.7 216.5 L545.4 214.6 L544 212.4 L542.5 210 L541 207.5 L539.3 205 L537.5 202.3 L535.4 199.4 L533.3 196.3 L531.2 193.3 L529.3 190.3 L527.6 187.5 L526.2 184.8 L524.9 182.2 L523.8 179.7 L522.8 177.3 L521.9 175 L520.9 173 L520 171.2 L519.1 169.7 L518.2 168.3 L517.4 167.1 L516.6 165.9 L515.8 164.8 L515 163.7 L514.1 162.7 L513.3 161.7 L512.5 160.9 L511.6 160.2 L510.7 159.7 L509.7 159.5 L508.7 159.5 L507.7 159.7 L506.6 159.9 L505.5 159.9 L504.5 159.7 L503.5 159.2 L502.5 158.5 L501.4 157.7 L500.4 156.7 L499.4 155.7 L498.4 154.6 L497.4 153.5 L496.4 152.2 L495.4 150.9 L494.3 149.5 L493.3 148 L492.3 146.4 L491.3 144.5 L490.2 142.4 L489.2 140.2 L488.2 138 L487.1 136 L486.1 134.2 L485.1 132.7 L484 131.5 L483 130.4 L481.9 129.4 L480.9 128.3 L480 127 L479.1 125.6 L478.2 124.3 L477.3 122.8 L476.5 121.3 L475.8 119.7 L475.1 117.8 L474.5 115.7 L474 113.3 L473.6 110.7 L473.2 108.2 L472.9 105.7 L472.7 103.5 L472.6 101.5 L472.5 99.5 L472.5 97.6 L472.6 95.9 L472.8 94.5 Z" fill="none" stroke="#2b8cc8" stroke-width="1.3"/>
<path d="M576.6 247.4 L576.7 248 L576.8 248.5 L576.9 249.1 L577 249.7 L577.1 250.3 L577.2 250.8 L577.3 251.4 L577.4 252 L577.5 252.5 L577.6 253.1 L577.6 253.7 L577.7 254.2 L577.7 254.8 L577.8 255.3 L577.8 255.9 L577.8 256.4 L577.8 257 L577.9 257.5 L577.9 258 L577.9 258.6 L577.8 259.1 L577.8 259.6 L577.8 260.1 L577.8 260.6 L577.7 261.1 L577.7 261.5 L577.6 262 L577.6 262.5 L577.5 262.9 L577.5 263.4 L577.4 263.8 L577.3 264.2 L577.2 264.7 L577.1 265.1 L577 265.5 L576.9 265.8 L576.8 266.2 L576.6 266.6 L576.5 266.9 L576.4 267.3 L576.2 267.6 L576.1 267.9 L575.9 268.2 L575.8 268.5 L575.6 268.8 L575.4 269 L575.3 269.3 L575.1 269.5 L574.9 269.7 L574.7 269.9 L574.5 270.1 L574.3 270.3 L574.1 270.5 L573.9 270.6 L573.7 270.8 L573.4 270.9 L573.2 271 L573 271.1 L572.8 271.2 L572.5 271.2 L572.3 271.3 L572 271.3 L571.8 271.3 L571.5 271.3 L571.3 271.3 L571 271.3 L570.8 271.2 L570.5 271.2 L570.3 271.1 L570 271 L569.7 270.9 L569.5 270.8 L569.2 270.7 L568.9 270.5 L568.7 270.4 L568.4 270.2 L568.1 270 L567.9 269.8 L567.6 269.6 L567.3 269.4 L567 269.1 L566.8 268.9 L566.5 268.6 L566.2 268.3 L566 268 L565.7 267.7 L565.4 267.4 L565.2 267 L564.9 266.7 L564.6 266.3 L564.4 266 L564.1 265.6 L563.9 265.2 L563.6 264.8 L563.4 264.4 L563.1 264 L562.9 263.5 L562.6 263.1 L562.4 262.6 L562.2 262.2 L561.9 261.7 L561.7 261.2 L561.5 260.7 L561.3 260.2 L561 259.7 L560.8 259.2 L560.6 258.7 L560.4 258.2 L560.2 257.7 L560 257.1 L559.9 256.6 L559.7 256.1 L559.5 255.5 L559.3 255 L559.2 254.4 L559 253.9 L558.9 253.3 L558.7 252.7 L558.6 252.2 L558.4 251.6 L558.3 251 L558.2 250.5 L558.1 249.9 L558 249.3 L557.9 248.7 L557.8 248.2 L557.7 247.6 L557.6 247 L557.5 246.5 L557.4 245.9 L557.4 245.3 L557.3 244.8 L557.3 244.2 L557.2 243.7 L557.2 243.1 L557.2 242.6 L557.2 242 L557.1 241.5 L557.1 241 L557.1 240.4 L557.2 239.9 L557.2 239.4 L557.2 238.9 L557.2 238.4 L557.3 237.9 L557.3 237.5 L557.4 237 L557.4 236.5 L557.5 236.1 L557.5 235.6 L557.6 235.2 L557.7 234.8 L557.8 234.3 L557.9 233.9 L558 233.5 L558.1 233.2 L558.2 232.8 L558.4 232.4 L558.5 232.1 L558.6 231.7 L558.8 231.4 L558.9 231.1 L559.1 230.8 L559.2 230.5 L559.4 230.2 L559.6 230 L559.7 229.7 L559.9 229.5 L560.1 229.3 L560.3 229.1 L560.5 228.9 L560.7 228.7 L560.9 228.5 L561.1 228.4 L561.3 228.2 L561.6 228.1 L561.8 228 L562 227.9 L562.2 227.8 L562.5 227.8 L562.7 227.7 L563 227.7 L563.2 227.7 L563.5 227.7 L563.7 227.7 L564 227.7 L564.2 227.8 L564.5 227.8 L564.7 227.9 L565 228 L565.3 228.1 L565.5 228.2 L565.8 228.3 L566.1 228.5 L566.3 228.6 L566.6 228.8 L566.9 229 L567.1 229.2 L567.4 229.4 L567.7 229.6 L568 229.9 L568.2 230.1 L568.5 230.4 L568.8 230.7 L569 231 L569.3 231.3 L569.6 231.6 L569.8 232 L570.1 232.3 L570.4 232.7 L570.6 233 L570.9 233.4 L571.1 233.8 L571.4 234.2 L571.6 234.6 L571.9 235 L572.1 235.5 L572.4 235.9 L572.6 236.4 L572.8 236.8 L573.1 237.3 L573.3 237.8 L573.5 238.3 L573.7 238.8 L574 239.3 L574.2 239.8 L574.4 240.3 L574.6 240.8 L574.8 241.3 L575 241.9 L575.1 242.4 L575.3 242.9 L575.5 243.5 L575.7 244 L575.8 244.6 L576 245.1 L576.1 245.7 L576.3 246.3 L576.4 246.8 Z" fill="none" stroke="#2b8cc8" stroke-width="1.3"/>
</g>
<path d="M375 79 V272.4 H635.6 V79" fill="none" stroke="#333" stroke-width="1"/>
<line x1="375" y1="272.4" x2="375" y2="275.3" stroke="#333" stroke-width="1"/>
<text x="373.7" y="287.6" font-size="10.7" text-anchor="middle" fill="#000">−10</text>
<line x1="418.4" y1="272.4" x2="418.4" y2="275.3" stroke="#333" stroke-width="1"/>
<text x="418.4" y="287.6" font-size="10.7" text-anchor="middle" fill="#000">0</text>
<line x1="461.9" y1="272.4" x2="461.9" y2="275.3" stroke="#333" stroke-width="1"/>
<text x="461.9" y="287.6" font-size="10.7" text-anchor="middle" fill="#000">10</text>
<line x1="505.3" y1="272.4" x2="505.3" y2="275.3" stroke="#333" stroke-width="1"/>
<text x="505.3" y="287.6" font-size="10.7" text-anchor="middle" fill="#000">20</text>
<line x1="548.7" y1="272.4" x2="548.7" y2="275.3" stroke="#333" stroke-width="1"/>
<text x="548.7" y="287.6" font-size="10.7" text-anchor="middle" fill="#000">30</text>
<line x1="592.2" y1="272.4" x2="592.2" y2="275.3" stroke="#333" stroke-width="1"/>
<text x="592.2" y="287.6" font-size="10.7" text-anchor="middle" fill="#000">40</text>
<line x1="635.6" y1="272.4" x2="635.6" y2="275.3" stroke="#333" stroke-width="1"/>
<text x="635.6" y="287.6" font-size="10.7" text-anchor="middle" fill="#000">50</text>
<line x1="372" y1="92.2" x2="375" y2="92.2" stroke="#333" stroke-width="1"/>
<text x="366.7" y="96.1" font-size="10.9" text-anchor="end" fill="#000">560</text>
<line x1="372" y1="117.9" x2="375" y2="117.9" stroke="#333" stroke-width="1"/>
<text x="366.7" y="121.8" font-size="10.9" text-anchor="end" fill="#000">580</text>
<line x1="372" y1="143.7" x2="375" y2="143.7" stroke="#333" stroke-width="1"/>
<text x="366.7" y="147.6" font-size="10.9" text-anchor="end" fill="#000">600</text>
<line x1="372" y1="169.4" x2="375" y2="169.4" stroke="#333" stroke-width="1"/>
<text x="366.7" y="173.3" font-size="10.9" text-anchor="end" fill="#000">620</text>
<line x1="372" y1="195.2" x2="375" y2="195.2" stroke="#333" stroke-width="1"/>
<text x="366.7" y="199.1" font-size="10.9" text-anchor="end" fill="#000">640</text>
<line x1="372" y1="220.9" x2="375" y2="220.9" stroke="#333" stroke-width="1"/>
<text x="366.7" y="224.8" font-size="10.9" text-anchor="end" fill="#000">660</text>
<line x1="372" y1="246.7" x2="375" y2="246.7" stroke="#333" stroke-width="1"/>
<text x="366.7" y="250.6" font-size="10.9" text-anchor="end" fill="#000">680</text>
<line x1="372" y1="272.4" x2="375" y2="272.4" stroke="#333" stroke-width="1"/>
<text x="366.7" y="276.3" font-size="10.9" text-anchor="end" fill="#000">700</text>
<text x="502.9" y="302" font-size="12.8" text-anchor="middle" fill="#000">Time (s)</text>
<text x="341.5" y="180.4" font-size="12.6" text-anchor="middle" fill="#000" transform="rotate(-90 341.5 180.4)">Depth (km)</text>
<text x="321" y="92.3" font-size="17.5" text-anchor="start" fill="#000">(d)</text>
<rect x="643" y="83.3" width="9.3" height="189" fill="url(#acb)" stroke="#333" stroke-width="0.6"/>
<line x1="652.3" y1="272.3" x2="654.5" y2="272.3" stroke="#333" stroke-width="0.8"/>
<text x="655.3" y="276" font-size="10.2" text-anchor="start" fill="#000">0.0</text>
<line x1="652.3" y1="234.6" x2="654.5" y2="234.6" stroke="#333" stroke-width="0.8"/>
<text x="655.3" y="238.3" font-size="10.2" text-anchor="start" fill="#000">0.2</text>
<line x1="652.3" y1="196.9" x2="654.5" y2="196.9" stroke="#333" stroke-width="0.8"/>
<text x="655.3" y="200.6" font-size="10.2" text-anchor="start" fill="#000">0.4</text>
<line x1="652.3" y1="159.2" x2="654.5" y2="159.2" stroke="#333" stroke-width="0.8"/>
<text x="655.3" y="162.9" font-size="10.2" text-anchor="start" fill="#000">0.6</text>
<line x1="652.3" y1="121.5" x2="654.5" y2="121.5" stroke="#333" stroke-width="0.8"/>
<text x="655.3" y="125.2" font-size="10.2" text-anchor="start" fill="#000">0.8</text>
<line x1="652.3" y1="83.8" x2="654.5" y2="83.8" stroke="#333" stroke-width="0.8"/>
<text x="655.3" y="87.5" font-size="10.2" text-anchor="start" fill="#000">1.0</text>
<text x="683.6" y="176.3" font-size="10" text-anchor="middle" fill="#000" transform="rotate(-90 683.6 176.3)">Normalized Amplitude</text>
<path d="M53.3 444.2 L57.2 442.6 L64.8 440.2 L74.1 437.6 L82.8 435 L91 432.4 L99.7 429.7 L108.2 427.2 L115.7 425.2 L121.9 423.9 L127.3 423 L132.3 422.4 L137.6 421.9 L143.3 421.4 L149 421.2 L154.7 421 L160 420.8 L165.4 420.3 L170.7 419.7 L175.3 419.5 L178.6 420.6 L180.3 423.7 L180.9 428.2 L180.3 432.8 L178.6 436.1 L175.1 437.6 L170 438.1 L164.6 438.2 L160 438.5 L157.1 439 L155.1 439.5 L152.7 440 L148.5 440.5 L142.1 441.1 L134.1 441.7 L125.2 442.2 L115.7 442.7 L104.9 443.1 L92.9 443.4 L81.3 443.7 L71.9 443.9 L64.4 444.3 L58 444.7 L54 444.8 Z" fill="#ece2e2" stroke="none" stroke-width="1"/>
<path d="M178.5 412 L179.5 410.4 L180.9 410.1 L182.7 410 L184.9 409.4 L187.5 407.9 L190.6 406.2 L193.9 404.1 L197.3 402 L200.9 399.7 L204.8 397.3 L208.7 394.7 L212.2 392 L215.5 389.1 L218.7 385.9 L221.4 382.8 L223.4 379.6 L224.5 376.5 L224.9 373.4 L224.9 370.3 L224.6 367.2 L224 364.1 L222.9 361 L221.8 357.9 L220.9 354.8 L220.3 351.7 L219.9 348.5 L219.7 345.5 L219.7 343 L219.9 341 L220.3 339.4 L221 338.1 L222 337 L223.4 336.1 L225.2 335.5 L227.2 335 L229.6 334.5 L232.5 333.8 L235.8 333.1 L239.1 332.6 L242 332.5 L244.2 332.7 L246 333.1 L247.7 334.1 L249.4 336.2 L251.2 339.9 L252.8 344.8 L254.7 350.1 L256.9 354.8 L259.5 358.9 L262.5 362.9 L265.7 366.5 L269.3 369.7 L273.2 372.4 L277.5 374.7 L282 376.7 L286.6 378.4 L291.5 379.8 L296.8 380.8 L301.9 381.5 L306.5 382.1 L310.5 382.5 L314.1 382.6 L317.3 382.5 L320 382.5 L322.3 382.2 L324.2 381.6 L325.6 381.3 L326.3 382.1 L326.2 384.2 L325.3 387.2 L324.2 390.7 L323.2 394.5 L322.4 398.5 L321.5 402.9 L320.7 407.4 L320.3 411.9 L320.2 416.2 L320.4 420.4 L320.8 424.7 L321.4 429.2 L322.9 434.5 L325.2 440.3 L326.7 445.6 L326.3 449 L323.3 450 L318.4 449.4 L312.6 447.9 L306.5 446.6 L300.1 445.5 L293 444.2 L285.8 442.8 L279.2 441.5 L273.2 440.3 L267.6 439.1 L262.2 437.9 L256.9 436.7 L251.7 435.4 L246.6 434.1 L241.7 432.9 L237 431.7 L232.6 430.6 L228.3 429.5 L224.1 428.6 L219.7 428 L214.7 427.7 L209.4 427.7 L204.3 427.8 L199.8 428 L196.1 428.2 L192.9 428.6 L190.1 428.9 L187.4 429.2 L184.8 429.8 L182.3 430.5 L180.2 430.7 L178.7 429.5 L177.9 426 L177.7 420.9 L177.9 415.7 Z" fill="#efe4e4" stroke="none" stroke-width="1"/>
<path d="M220.2 344 L220.6 344 L221.5 345.2 L222.5 347.1 L223.5 349 L224.6 350.9 L225.8 353.2 L227 355.6 L228 358 L228.8 360.5 L229.6 363 L230.2 365.5 L230.5 368 L230.6 370.3 L230.4 372.6 L230 374.8 L229.5 377 L228.8 379.3 L227.9 381.7 L226.9 384 L226 386 L225 388.1 L223.9 390.2 L223 391.8 L222.5 392 L222.7 390.5 L223.3 387.7 L224 384.3 L224.5 381 L224.8 377.7 L224.9 374.2 L225 370.6 L224.8 367.2 L224.3 364 L223.5 360.9 L222.7 357.9 L222 355 L221.4 351.8 L220.7 348.4 L220.3 345.6 Z" fill="#dcc3c3" stroke="none" stroke-width="1"/>
<ellipse cx="244" cy="409" rx="13" ry="8" fill="url(#hl)"/>
<path d="M52.5 351.3 L178.4 318.4 L328.2 346 V509.4" fill="none" stroke="#222" stroke-width="1"/>
<path d="M52.5 351.3 V515.4 L178.4 483 L328.2 509.4" fill="none" stroke="#222" stroke-width="1"/>
<path d="M178.4 318.4 V483" fill="none" stroke="#222" stroke-width="1"/>
<path d="M52.5 515.4 L202 544.3 L328.2 509.4 L332.5 510.6" fill="none" stroke="#222" stroke-width="1"/>
<path d="M135.7 439.0 134.5 439.3 133.4 440.7 132.0 443.8 131.4 446.8 131.4 453.7 131.9 455.2 133.0 456.3 134.2 456.0 135.4 454.7 136.7 451.5 137.4 448.5 137.4 441.7 136.9 440.2Z" fill="#38a8cc"/><path d="M135.7 439.0 134.5 439.3 133.4 440.7 132.0 443.8 131.4 446.8 131.4 453.7 131.9 455.2 133.0 456.3 134.2 456.0 135.4 454.7 136.7 451.5 137.4 448.5 137.4 441.7 136.9 440.2Z" fill="url(#sh0)"/>
<path d="M148.7 435.8 146.7 437.8 146.3 441.0 147.0 442.8 148.2 444.0 149.7 444.1 151.7 442.1 152.0 439.0 151.3 437.1 150.2 436.0Z" fill="#2080b8"/><path d="M148.7 435.8 146.7 437.8 146.3 441.0 147.0 442.8 148.2 444.0 149.7 444.1 151.7 442.1 152.0 439.0 151.3 437.1 150.2 436.0Z" fill="url(#sh1)"/>
<path d="M152.4 422.0 150.4 422.2 148.5 423.2 146.9 425.2 145.7 428.5 145.7 431.8 146.7 434.5 148.4 436.3 150.0 437.0 152.5 436.7 154.5 435.2 155.9 435.0 157.0 433.7 157.4 432.5 157.4 430.5 156.7 428.8 156.2 425.5 154.0 422.7Z" fill="#48b020"/><path d="M152.4 422.0 150.4 422.2 148.5 423.2 146.9 425.2 145.7 428.5 145.7 431.8 146.7 434.5 148.4 436.3 150.0 437.0 152.5 436.7 154.5 435.2 155.9 435.0 157.0 433.7 157.4 432.5 157.4 430.5 156.7 428.8 156.2 425.5 154.0 422.7Z" fill="url(#sh1)"/>
<path d="M145.1 404.6 143.2 406.6 142.1 409.9 141.2 415.6 141.2 421.9 142.1 427.6 143.1 430.6 144.7 432.8 146.1 432.9 147.9 430.9 149.1 427.6 149.9 421.9 149.9 415.6 149.1 409.9 148.1 406.9 146.4 404.8Z" fill="url(#orE)"/><path d="M145.1 404.6 143.2 406.6 142.1 409.9 141.2 415.6 141.2 421.9 142.1 427.6 143.1 430.6 144.7 432.8 146.1 432.9 147.9 430.9 149.1 427.6 149.9 421.9 149.9 415.6 149.1 409.9 148.1 406.9 146.4 404.8Z" fill="url(#sh1)"/>
<path d="M157.4 392.2 156.1 392.2 154.7 392.9 152.4 395.7 150.4 400.9 149.2 408.0 149.2 414.7 150.4 421.4 152.6 426.0 153.7 427.2 155.1 427.9 156.4 427.9 157.7 427.2 160.1 424.4 162.1 419.2 163.2 412.0 163.2 405.4 162.1 398.7 159.9 394.0 158.7 392.9Z" fill="url(#ygE)"/><path d="M157.4 392.2 156.1 392.2 154.7 392.9 152.4 395.7 150.4 400.9 149.2 408.0 149.2 414.7 150.4 421.4 152.6 426.0 153.7 427.2 155.1 427.9 156.4 427.9 157.7 427.2 160.1 424.4 162.1 419.2 163.2 412.0 163.2 405.4 162.1 398.7 159.9 394.0 158.7 392.9Z" fill="url(#sh2)"/>
<path d="M170.2 399.1 169.1 398.9 167.9 399.4 166.1 401.4 165.1 404.3 165.2 405.6 165.9 406.4 167.1 406.6 168.2 406.1 170.1 404.1 171.1 401.3 170.9 399.9Z" fill="#c86020"/><path d="M170.2 399.1 169.1 398.9 167.9 399.4 166.1 401.4 165.1 404.3 165.2 405.6 165.9 406.4 167.1 406.6 168.2 406.1 170.1 404.1 171.1 401.3 170.9 399.9Z" fill="url(#sh3)"/>
<path d="M185.8 415.8 183.7 415.8 181.3 416.8 179.7 418.5 178.7 421.0 178.5 423.0 179.0 425.7 180.5 428.5 182.0 430.0 180.8 430.7 179.0 433.0 178.5 434.7 178.5 437.3 179.7 440.2 180.8 441.3 182.2 442.0 184.3 441.8 186.3 440.2 187.3 438.0 187.7 435.5 190.5 437.2 192.3 437.7 195.5 437.7 197.7 436.8 199.7 434.8 201.0 431.3 200.8 427.8 199.2 424.8 197.7 424.0 195.8 424.2 193.2 422.8 192.2 420.5 190.5 418.3 188.8 417.0Z" fill="url(#tlE)"/><path d="M185.8 415.8 183.7 415.8 181.3 416.8 179.7 418.5 178.7 421.0 178.5 423.0 179.0 425.7 180.5 428.5 182.0 430.0 180.8 430.7 179.0 433.0 178.5 434.7 178.5 437.3 179.7 440.2 180.8 441.3 182.2 442.0 184.3 441.8 186.3 440.2 187.3 438.0 187.7 435.5 190.5 437.2 192.3 437.7 195.5 437.7 197.7 436.8 199.7 434.8 201.0 431.3 200.8 427.8 199.2 424.8 197.7 424.0 195.8 424.2 193.2 422.8 192.2 420.5 190.5 418.3 188.8 417.0Z" fill="url(#sh4)"/>
<path d="M185.2 475.7 183.9 476.0 182.4 477.5 181.2 479.9 180.4 483.0 180.2 487.7 180.7 490.0 181.5 491.5 182.9 492.4 184.2 492.0 185.7 490.5 186.9 488.2 187.7 485.0 187.9 480.4 187.4 478.0 186.5 476.5Z" fill="#3a18d0"/><path d="M185.2 475.7 183.9 476.0 182.4 477.5 181.2 479.9 180.4 483.0 180.2 487.7 180.7 490.0 181.5 491.5 182.9 492.4 184.2 492.0 185.7 490.5 186.9 488.2 187.7 485.0 187.9 480.4 187.4 478.0 186.5 476.5Z" fill="url(#sh0)"/>
<path d="M202.7 432.3 200.0 432.2 197.5 433.3 195.5 435.3 194.0 438.2 193.3 440.7 193.5 444.8 192.2 446.7 190.5 450.5 190.0 453.0 190.0 456.3 186.7 459.3 185.2 461.7 183.8 465.7 183.8 469.5 182.2 471.3 181.3 473.3 181.2 475.5 181.7 477.3 182.8 478.8 184.3 479.7 187.0 479.7 189.0 478.7 190.5 477.2 191.7 474.7 195.0 473.0 197.3 470.7 198.8 468.3 199.8 465.8 200.3 463.0 200.2 461.3 203.2 458.3 205.2 454.5 206.0 451.0 206.0 447.8 205.3 445.2 206.7 441.3 206.7 437.8 205.2 434.2Z" fill="#1414d8"/><path d="M202.7 432.3 200.0 432.2 197.5 433.3 195.5 435.3 194.0 438.2 193.3 440.7 193.5 444.8 192.2 446.7 190.5 450.5 190.0 453.0 190.0 456.3 186.7 459.3 185.2 461.7 183.8 465.7 183.8 469.5 182.2 471.3 181.3 473.3 181.2 475.5 181.7 477.3 182.8 478.8 184.3 479.7 187.0 479.7 189.0 478.7 190.5 477.2 191.7 474.7 195.0 473.0 197.3 470.7 198.8 468.3 199.8 465.8 200.3 463.0 200.2 461.3 203.2 458.3 205.2 454.5 206.0 451.0 206.0 447.8 205.3 445.2 206.7 441.3 206.7 437.8 205.2 434.2Z" fill="url(#sh4)"/>
<path d="M234.3 426.5 233.5 426.7 232.7 427.5 231.7 427.2 229.7 427.5 227.0 429.7 225.0 433.0 223.7 437.8 220.8 439.5 218.8 441.5 216.8 444.7 215.3 449.5 215.2 454.2 211.3 456.3 209.3 458.7 208.2 461.0 207.5 463.7 207.5 467.2 208.0 469.3 209.3 472.2 208.2 474.3 207.3 477.3 207.0 484.3 207.7 488.2 208.7 490.8 209.5 492.2 211.3 493.8 213.7 493.8 216.2 491.2 217.3 488.2 218.0 484.3 218.0 479.7 217.3 476.2 221.3 474.7 224.7 471.3 225.8 469.0 226.5 466.3 226.2 461.2 229.2 458.5 231.7 454.2 232.8 449.3 232.8 445.8 232.3 443.8 235.0 439.2 236.0 435.0 236.0 429.8 235.5 427.8Z" fill="url(#rcE)"/><path d="M234.3 426.5 233.5 426.7 232.7 427.5 231.7 427.2 229.7 427.5 227.0 429.7 225.0 433.0 223.7 437.8 220.8 439.5 218.8 441.5 216.8 444.7 215.3 449.5 215.2 454.2 211.3 456.3 209.3 458.7 208.2 461.0 207.5 463.7 207.5 467.2 208.0 469.3 209.3 472.2 208.2 474.3 207.3 477.3 207.0 484.3 207.7 488.2 208.7 490.8 209.5 492.2 211.3 493.8 213.7 493.8 216.2 491.2 217.3 488.2 218.0 484.3 218.0 479.7 217.3 476.2 221.3 474.7 224.7 471.3 225.8 469.0 226.5 466.3 226.2 461.2 229.2 458.5 231.7 454.2 232.8 449.3 232.8 445.8 232.3 443.8 235.0 439.2 236.0 435.0 236.0 429.8 235.5 427.8Z" fill="url(#sh5)"/>
<path d="M232.2 335.6 L231.2 336.8 L229.9 338.5 L228.3 340.5 L226.6 342.6 L224.9 344.8 L223.3 346.8 L221.8 348.7 L220.3 350.7 L218.8 352.8 L217.3 354.7 L215.9 356.6 L214.5 358.4 L213.2 360 L212.1 361.5 L211 362.9 L209.8 364.2 L208.7 365.7 L207.4 367.2 L206 368.9 L204.6 370.6 L203.1 372.3 L201.5 374.1 L200 376 L198.5 377.9 L197 379.9 L195.5 382 L193.9 384.1 L192.4 386.2 L191 388.3 L189.6 390.3 L188.3 392.2 L187.1 394 L185.9 395.8 L184.7 397.6 L183.7 399.3 L182.6 400.9 L181.6 402.5 L180.7 403.9 L179.8 405.3 L178.9 406.7 L178.1 408.2 L177.2 409.8 L176.3 411.4 L175.5 413.1 L174.7 414.8 L173.8 416.6 L172.9 418.6 L171.7 420.7 L170.3 423.1 L168.7 425.7 L167 428.5 L165.2 431.3 L163.6 434.1 L162.1 436.7 L160.8 439.2 L159.6 441.6 L158.4 443.9 L157.3 446.2 L156.4 448.4 L155.5 450.5 L154.7 452.6 L154.1 454.6 L153.5 456.6 L153 458.4 L152.6 459.9 L152.3 461" fill="none" stroke="#707070" stroke-width="0.9"/>
<path d="M233.6 336.5 L232.6 337.7 L231.3 339.4 L229.7 341.4 L228 343.5 L226.3 345.7 L224.7 347.7 L223.2 349.6 L221.7 351.6 L220.2 353.6 L218.7 355.6 L217.3 357.5 L215.9 359.3 L214.6 360.9 L213.5 362.4 L212.4 363.8 L211.2 365.1 L210.1 366.6 L208.8 368.1 L207.4 369.8 L206 371.5 L204.5 373.2 L202.9 375 L201.4 376.9 L199.9 378.8 L198.4 380.8 L196.9 382.9 L195.3 385 L193.8 387.1 L192.4 389.2 L191 391.2 L189.7 393.1 L188.5 394.9 L187.3 396.7 L186.1 398.5 L185.1 400.2 L184 401.8 L183 403.4 L182.1 404.8 L181.2 406.2 L180.3 407.6 L179.5 409.1 L178.6 410.7 L177.7 412.3 L176.9 414 L176.1 415.7 L175.2 417.5 L174.3 419.5 L173.1 421.6 L171.7 424 L170.1 426.6 L168.4 429.4 L166.6 432.2 L165 435 L163.5 437.6 L162.2 440.1 L161 442.5 L159.8 444.8 L158.7 447.1 L157.8 449.3 L156.9 451.4 L156.1 453.5 L155.5 455.5 L154.9 457.5 L154.4 459.3 L154 460.8 L153.7 461.9" fill="none" stroke="#707070" stroke-width="0.9"/>
<path d="M225.7 335.8 C223.2 355.0 225.7 369.8 237.2 374.7" fill="none" stroke="#707070" stroke-width="0.95"/>
<path d="M218.4 345.3 C215.9 364.4 218.4 379.0 229.9 383.9" fill="none" stroke="#707070" stroke-width="0.95"/>
<path d="M211.1 354.9 C208.6 373.8 211.1 388.4 222.6 393.2" fill="none" stroke="#707070" stroke-width="0.95"/>
<path d="M203.4 364.1 C200.9 383.0 203.4 397.4 214.9 402.2" fill="none" stroke="#707070" stroke-width="0.95"/>
<path d="M195.8 373.4 C193.3 392.2 195.8 406.5 207.3 411.3" fill="none" stroke="#707070" stroke-width="0.95"/>
<path d="M188.9 383.2 C186.4 401.8 188.9 416.1 200.4 420.8" fill="none" stroke="#707070" stroke-width="0.95"/>
<path d="M182.2 393.2 C179.7 411.7 182.2 425.9 193.7 430.6" fill="none" stroke="#707070" stroke-width="0.95"/>
<path d="M175.9 403.4 C173.4 421.8 175.9 435.9 187.4 440.5" fill="none" stroke="#707070" stroke-width="0.95"/>
<path d="M170.5 414.1 C168.0 432.5 170.5 446.4 182.0 451.0" fill="none" stroke="#707070" stroke-width="0.95"/>
<path d="M164.3 424.4 C161.8 442.6 164.3 456.4 175.8 461.0" fill="none" stroke="#707070" stroke-width="0.95"/>
<path d="M158.4 434.8 C155.9 453.0 158.4 466.7 169.9 471.3" fill="none" stroke="#707070" stroke-width="0.95"/>
<path d="M153.5 445.8 C151.0 463.8 153.5 477.4 165.0 482.0" fill="none" stroke="#707070" stroke-width="0.95"/>
<circle cx="157.8" cy="359.2" r="2.1" fill="none" stroke="#f01818" stroke-width="0.85"/>
<circle cx="237.4" cy="377.4" r="2.1" fill="none" stroke="#f01818" stroke-width="0.85"/>
<circle cx="211.8" cy="383.3" r="2.1" fill="none" stroke="#f01818" stroke-width="0.85"/>
<circle cx="175.2" cy="402.3" r="2.1" fill="none" stroke="#f01818" stroke-width="0.85"/>
<circle cx="189.4" cy="401.9" r="2.1" fill="none" stroke="#f01818" stroke-width="0.85"/>
<circle cx="189.5" cy="405.2" r="2.1" fill="none" stroke="#f01818" stroke-width="0.85"/>
<circle cx="164.8" cy="404.4" r="2.1" fill="none" stroke="#f01818" stroke-width="0.85"/>
<circle cx="151.6" cy="416.4" r="2.1" fill="none" stroke="#f01818" stroke-width="0.85"/>
<circle cx="185.7" cy="411.4" r="2.1" fill="none" stroke="#f01818" stroke-width="0.85"/>
<circle cx="218.9" cy="411.5" r="2.1" fill="none" stroke="#f01818" stroke-width="0.85"/>
<circle cx="280.7" cy="411.4" r="2.1" fill="none" stroke="#f01818" stroke-width="0.85"/>
<circle cx="197.4" cy="419.1" r="2.1" fill="none" stroke="#f01818" stroke-width="0.85"/>
<circle cx="201.7" cy="426.5" r="2.1" fill="none" stroke="#f01818" stroke-width="0.85"/>
<circle cx="204.2" cy="430.1" r="2.1" fill="none" stroke="#f01818" stroke-width="0.85"/>
<circle cx="203" cy="433.6" r="2.1" fill="none" stroke="#f01818" stroke-width="0.85"/>
<circle cx="213.4" cy="433.2" r="2.1" fill="none" stroke="#f01818" stroke-width="0.85"/>
<circle cx="194.4" cy="434.3" r="2.1" fill="none" stroke="#f01818" stroke-width="0.85"/>
<circle cx="171.3" cy="431.7" r="2.1" fill="none" stroke="#f01818" stroke-width="0.85"/>
<circle cx="165.3" cy="442.3" r="2.1" fill="none" stroke="#f01818" stroke-width="0.85"/>
<circle cx="177.8" cy="442.8" r="2.1" fill="none" stroke="#f01818" stroke-width="0.85"/>
<circle cx="201.5" cy="442.1" r="2.1" fill="none" stroke="#f01818" stroke-width="0.85"/>
<circle cx="188.6" cy="447.1" r="2.1" fill="none" stroke="#f01818" stroke-width="0.85"/>
<circle cx="237.6" cy="432.4" r="2.1" fill="none" stroke="#f01818" stroke-width="0.85"/>
<circle cx="251.5" cy="429.2" r="2.1" fill="none" stroke="#f01818" stroke-width="0.85"/>
<circle cx="230.5" cy="441.2" r="2.1" fill="none" stroke="#f01818" stroke-width="0.85"/>
<circle cx="234.5" cy="442.2" r="2.1" fill="none" stroke="#f01818" stroke-width="0.85"/>
<circle cx="247.3" cy="446.6" r="2.1" fill="none" stroke="#f01818" stroke-width="0.85"/>
<circle cx="267.7" cy="453.1" r="2.1" fill="none" stroke="#f01818" stroke-width="0.85"/>
<circle cx="257.7" cy="460.5" r="2.1" fill="none" stroke="#f01818" stroke-width="0.85"/>
<circle cx="260.6" cy="458.9" r="2.1" fill="none" stroke="#f01818" stroke-width="0.85"/>
<circle cx="272.5" cy="460.5" r="2.1" fill="none" stroke="#f01818" stroke-width="0.85"/>
<circle cx="275.6" cy="458.4" r="2.1" fill="none" stroke="#f01818" stroke-width="0.85"/>
<circle cx="288.7" cy="463.4" r="2.1" fill="none" stroke="#f01818" stroke-width="0.85"/>
<circle cx="285.6" cy="468.6" r="2.1" fill="none" stroke="#f01818" stroke-width="0.85"/>
<circle cx="232.2" cy="460.7" r="2.1" fill="none" stroke="#f01818" stroke-width="0.85"/>
<circle cx="231.4" cy="470" r="2.1" fill="none" stroke="#f01818" stroke-width="0.85"/>
<circle cx="199.6" cy="470.8" r="2.1" fill="none" stroke="#f01818" stroke-width="0.85"/>
<circle cx="199.5" cy="474.8" r="2.1" fill="none" stroke="#f01818" stroke-width="0.85"/>
<circle cx="233.6" cy="475.6" r="2.1" fill="none" stroke="#f01818" stroke-width="0.85"/>
<circle cx="236.9" cy="475.3" r="2.1" fill="none" stroke="#f01818" stroke-width="0.85"/>
<circle cx="254.3" cy="480.4" r="2.1" fill="none" stroke="#f01818" stroke-width="0.85"/>
<circle cx="258.5" cy="484.1" r="2.1" fill="none" stroke="#f01818" stroke-width="0.85"/>
<circle cx="297.2" cy="473.9" r="2.1" fill="none" stroke="#f01818" stroke-width="0.85"/>
<circle cx="291.9" cy="476.5" r="2.1" fill="none" stroke="#f01818" stroke-width="0.85"/>
<circle cx="234.3" cy="491.1" r="2.1" fill="none" stroke="#f01818" stroke-width="0.85"/>
<circle cx="311.3" cy="494.6" r="2.1" fill="none" stroke="#f01818" stroke-width="0.85"/>
<line x1="88.5" y1="522.3" x2="86.5" y2="523.9" stroke="#222" stroke-width="1.1"/>
<line x1="125.5" y1="529.4" x2="123.5" y2="531" stroke="#222" stroke-width="1.1"/>
<line x1="163.5" y1="536.8" x2="161.5" y2="538.4" stroke="#222" stroke-width="1.1"/>
<line x1="235.5" y1="535.2" x2="233.5" y2="536.8" stroke="#222" stroke-width="1.1"/>
<line x1="268.5" y1="526" x2="266.5" y2="527.6" stroke="#222" stroke-width="1.1"/>
<line x1="298.9" y1="517.6" x2="296.9" y2="519.2" stroke="#222" stroke-width="1.1"/>
<line x1="49.3" y1="351.3" x2="52.5" y2="351.3" stroke="#222" stroke-width="0.9"/>
<text x="45" y="354.4" font-size="8.6" text-anchor="end" fill="#333">500</text>
<line x1="49.3" y1="392.3" x2="52.5" y2="392.3" stroke="#222" stroke-width="0.9"/>
<text x="45" y="395.4" font-size="8.6" text-anchor="end" fill="#333">550</text>
<line x1="49.3" y1="433.2" x2="52.5" y2="433.2" stroke="#222" stroke-width="0.9"/>
<text x="45" y="436.3" font-size="8.6" text-anchor="end" fill="#333">600</text>
<line x1="49.3" y1="474.2" x2="52.5" y2="474.2" stroke="#222" stroke-width="0.9"/>
<text x="45" y="477.3" font-size="8.6" text-anchor="end" fill="#333">650</text>
<line x1="49.3" y1="515.2" x2="52.5" y2="515.2" stroke="#222" stroke-width="0.9"/>
<text x="45" y="518.3" font-size="8.6" text-anchor="end" fill="#333">700</text>
<text x="25.3" y="433.3" font-size="10" text-anchor="middle" fill="#333" transform="rotate(-90 25.3 433.3)">Depth (km)</text>
<text x="37" y="527" font-size="8.6" text-anchor="middle" fill="#333">55.5</text>
<text x="78.3" y="533.7" font-size="8.6" text-anchor="middle" fill="#333">55</text>
<text x="112.2" y="540.6" font-size="8.6" text-anchor="middle" fill="#333">54.5</text>
<text x="153.1" y="548.2" font-size="8.6" text-anchor="middle" fill="#333">54</text>
<text x="187.2" y="555.1" font-size="8.6" text-anchor="middle" fill="#333">53.5</text>
<text x="220.5" y="554.7" font-size="8.6" text-anchor="middle" fill="#333">152.5</text>
<text x="248.4" y="545.9" font-size="8.6" text-anchor="middle" fill="#333">153</text>
<text x="283.6" y="537.6" font-size="8.6" text-anchor="middle" fill="#333">153.5</text>
<text x="311.8" y="529.3" font-size="8.6" text-anchor="middle" fill="#333">154</text>
<text x="4.7" y="342.9" font-size="17.5" text-anchor="start" fill="#000">(e)</text>
<text x="108.8" y="562.5" font-size="10" text-anchor="middle" fill="#333">Latitude (°)</text>
<text x="299.8" y="561.5" font-size="10" text-anchor="middle" fill="#333">Longitude (°)</text>
<g transform="translate(494.6 0) scale(0.95 1) translate(-178.4 0)">
<path d="M53.3 444.2 L57.2 442.6 L64.8 440.2 L74.1 437.6 L82.8 435 L91 432.4 L99.7 429.7 L108.2 427.2 L115.7 425.2 L121.9 423.9 L127.3 423 L132.3 422.4 L137.6 421.9 L143.3 421.4 L149 421.2 L154.7 421 L160 420.8 L165.4 420.3 L170.7 419.7 L175.3 419.5 L178.6 420.6 L180.3 423.7 L180.9 428.2 L180.3 432.8 L178.6 436.1 L175.1 437.6 L170 438.1 L164.6 438.2 L160 438.5 L157.1 439 L155.1 439.5 L152.7 440 L148.5 440.5 L142.1 441.1 L134.1 441.7 L125.2 442.2 L115.7 442.7 L104.9 443.1 L92.9 443.4 L81.3 443.7 L71.9 443.9 L64.4 444.3 L58 444.7 L54 444.8 Z" fill="#ece2e2" stroke="none" stroke-width="1"/>
<path d="M178.5 412 L179.5 410.4 L180.9 410.1 L182.7 410 L184.9 409.4 L187.5 407.9 L190.6 406.2 L193.9 404.1 L197.3 402 L200.9 399.7 L204.8 397.3 L208.7 394.7 L212.2 392 L215.5 389.1 L218.7 385.9 L221.4 382.8 L223.4 379.6 L224.5 376.5 L224.9 373.4 L224.9 370.3 L224.6 367.2 L224 364.1 L222.9 361 L221.8 357.9 L220.9 354.8 L220.3 351.7 L219.9 348.5 L219.7 345.5 L219.7 343 L219.9 341 L220.3 339.4 L221 338.1 L222 337 L223.4 336.1 L225.2 335.5 L227.2 335 L229.6 334.5 L232.5 333.8 L235.8 333.1 L239.1 332.6 L242 332.5 L244.2 332.7 L246 333.1 L247.7 334.1 L249.4 336.2 L251.2 339.9 L252.8 344.8 L254.7 350.1 L256.9 354.8 L259.5 358.9 L262.5 362.9 L265.7 366.5 L269.3 369.7 L273.2 372.4 L277.5 374.7 L282 376.7 L286.6 378.4 L291.5 379.8 L296.8 380.8 L301.9 381.5 L306.5 382.1 L310.5 382.5 L314.1 382.6 L317.3 382.5 L320 382.5 L322.3 382.2 L324.2 381.6 L325.6 381.3 L326.3 382.1 L326.2 384.2 L325.3 387.2 L324.2 390.7 L323.2 394.5 L322.4 398.5 L321.5 402.9 L320.7 407.4 L320.3 411.9 L320.2 416.2 L320.4 420.4 L320.8 424.7 L321.4 429.2 L322.9 434.5 L325.2 440.3 L326.7 445.6 L326.3 449 L323.3 450 L318.4 449.4 L312.6 447.9 L306.5 446.6 L300.1 445.5 L293 444.2 L285.8 442.8 L279.2 441.5 L273.2 440.3 L267.6 439.1 L262.2 437.9 L256.9 436.7 L251.7 435.4 L246.6 434.1 L241.7 432.9 L237 431.7 L232.6 430.6 L228.3 429.5 L224.1 428.6 L219.7 428 L214.7 427.7 L209.4 427.7 L204.3 427.8 L199.8 428 L196.1 428.2 L192.9 428.6 L190.1 428.9 L187.4 429.2 L184.8 429.8 L182.3 430.5 L180.2 430.7 L178.7 429.5 L177.9 426 L177.7 420.9 L177.9 415.7 Z" fill="#efe4e4" stroke="none" stroke-width="1"/>
<path d="M220.2 344 L220.6 344 L221.5 345.2 L222.5 347.1 L223.5 349 L224.6 350.9 L225.8 353.2 L227 355.6 L228 358 L228.8 360.5 L229.6 363 L230.2 365.5 L230.5 368 L230.6 370.3 L230.4 372.6 L230 374.8 L229.5 377 L228.8 379.3 L227.9 381.7 L226.9 384 L226 386 L225 388.1 L223.9 390.2 L223 391.8 L222.5 392 L222.7 390.5 L223.3 387.7 L224 384.3 L224.5 381 L224.8 377.7 L224.9 374.2 L225 370.6 L224.8 367.2 L224.3 364 L223.5 360.9 L222.7 357.9 L222 355 L221.4 351.8 L220.7 348.4 L220.3 345.6 Z" fill="#dcc3c3" stroke="none" stroke-width="1"/>
<ellipse cx="244" cy="409" rx="13" ry="8" fill="url(#hl)"/>
<path d="M52.5 351.3 L178.4 318.4 L328.2 346 V509.4" fill="none" stroke="#222" stroke-width="1"/>
<path d="M52.5 351.3 V515.4 L178.4 483 L328.2 509.4" fill="none" stroke="#222" stroke-width="1"/>
<path d="M178.4 318.4 V483" fill="none" stroke="#222" stroke-width="1"/>
<path d="M52.5 515.4 L202 544.3 L328.2 509.4 L332.5 510.6" fill="none" stroke="#222" stroke-width="1"/>
</g>
<path d="M467.2 492.0 465.0 492.3 463.0 494.3 461.8 496.8 461.0 500.8 461.3 507.3 463.2 511.8 463.0 515.3 464.0 517.8 465.5 519.0 467.0 518.8 468.5 517.0 469.0 515.3 469.0 512.8 470.0 511.7 471.2 509.2 472.0 505.2 472.0 500.8 471.2 496.8 469.5 493.7Z" fill="#8020c0"/><path d="M467.2 492.0 465.0 492.3 463.0 494.3 461.8 496.8 461.0 500.8 461.3 507.3 463.2 511.8 463.0 515.3 464.0 517.8 465.5 519.0 467.0 518.8 468.5 517.0 469.0 515.3 469.0 512.8 470.0 511.7 471.2 509.2 472.0 505.2 472.0 500.8 471.2 496.8 469.5 493.7Z" fill="url(#sh1)"/>
<path d="M459.8 424.5 458.1 424.8 456.8 426.2 455.8 428.2 455.1 431.0 455.5 436.5 456.5 438.5 457.8 439.5 459.5 439.2 460.8 437.8 461.8 435.8 462.5 433.0 462.1 427.5 461.1 425.5Z" fill="#c8c020"/><path d="M459.8 424.5 458.1 424.8 456.8 426.2 455.8 428.2 455.1 431.0 455.5 436.5 456.5 438.5 457.8 439.5 459.5 439.2 460.8 437.8 461.8 435.8 462.5 433.0 462.1 427.5 461.1 425.5Z" fill="url(#sh6)"/>
<path d="M466.7 403.1 463.8 403.5 460.3 406.1 457.2 411.3 455.8 415.3 455.2 420.0 455.8 425.6 457.3 428.5 458.7 429.6 460.0 430.1 462.8 429.8 466.3 427.1 469.5 422.0 470.8 418.0 471.5 413.3 470.8 407.6 469.3 404.8 468.0 403.6Z" fill="#c8501a"/><path d="M466.7 403.1 463.8 403.5 460.3 406.1 457.2 411.3 455.8 415.3 455.2 420.0 455.8 425.6 457.3 428.5 458.7 429.6 460.0 430.1 462.8 429.8 466.3 427.1 469.5 422.0 470.8 418.0 471.5 413.3 470.8 407.6 469.3 404.8 468.0 403.6Z" fill="url(#sh7)"/>
<path d="M481.8 387.1 480.4 387.1 478.6 387.7 475.9 390.2 473.8 393.9 472.4 397.9 471.9 400.9 472.3 407.6 473.8 410.9 474.8 411.9 476.4 412.7 477.8 412.7 479.6 412.1 482.3 409.6 484.4 405.9 485.8 401.9 486.3 398.9 485.9 392.2 484.4 388.9 483.4 387.9Z" fill="url(#lgF)"/><path d="M481.8 387.1 480.4 387.1 478.6 387.7 475.9 390.2 473.8 393.9 472.4 397.9 471.9 400.9 472.3 407.6 473.8 410.9 474.8 411.9 476.4 412.7 477.8 412.7 479.6 412.1 482.3 409.6 484.4 405.9 485.8 401.9 486.3 398.9 485.9 392.2 484.4 388.9 483.4 387.9Z" fill="url(#sh5)"/>
<path d="M479.7 410.0 478.0 410.0 476.3 410.8 474.2 413.8 473.5 416.5 473.5 419.5 474.2 422.2 475.2 423.8 472.3 425.5 470.3 427.8 468.5 432.2 468.0 435.0 468.3 441.2 470.3 446.2 472.3 448.5 475.7 450.2 478.8 449.8 482.0 447.5 484.2 443.8 485.3 439.0 485.3 435.0 484.8 432.2 483.0 427.8 481.0 425.5 483.0 423.2 483.8 421.2 484.2 419.5 484.0 415.5 482.3 411.8 481.3 410.8Z" fill="url(#ctF)"/><path d="M479.7 410.0 478.0 410.0 476.3 410.8 474.2 413.8 473.5 416.5 473.5 419.5 474.2 422.2 475.2 423.8 472.3 425.5 470.3 427.8 468.5 432.2 468.0 435.0 468.3 441.2 470.3 446.2 472.3 448.5 475.7 450.2 478.8 449.8 482.0 447.5 484.2 443.8 485.3 439.0 485.3 435.0 484.8 432.2 483.0 427.8 481.0 425.5 483.0 423.2 483.8 421.2 484.2 419.5 484.0 415.5 482.3 411.8 481.3 410.8Z" fill="url(#sh1)"/>
<path d="M490.9 401.1 489.9 401.6 488.5 403.1 486.7 408.1 485.9 415.9 486.0 420.9 487.2 428.3 488.9 433.1 490.7 435.9 492.0 436.9 493.5 437.1 494.5 436.6 495.9 435.1 497.7 430.1 498.5 422.3 498.4 417.3 497.2 409.9 495.5 405.1 493.7 402.3 492.4 401.3Z" fill="#58b828"/><path d="M490.9 401.1 489.9 401.6 488.5 403.1 486.7 408.1 485.9 415.9 486.0 420.9 487.2 428.3 488.9 433.1 490.7 435.9 492.0 436.9 493.5 437.1 494.5 436.6 495.9 435.1 497.7 430.1 498.5 422.3 498.4 417.3 497.2 409.9 495.5 405.1 493.7 402.3 492.4 401.3Z" fill="url(#sh8)"/>
<path d="M519.2 408.2 517.7 408.9 516.5 410.0 515.7 412.0 515.7 414.0 516.5 416.0 517.7 417.2 519.2 417.9 520.9 417.9 522.4 417.2 523.5 416.0 524.4 414.0 524.4 412.0 523.5 410.0 522.4 408.9 520.9 408.2Z" fill="#30b080"/><path d="M519.2 408.2 517.7 408.9 516.5 410.0 515.7 412.0 515.7 414.0 516.5 416.0 517.7 417.2 519.2 417.9 520.9 417.9 522.4 417.2 523.5 416.0 524.4 414.0 524.4 412.0 523.5 410.0 522.4 408.9 520.9 408.2Z" fill="url(#sh1)"/>
<path d="M519.5 412.0 518.0 412.0 515.7 413.2 511.5 417.7 507.0 425.8 503.7 434.8 501.3 445.2 500.8 454.3 501.8 459.2 502.7 460.7 504.5 462.0 506.0 462.0 508.3 460.8 512.5 456.3 517.0 448.2 520.3 439.2 522.7 428.8 523.2 419.7 522.2 414.8 521.3 413.3Z" fill="url(#blF)"/><path d="M519.5 412.0 518.0 412.0 515.7 413.2 511.5 417.7 507.0 425.8 503.7 434.8 501.3 445.2 500.8 454.3 501.8 459.2 502.7 460.7 504.5 462.0 506.0 462.0 508.3 460.8 512.5 456.3 517.0 448.2 520.3 439.2 522.7 428.8 523.2 419.7 522.2 414.8 521.3 413.3Z" fill="url(#sh9)"/>
<path d="M502.6 462.3 500.3 462.4 497.3 464.8 495.1 468.3 493.5 473.8 493.1 479.1 493.6 482.4 495.1 485.8 496.3 486.9 497.6 487.6 500.0 487.4 503.0 485.1 505.1 481.6 506.8 476.1 507.1 470.8 506.6 467.4 505.1 464.1 504.0 462.9Z" fill="#4a20d0"/><path d="M502.6 462.3 500.3 462.4 497.3 464.8 495.1 468.3 493.5 473.8 493.1 479.1 493.6 482.4 495.1 485.8 496.3 486.9 497.6 487.6 500.0 487.4 503.0 485.1 505.1 481.6 506.8 476.1 507.1 470.8 506.6 467.4 505.1 464.1 504.0 462.9Z" fill="url(#sh10)"/>
<path d="M534.5 400.0 532.8 400.7 530.8 403.0 529.3 406.3 528.2 410.7 526.8 420.8 526.8 434.8 528.5 449.0 530.0 455.8 531.8 461.7 533.5 465.5 535.7 468.8 537.8 470.7 539.5 471.0 541.2 470.3 543.2 468.0 544.7 464.7 545.8 460.3 547.2 450.2 547.2 436.2 545.5 422.0 544.0 415.2 542.2 409.3 540.5 405.5 538.3 402.2 536.2 400.3Z" fill="url(#bbF)"/><path d="M534.5 400.0 532.8 400.7 530.8 403.0 529.3 406.3 528.2 410.7 526.8 420.8 526.8 434.8 528.5 449.0 530.0 455.8 531.8 461.7 533.5 465.5 535.7 468.8 537.8 470.7 539.5 471.0 541.2 470.3 543.2 468.0 544.7 464.7 545.8 460.3 547.2 450.2 547.2 436.2 545.5 422.0 544.0 415.2 542.2 409.3 540.5 405.5 538.3 402.2 536.2 400.3Z" fill="url(#sh11)"/>
<path d="M552.9 420.7 551.1 421.0 549.4 423.3 549.3 426.0 550.3 427.3 552.1 427.0 553.8 424.7 553.9 422.0Z" fill="#3a80c0"/><path d="M552.9 420.7 551.1 421.0 549.4 423.3 549.3 426.0 550.3 427.3 552.1 427.0 553.8 424.7 553.9 422.0Z" fill="url(#sh4)"/>
<path d="M527.3 469.2 524.9 469.5 522.6 471.2 520.8 474.2 520.1 476.5 519.9 479.4 520.4 481.9 522.4 484.9 524.6 485.9 526.9 485.5 529.3 483.9 531.1 480.9 531.8 478.5 531.9 475.7 531.4 473.2 529.4 470.2Z" fill="#7010c0"/><path d="M527.3 469.2 524.9 469.5 522.6 471.2 520.8 474.2 520.1 476.5 519.9 479.4 520.4 481.9 522.4 484.9 524.6 485.9 526.9 485.5 529.3 483.9 531.1 480.9 531.8 478.5 531.9 475.7 531.4 473.2 529.4 470.2Z" fill="url(#sh10)"/>
<path d="M527.7 442.0 524.2 442.4 521.7 443.9 519.3 446.2 516.0 451.9 514.0 458.0 513.3 462.4 513.3 468.0 514.0 471.7 515.8 475.9 517.8 477.9 519.7 478.7 523.2 478.4 525.7 476.9 528.0 474.5 531.3 468.9 533.3 462.7 534.0 458.4 534.0 452.7 533.3 449.0 531.5 444.9 529.5 442.9Z" fill="#8010c8"/><path d="M527.7 442.0 524.2 442.4 521.7 443.9 519.3 446.2 516.0 451.9 514.0 458.0 513.3 462.4 513.3 468.0 514.0 471.7 515.8 475.9 517.8 477.9 519.7 478.7 523.2 478.4 525.7 476.9 528.0 474.5 531.3 468.9 533.3 462.7 534.0 458.4 534.0 452.7 533.3 449.0 531.5 444.9 529.5 442.9Z" fill="url(#sh5)"/>
<path d="M545.8 335.4 L544.5 337.2 L542.7 339.6 L540.6 342.5 L538.3 345.7 L536 348.9 L533.9 351.9 L531.9 354.8 L529.9 357.8 L527.9 360.8 L525.9 363.9 L523.9 366.9 L521.9 369.9 L519.9 372.9 L517.9 375.9 L515.9 378.8 L513.9 381.8 L511.9 384.8 L509.9 387.8 L507.9 390.9 L505.8 394 L503.7 397.2 L501.7 400.3 L499.8 403.2 L498 405.8 L496.4 408 L494.9 409.7 L493.5 411.3 L492.2 412.9 L490.9 414.7 L489.6 416.9 L488.3 419.6 L487.1 422.7 L485.9 426.1 L484.8 429.4 L483.7 432.5 L482.6 435.3 L481.6 437.7 L480.6 439.8 L479.6 441.7 L478.7 443.5 L477.8 445.2 L476.9 446.9 L476 448.6 L475 450.2 L474 451.8 L473.1 453.3 L472.3 454.7 L471.5 456 L470.8 457.3 L470.2 458.6 L469.7 459.8 L469.2 460.9 L468.8 461.8 L468.5 462.5" fill="none" stroke="#707070" stroke-width="0.9"/>
<path d="M547.2 336.3 L545.9 338.1 L544.1 340.5 L542 343.4 L539.7 346.6 L537.4 349.8 L535.3 352.8 L533.3 355.7 L531.3 358.7 L529.3 361.7 L527.3 364.8 L525.3 367.8 L523.3 370.8 L521.3 373.8 L519.3 376.8 L517.3 379.7 L515.3 382.7 L513.3 385.7 L511.3 388.7 L509.3 391.8 L507.2 394.9 L505.1 398.1 L503.1 401.2 L501.2 404.1 L499.4 406.7 L497.8 408.9 L496.3 410.6 L494.9 412.2 L493.6 413.8 L492.3 415.6 L491 417.8 L489.7 420.5 L488.5 423.6 L487.3 427 L486.2 430.3 L485.1 433.4 L484 436.2 L483 438.6 L482 440.7 L481 442.6 L480.1 444.4 L479.2 446.1 L478.3 447.8 L477.4 449.5 L476.4 451.1 L475.4 452.7 L474.5 454.2 L473.7 455.6 L472.9 456.9 L472.2 458.2 L471.6 459.5 L471.1 460.7 L470.6 461.8 L470.2 462.7 L469.9 463.4" fill="none" stroke="#707070" stroke-width="0.9"/>
<path d="M539.6 335.9 C537.1 355.0 539.6 369.8 551.1 374.7" fill="none" stroke="#707070" stroke-width="0.95"/>
<path d="M532.6 345.6 C530.1 364.7 532.6 379.3 544.1 384.2" fill="none" stroke="#707070" stroke-width="0.95"/>
<path d="M525.9 355.6 C523.4 374.5 525.9 389.1 537.4 393.9" fill="none" stroke="#707070" stroke-width="0.95"/>
<path d="M519.3 365.6 C516.8 384.4 519.3 398.9 530.8 403.7" fill="none" stroke="#707070" stroke-width="0.95"/>
<path d="M512.6 375.5 C510.1 394.3 512.6 408.6 524.1 413.4" fill="none" stroke="#707070" stroke-width="0.95"/>
<path d="M505.9 385.5 C503.4 404.2 505.9 418.4 517.4 423.2" fill="none" stroke="#707070" stroke-width="0.95"/>
<path d="M499.4 395.6 C496.9 414.1 499.4 428.3 510.9 433.0" fill="none" stroke="#707070" stroke-width="0.95"/>
<path d="M492.2 405.1 C489.7 423.6 492.2 437.6 503.7 442.3" fill="none" stroke="#707070" stroke-width="0.95"/>
<path d="M486.1 415.4 C483.6 433.8 486.1 447.7 497.6 452.3" fill="none" stroke="#707070" stroke-width="0.95"/>
<path d="M482.1 426.7 C479.6 445.0 482.1 458.8 493.6 463.4" fill="none" stroke="#707070" stroke-width="0.95"/>
<path d="M477.1 437.6 C474.6 455.8 477.1 469.5 488.6 474.1" fill="none" stroke="#707070" stroke-width="0.95"/>
<path d="M471.1 448.0 C468.6 466.1 471.1 479.7 482.6 484.2" fill="none" stroke="#707070" stroke-width="0.95"/>
<circle cx="474.9" cy="358.9" r="2.1" fill="none" stroke="#f01818" stroke-width="0.85"/>
<circle cx="550.7" cy="377.2" r="2.1" fill="none" stroke="#f01818" stroke-width="0.85"/>
<circle cx="526.4" cy="383.3" r="2.1" fill="none" stroke="#f01818" stroke-width="0.85"/>
<circle cx="491.3" cy="401.5" r="2.1" fill="none" stroke="#f01818" stroke-width="0.85"/>
<circle cx="504.8" cy="403.7" r="2.1" fill="none" stroke="#f01818" stroke-width="0.85"/>
<circle cx="502" cy="411.3" r="2.1" fill="none" stroke="#f01818" stroke-width="0.85"/>
<circle cx="469.1" cy="416.1" r="2.1" fill="none" stroke="#f01818" stroke-width="0.85"/>
<circle cx="591.8" cy="411.2" r="2.1" fill="none" stroke="#f01818" stroke-width="0.85"/>
<circle cx="487.4" cy="432" r="2.1" fill="none" stroke="#f01818" stroke-width="0.85"/>
<circle cx="496.8" cy="439.5" r="2.1" fill="none" stroke="#f01818" stroke-width="0.85"/>
<circle cx="494" cy="442.7" r="2.1" fill="none" stroke="#f01818" stroke-width="0.85"/>
<circle cx="517.5" cy="433.7" r="2.1" fill="none" stroke="#f01818" stroke-width="0.85"/>
<circle cx="527.2" cy="432.8" r="2.1" fill="none" stroke="#f01818" stroke-width="0.85"/>
<circle cx="517.1" cy="442.2" r="2.1" fill="none" stroke="#f01818" stroke-width="0.85"/>
<circle cx="543.2" cy="441.1" r="2.1" fill="none" stroke="#f01818" stroke-width="0.85"/>
<circle cx="547.6" cy="442.2" r="2.1" fill="none" stroke="#f01818" stroke-width="0.85"/>
<circle cx="551" cy="432" r="2.1" fill="none" stroke="#f01818" stroke-width="0.85"/>
<circle cx="564" cy="428.8" r="2.1" fill="none" stroke="#f01818" stroke-width="0.85"/>
<circle cx="560" cy="446.5" r="2.1" fill="none" stroke="#f01818" stroke-width="0.85"/>
<circle cx="545.5" cy="460.3" r="2.1" fill="none" stroke="#f01818" stroke-width="0.85"/>
<circle cx="544.8" cy="469.2" r="2.1" fill="none" stroke="#f01818" stroke-width="0.85"/>
<circle cx="547.2" cy="475.2" r="2.1" fill="none" stroke="#f01818" stroke-width="0.85"/>
<circle cx="550.3" cy="475.4" r="2.1" fill="none" stroke="#f01818" stroke-width="0.85"/>
<circle cx="569" cy="460.5" r="2.1" fill="none" stroke="#f01818" stroke-width="0.85"/>
<circle cx="566.8" cy="480.5" r="2.1" fill="none" stroke="#f01818" stroke-width="0.85"/>
<circle cx="570.9" cy="483.7" r="2.1" fill="none" stroke="#f01818" stroke-width="0.85"/>
<circle cx="513.9" cy="470.6" r="2.1" fill="none" stroke="#f01818" stroke-width="0.85"/>
<circle cx="514.5" cy="474.1" r="2.1" fill="none" stroke="#f01818" stroke-width="0.85"/>
<circle cx="547.5" cy="491" r="2.1" fill="none" stroke="#f01818" stroke-width="0.85"/>
<circle cx="579.3" cy="453" r="2.1" fill="none" stroke="#f01818" stroke-width="0.85"/>
<circle cx="572.6" cy="458.7" r="2.1" fill="none" stroke="#f01818" stroke-width="0.85"/>
<circle cx="583.7" cy="460.8" r="2.1" fill="none" stroke="#f01818" stroke-width="0.85"/>
<circle cx="586.1" cy="458.1" r="2.1" fill="none" stroke="#f01818" stroke-width="0.85"/>
<circle cx="598.5" cy="463.1" r="2.1" fill="none" stroke="#f01818" stroke-width="0.85"/>
<circle cx="595.5" cy="468.5" r="2.1" fill="none" stroke="#f01818" stroke-width="0.85"/>
<circle cx="607.3" cy="473.6" r="2.1" fill="none" stroke="#f01818" stroke-width="0.85"/>
<circle cx="602.2" cy="476.6" r="2.1" fill="none" stroke="#f01818" stroke-width="0.85"/>
<circle cx="620.8" cy="494.5" r="2.1" fill="none" stroke="#f01818" stroke-width="0.85"/>
<line x1="372" y1="351.3" x2="375.2" y2="351.3" stroke="#222" stroke-width="0.9"/>
<text x="369.5" y="354.4" font-size="8.6" text-anchor="end" fill="#333">500</text>
<line x1="372" y1="392.3" x2="375.2" y2="392.3" stroke="#222" stroke-width="0.9"/>
<text x="369.5" y="395.4" font-size="8.6" text-anchor="end" fill="#333">550</text>
<line x1="372" y1="433.2" x2="375.2" y2="433.2" stroke="#222" stroke-width="0.9"/>
<text x="369.5" y="436.3" font-size="8.6" text-anchor="end" fill="#333">600</text>
<line x1="372" y1="474.2" x2="375.2" y2="474.2" stroke="#222" stroke-width="0.9"/>
<text x="369.5" y="477.3" font-size="8.6" text-anchor="end" fill="#333">650</text>
<line x1="372" y1="515.2" x2="375.2" y2="515.2" stroke="#222" stroke-width="0.9"/>
<text x="369.5" y="518.3" font-size="8.6" text-anchor="end" fill="#333">700</text>
<text x="350.3" y="433.3" font-size="10" text-anchor="middle" fill="#333" transform="rotate(-90 350.3 433.3)">Depth (km)</text>
<text x="360.9" y="526.7" font-size="8.6" text-anchor="middle" fill="#333">55.5</text>
<text x="399" y="533.6" font-size="8.6" text-anchor="middle" fill="#333">55</text>
<text x="431.2" y="540.8" font-size="8.6" text-anchor="middle" fill="#333">54.5</text>
<text x="470.5" y="547.8" font-size="8.6" text-anchor="middle" fill="#333">54</text>
<text x="503" y="555.3" font-size="8.6" text-anchor="middle" fill="#333">53.5</text>
<text x="534.2" y="553.6" font-size="8.6" text-anchor="middle" fill="#333">152.5</text>
<text x="561.2" y="545.5" font-size="8.6" text-anchor="middle" fill="#333">153</text>
<text x="594" y="536.6" font-size="8.6" text-anchor="middle" fill="#333">153.5</text>
<text x="621" y="528.5" font-size="8.6" text-anchor="middle" fill="#333">154</text>
<text x="658.7" y="520.3" font-size="8.6" text-anchor="middle" fill="#333">154.5</text>
<text x="336.2" y="342.9" font-size="17.5" text-anchor="start" fill="#000">(f)</text>
<line x1="409" y1="521.8" x2="407" y2="523.4" stroke="#222" stroke-width="1.1"/>
<line x1="444.5" y1="528.9" x2="442.5" y2="530.5" stroke="#222" stroke-width="1.1"/>
<line x1="481" y1="536.2" x2="479" y2="537.8" stroke="#222" stroke-width="1.1"/>
<line x1="549.5" y1="534.6" x2="547.5" y2="536.2" stroke="#222" stroke-width="1.1"/>
<line x1="580" y1="526" x2="578" y2="527.6" stroke="#222" stroke-width="1.1"/>
<line x1="609.5" y1="517.6" x2="607.5" y2="519.2" stroke="#222" stroke-width="1.1"/>
<text x="428.2" y="563" font-size="10" text-anchor="middle" fill="#333">Latitude (°)</text>
<text x="609.7" y="561.3" font-size="10" text-anchor="middle" fill="#333">Longitude (°)</text>
<rect x="648.1" y="393.1" width="7.6" height="114.2" fill="url(#t3)"/>
<text x="658.6" y="507.2" font-size="8.2" text-anchor="start" fill="#333">1</text>
<text x="658.6" y="495.2" font-size="8.2" text-anchor="start" fill="#333">5</text>
<text x="658.6" y="480.2" font-size="8.2" text-anchor="start" fill="#333">10</text>
<text x="658.6" y="465.2" font-size="8.2" text-anchor="start" fill="#333">15</text>
<text x="658.6" y="450.2" font-size="8.2" text-anchor="start" fill="#333">20</text>
<text x="658.6" y="435.2" font-size="8.2" text-anchor="start" fill="#333">25</text>
<text x="658.6" y="420.2" font-size="8.2" text-anchor="start" fill="#333">30</text>
<text x="658.6" y="405.2" font-size="8.2" text-anchor="start" fill="#333">35</text>
<text x="678" y="449.7" font-size="8.4" text-anchor="middle" fill="#333" transform="rotate(-90 678 449.7)">Time (s)</text>
<defs><radialGradient id="hl"><stop offset="0" stop-color="#fdf8f8"/><stop offset="1" stop-color="#efe4e4" stop-opacity="0"/></radialGradient><linearGradient id="orE" x1="0" y1="0" x2="0" y2="1"><stop offset="0" stop-color="#b85a10"/><stop offset="0.35" stop-color="#e09020"/><stop offset="0.7" stop-color="#e0c020"/><stop offset="1" stop-color="#d0b818"/></linearGradient><linearGradient id="tlE" x1="0" y1="0" x2="1" y2="0.8"><stop offset="0" stop-color="#1e7048"/><stop offset="0.45" stop-color="#2a88a0"/><stop offset="0.75" stop-color="#34a0c0"/><stop offset="1" stop-color="#40b4d4"/></linearGradient><linearGradient id="rcE" x1="0" y1="0" x2="0" y2="1"><stop offset="0" stop-color="#2020e0"/><stop offset="0.45" stop-color="#2018d8"/><stop offset="0.6" stop-color="#4a14c8"/><stop offset="0.8" stop-color="#7a1ad8"/><stop offset="1" stop-color="#9a28e8"/></linearGradient><linearGradient id="ygE" x1="0" y1="0" x2="0" y2="1"><stop offset="0" stop-color="#a8c020"/><stop offset="1" stop-color="#98b818"/></linearGradient><linearGradient id="sh0" x1="0" y1="0.5" x2="1" y2="0.5" gradientTransform="rotate(8 0.5 0.5)"><stop offset="0" stop-color="#000" stop-opacity="0.38"/><stop offset="0.28" stop-color="#000" stop-opacity="0.05"/><stop offset="0.5" stop-color="#fff" stop-opacity="0.12"/><stop offset="0.68" stop-color="#fff" stop-opacity="0.32"/><stop offset="0.82" stop-color="#fff" stop-opacity="0.08"/><stop offset="1" stop-color="#000" stop-opacity="0.3"/></linearGradient><linearGradient id="sh1" x1="0" y1="0.5" x2="1" y2="0.5" gradientTransform="rotate(0 0.5 0.5)"><stop offset="0" stop-color="#000" stop-opacity="0.38"/><stop offset="0.28" stop-color="#000" stop-opacity="0.05"/><stop offset="0.5" stop-color="#fff" stop-opacity="0.12"/><stop offset="0.68" stop-color="#fff" stop-opacity="0.32"/><stop offset="0.82" stop-color="#fff" stop-opacity="0.08"/><stop offset="1" stop-color="#000" stop-opacity="0.3"/></linearGradient><linearGradient id="sh2" x1="0" y1="0.5" x2="1" y2="0.5" gradientTransform="rotate(2 0.5 0.5)"><stop offset="0" stop-color="#000" stop-opacity="0.38"/><stop offset="0.28" stop-color="#000" stop-opacity="0.05"/><stop offset="0.5" stop-color="#fff" stop-opacity="0.12"/><stop offset="0.68" stop-color="#fff" stop-opacity="0.32"/><stop offset="0.82" stop-color="#fff" stop-opacity="0.08"/><stop offset="1" stop-color="#000" stop-opacity="0.3"/></linearGradient><linearGradient id="sh3" x1="0" y1="0.5" x2="1" y2="0.5" gradientTransform="rotate(30 0.5 0.5)"><stop offset="0" stop-color="#000" stop-opacity="0.38"/><stop offset="0.28" stop-color="#000" stop-opacity="0.05"/><stop offset="0.5" stop-color="#fff" stop-opacity="0.12"/><stop offset="0.68" stop-color="#fff" stop-opacity="0.32"/><stop offset="0.82" stop-color="#fff" stop-opacity="0.08"/><stop offset="1" stop-color="#000" stop-opacity="0.3"/></linearGradient><linearGradient id="sh4" x1="0" y1="0.5" x2="1" y2="0.5" gradientTransform="rotate(20 0.5 0.5)"><stop offset="0" stop-color="#000" stop-opacity="0.38"/><stop offset="0.28" stop-color="#000" stop-opacity="0.05"/><stop offset="0.5" stop-color="#fff" stop-opacity="0.12"/><stop offset="0.68" stop-color="#fff" stop-opacity="0.32"/><stop offset="0.82" stop-color="#fff" stop-opacity="0.08"/><stop offset="1" stop-color="#000" stop-opacity="0.3"/></linearGradient><linearGradient id="sh5" x1="0" y1="0.5" x2="1" y2="0.5" gradientTransform="rotate(12 0.5 0.5)"><stop offset="0" stop-color="#000" stop-opacity="0.38"/><stop offset="0.28" stop-color="#000" stop-opacity="0.05"/><stop offset="0.5" stop-color="#fff" stop-opacity="0.12"/><stop offset="0.68" stop-color="#fff" stop-opacity="0.32"/><stop offset="0.82" stop-color="#fff" stop-opacity="0.08"/><stop offset="1" stop-color="#000" stop-opacity="0.3"/></linearGradient><linearGradient id="ctF" x1="0" y1="0" x2="0" y2="1"><stop offset="0" stop-color="#30b040"/><stop offset="0.35" stop-color="#28a868"/><stop offset="0.55" stop-color="#2a98b0"/><stop offset="1" stop-color="#48c4dc"/></linearGradient><linearGradient id="bbF" x1="0" y1="0" x2="0" y2="1"><stop offset="0" stop-color="#3ca8c4"/><stop offset="0.35" stop-color="#3290cc"/><stop offset="0.5" stop-color="#2450dc"/><stop offset="1" stop-color="#1c22cc"/></linearGradient><linearGradient id="blF" x1="0" y1="0" x2="0" y2="1"><stop offset="0" stop-color="#2a98b8"/><stop offset="0.45" stop-color="#2a64d0"/><stop offset="1" stop-color="#2040dc"/></linearGradient><linearGradient id="lgF" x1="0" y1="0" x2="0" y2="1"><stop offset="0" stop-color="#80cc30"/><stop offset="1" stop-color="#60c028"/></linearGradient><linearGradient id="sh6" x1="0" y1="0.5" x2="1" y2="0.5" gradientTransform="rotate(5 0.5 0.5)"><stop offset="0" stop-color="#000" stop-opacity="0.38"/><stop offset="0.28" stop-color="#000" stop-opacity="0.05"/><stop offset="0.5" stop-color="#fff" stop-opacity="0.12"/><stop offset="0.68" stop-color="#fff" stop-opacity="0.32"/><stop offset="0.82" stop-color="#fff" stop-opacity="0.08"/><stop offset="1" stop-color="#000" stop-opacity="0.3"/></linearGradient><linearGradient id="sh7" x1="0" y1="0.5" x2="1" y2="0.5" gradientTransform="rotate(15 0.5 0.5)"><stop offset="0" stop-color="#000" stop-opacity="0.38"/><stop offset="0.28" stop-color="#000" stop-opacity="0.05"/><stop offset="0.5" stop-color="#fff" stop-opacity="0.12"/><stop offset="0.68" stop-color="#fff" stop-opacity="0.32"/><stop offset="0.82" stop-color="#fff" stop-opacity="0.08"/><stop offset="1" stop-color="#000" stop-opacity="0.3"/></linearGradient><linearGradient id="sh8" x1="0" y1="0.5" x2="1" y2="0.5" gradientTransform="rotate(-3 0.5 0.5)"><stop offset="0" stop-color="#000" stop-opacity="0.38"/><stop offset="0.28" stop-color="#000" stop-opacity="0.05"/><stop offset="0.5" stop-color="#fff" stop-opacity="0.12"/><stop offset="0.68" stop-color="#fff" stop-opacity="0.32"/><stop offset="0.82" stop-color="#fff" stop-opacity="0.08"/><stop offset="1" stop-color="#000" stop-opacity="0.3"/></linearGradient><linearGradient id="sh9" x1="0" y1="0.5" x2="1" y2="0.5" gradientTransform="rotate(17 0.5 0.5)"><stop offset="0" stop-color="#000" stop-opacity="0.38"/><stop offset="0.28" stop-color="#000" stop-opacity="0.05"/><stop offset="0.5" stop-color="#fff" stop-opacity="0.12"/><stop offset="0.68" stop-color="#fff" stop-opacity="0.32"/><stop offset="0.82" stop-color="#fff" stop-opacity="0.08"/><stop offset="1" stop-color="#000" stop-opacity="0.3"/></linearGradient><linearGradient id="sh10" x1="0" y1="0.5" x2="1" y2="0.5" gradientTransform="rotate(10 0.5 0.5)"><stop offset="0" stop-color="#000" stop-opacity="0.38"/><stop offset="0.28" stop-color="#000" stop-opacity="0.05"/><stop offset="0.5" stop-color="#fff" stop-opacity="0.12"/><stop offset="0.68" stop-color="#fff" stop-opacity="0.32"/><stop offset="0.82" stop-color="#fff" stop-opacity="0.08"/><stop offset="1" stop-color="#000" stop-opacity="0.3"/></linearGradient><linearGradient id="sh11" x1="0" y1="0.5" x2="1" y2="0.5" gradientTransform="rotate(-4 0.5 0.5)"><stop offset="0" stop-color="#000" stop-opacity="0.38"/><stop offset="0.28" stop-color="#000" stop-opacity="0.05"/><stop offset="0.5" stop-color="#fff" stop-opacity="0.12"/><stop offset="0.68" stop-color="#fff" stop-opacity="0.32"/><stop offset="0.82" stop-color="#fff" stop-opacity="0.08"/><stop offset="1" stop-color="#000" stop-opacity="0.3"/></linearGradient><linearGradient id="t3" x1="0" y1="1" x2="0" y2="0"><stop offset="0.000" stop-color="#dc0000"/><stop offset="0.053" stop-color="#ff1400"/><stop offset="0.132" stop-color="#ff5000"/><stop offset="0.184" stop-color="#ff8c00"/><stop offset="0.263" stop-color="#f0eb00"/><stop offset="0.316" stop-color="#a0e100"/><stop offset="0.395" stop-color="#00cd00"/><stop offset="0.474" stop-color="#00cda0"/><stop offset="0.526" stop-color="#00bee1"/><stop offset="0.579" stop-color="#1e8cff"/><stop offset="0.658" stop-color="#1e3cff"/><stop offset="0.737" stop-color="#1414f0"/><stop offset="0.816" stop-color="#5a00f0"/><stop offset="0.868" stop-color="#8c00e1"/><stop offset="0.947" stop-color="#6e00aa"/><stop offset="1.000" stop-color="#500082"/></linearGradient></defs>
</svg></body></html>
